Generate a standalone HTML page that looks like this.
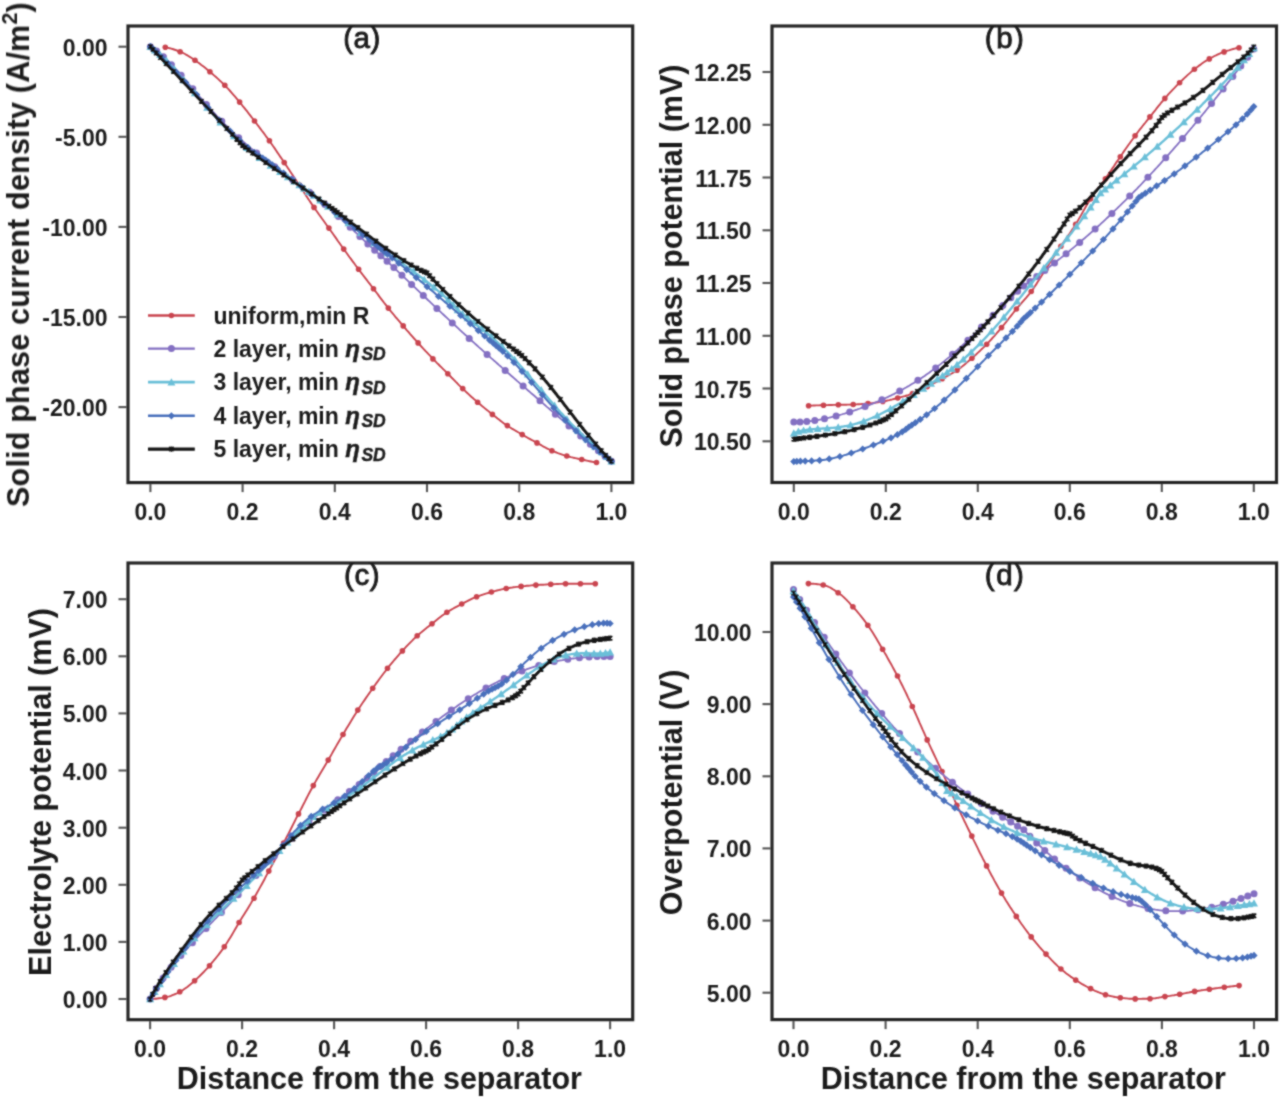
<!DOCTYPE html>
<html><head><meta charset="utf-8"><style>
html,body{margin:0;padding:0;background:#fff;width:1280px;height:1097px;overflow:hidden}
svg{display:block;font-family:"Liberation Sans",sans-serif}
.tk{font-size:23px;font-weight:bold;fill:#1c1c1c}
.ax{font-size:30.5px;font-weight:bold;fill:#1c1c1c}
.pl{font-size:29.5px;font-weight:normal;fill:#1c1c1c;stroke:#1c1c1c;stroke-width:0.9px}
.lg{font-size:23px;font-weight:bold;fill:#1c1c1c}
.eta{font-style:italic;font-size:24px;stroke:#1c1c1c;stroke-width:0.5px}
.sd{font-style:italic;font-size:17.5px;stroke:#1c1c1c;stroke-width:0.4px}
.sup{font-size:21.5px}
</style></head><body>
<svg width="1280" height="1097" viewBox="0 0 1280 1097">
<defs><filter id="bl" x="0" y="0" width="1280" height="1097" filterUnits="userSpaceOnUse"><feConvolveMatrix order="3" kernelMatrix="1 2 1 2 8 2 1 2 1" divisor="20" edgeMode="none"/></filter></defs>
<rect width="1280" height="1097" fill="#fff"/>
<g filter="url(#bl)">
<line x1="150.4" y1="484.1" x2="150.4" y2="492.1" stroke="#555" stroke-width="2.1"/>
<text x="150.4" y="519.6" text-anchor="middle" class="tk">0.0</text>
<line x1="242.6" y1="484.1" x2="242.6" y2="492.1" stroke="#555" stroke-width="2.1"/>
<text x="242.6" y="519.6" text-anchor="middle" class="tk">0.2</text>
<line x1="334.8" y1="484.1" x2="334.8" y2="492.1" stroke="#555" stroke-width="2.1"/>
<text x="334.8" y="519.6" text-anchor="middle" class="tk">0.4</text>
<line x1="427.0" y1="484.1" x2="427.0" y2="492.1" stroke="#555" stroke-width="2.1"/>
<text x="427.0" y="519.6" text-anchor="middle" class="tk">0.6</text>
<line x1="519.2" y1="484.1" x2="519.2" y2="492.1" stroke="#555" stroke-width="2.1"/>
<text x="519.2" y="519.6" text-anchor="middle" class="tk">0.8</text>
<line x1="611.4" y1="484.1" x2="611.4" y2="492.1" stroke="#555" stroke-width="2.1"/>
<text x="611.4" y="519.6" text-anchor="middle" class="tk">1.0</text>
<line x1="126.5" y1="46.7" x2="118.5" y2="46.7" stroke="#555" stroke-width="2.1"/>
<text x="107.5" y="55.7" text-anchor="end" class="tk">0.00</text>
<line x1="126.5" y1="136.8" x2="118.5" y2="136.8" stroke="#555" stroke-width="2.1"/>
<text x="107.5" y="145.8" text-anchor="end" class="tk">-5.00</text>
<line x1="126.5" y1="226.9" x2="118.5" y2="226.9" stroke="#555" stroke-width="2.1"/>
<text x="107.5" y="235.9" text-anchor="end" class="tk">-10.00</text>
<line x1="126.5" y1="317.0" x2="118.5" y2="317.0" stroke="#555" stroke-width="2.1"/>
<text x="107.5" y="326.0" text-anchor="end" class="tk">-15.00</text>
<line x1="126.5" y1="407.1" x2="118.5" y2="407.1" stroke="#555" stroke-width="2.1"/>
<text x="107.5" y="416.1" text-anchor="end" class="tk">-20.00</text>
<path d="M165.4 47.3 L166.8 47.6 L168.3 47.9 L169.7 48.2 L171.2 48.6 L172.6 49.0 L174.0 49.5 L175.5 50.0 L176.9 50.5 L178.3 51.0 L179.8 51.6 L181.2 52.2 L182.7 52.8 L184.1 53.5 L185.5 54.3 L187.0 55.1 L188.4 56.0 L189.8 56.9 L191.3 57.8 L192.7 58.8 L194.2 59.7 L195.6 60.7 L197.0 61.7 L198.5 62.7 L199.9 63.8 L201.3 64.9 L202.8 66.0 L204.2 67.1 L205.7 68.3 L207.1 69.5 L208.5 70.7 L210.0 71.9 L211.4 73.1 L212.8 74.3 L214.3 75.6 L215.7 76.8 L217.2 78.1 L218.6 79.4 L220.0 80.8 L221.5 82.1 L222.9 83.5 L224.3 84.9 L225.8 86.4 L227.2 87.9 L228.7 89.4 L230.1 91.0 L231.5 92.6 L233.0 94.3 L234.4 95.9 L235.9 97.6 L237.3 99.3 L238.7 101.1 L240.2 102.8 L241.6 104.5 L243.0 106.3 L244.5 108.1 L245.9 109.9 L247.4 111.7 L248.8 113.6 L250.2 115.4 L251.7 117.3 L253.1 119.2 L254.5 121.1 L256.0 122.9 L257.4 124.8 L258.9 126.7 L260.3 128.6 L261.7 130.5 L263.2 132.4 L264.6 134.3 L266.0 136.3 L267.5 138.2 L268.9 140.2 L270.4 142.2 L271.8 144.2 L273.2 146.3 L274.7 148.4 L276.1 150.5 L277.5 152.6 L279.0 154.7 L280.4 156.9 L281.9 159.0 L283.3 161.2 L284.7 163.3 L286.2 165.4 L287.6 167.6 L289.1 169.7 L290.5 171.9 L291.9 174.0 L293.4 176.2 L294.8 178.4 L296.2 180.5 L297.7 182.7 L299.1 184.9 L300.6 187.0 L302.0 189.2 L303.4 191.5 L304.9 193.7 L306.3 195.9 L307.7 198.1 L309.2 200.3 L310.6 202.4 L312.1 204.6 L313.5 206.7 L314.9 208.8 L316.4 210.8 L317.8 212.8 L319.2 214.8 L320.7 216.8 L322.1 218.8 L323.6 220.8 L325.0 222.7 L326.4 224.7 L327.9 226.7 L329.3 228.7 L330.7 230.7 L332.2 232.8 L333.6 234.8 L335.1 236.9 L336.5 238.9 L337.9 241.0 L339.4 243.0 L340.8 245.0 L342.2 247.0 L343.7 249.0 L345.1 251.0 L346.6 253.0 L348.0 255.0 L349.4 257.0 L350.9 258.9 L352.3 260.9 L353.8 262.8 L355.2 264.8 L356.6 266.7 L358.1 268.6 L359.5 270.5 L360.9 272.4 L362.4 274.3 L363.8 276.2 L365.3 278.1 L366.7 279.9 L368.1 281.8 L369.6 283.6 L371.0 285.5 L372.4 287.4 L373.9 289.3 L375.3 291.1 L376.8 293.0 L378.2 294.9 L379.6 296.9 L381.1 298.8 L382.5 300.6 L383.9 302.5 L385.4 304.4 L386.8 306.2 L388.3 308.0 L389.7 309.8 L391.1 311.6 L392.6 313.3 L394.0 315.0 L395.4 316.8 L396.9 318.5 L398.3 320.2 L399.8 321.9 L401.2 323.6 L402.6 325.2 L404.1 326.9 L405.5 328.6 L406.9 330.3 L408.4 331.9 L409.8 333.6 L411.3 335.3 L412.7 336.9 L414.1 338.5 L415.6 340.1 L417.0 341.7 L418.5 343.3 L419.9 344.9 L421.3 346.5 L422.8 348.1 L424.2 349.6 L425.6 351.2 L427.1 352.7 L428.5 354.2 L430.0 355.7 L431.4 357.2 L432.8 358.7 L434.3 360.2 L435.7 361.7 L437.1 363.1 L438.6 364.5 L440.0 366.0 L441.5 367.4 L442.9 368.8 L444.3 370.2 L445.8 371.7 L447.2 373.1 L448.6 374.6 L450.1 376.0 L451.5 377.5 L453.0 379.0 L454.4 380.4 L455.8 381.9 L457.3 383.3 L458.7 384.8 L460.1 386.2 L461.6 387.6 L463.0 389.0 L464.5 390.3 L465.9 391.7 L467.3 393.0 L468.8 394.4 L470.2 395.7 L471.6 397.0 L473.1 398.3 L474.5 399.6 L476.0 400.8 L477.4 402.1 L478.8 403.3 L480.3 404.5 L481.7 405.7 L483.2 406.9 L484.6 408.1 L486.0 409.3 L487.5 410.4 L488.9 411.6 L490.3 412.7 L491.8 413.9 L493.2 415.0 L494.7 416.2 L496.1 417.3 L497.5 418.5 L499.0 419.6 L500.4 420.7 L501.8 421.8 L503.3 422.9 L504.7 423.9 L506.2 424.9 L507.6 425.8 L509.0 426.8 L510.5 427.7 L511.9 428.6 L513.3 429.4 L514.8 430.3 L516.2 431.1 L517.7 432.0 L519.1 432.8 L520.5 433.6 L522.0 434.5 L523.4 435.3 L524.8 436.1 L526.3 437.0 L527.7 437.8 L529.2 438.6 L530.6 439.4 L532.0 440.2 L533.5 440.9 L534.9 441.7 L536.4 442.5 L537.8 443.3 L539.2 444.1 L540.7 444.9 L542.1 445.8 L543.5 446.6 L545.0 447.3 L546.4 448.1 L547.9 448.8 L549.3 449.5 L550.7 450.2 L552.2 450.8 L553.6 451.4 L555.0 452.0 L556.5 452.5 L557.9 453.1 L559.4 453.6 L560.8 454.1 L562.2 454.6 L563.7 455.1 L565.1 455.5 L566.5 456.0 L568.0 456.4 L569.4 456.7 L570.9 457.1 L572.3 457.4 L573.7 457.8 L575.2 458.1 L576.6 458.4 L578.0 458.7 L579.5 459.1 L580.9 459.4 L582.4 459.7 L583.8 460.0 L585.2 460.3 L586.7 460.6 L588.1 460.9 L589.5 461.2 L591.0 461.5 L592.4 461.8 L593.9 462.0 L595.3 462.3" fill="none" stroke="#c9444f" stroke-width="1.9" stroke-linejoin="round"/>
<g fill="#c9444f"><circle cx="165.3" cy="47.3" r="2.8"/><circle cx="180.1" cy="51.7" r="2.8"/><circle cx="195.0" cy="60.3" r="2.8"/><circle cx="209.9" cy="71.8" r="2.8"/><circle cx="224.8" cy="85.3" r="2.8"/><circle cx="239.6" cy="102.1" r="2.8"/><circle cx="254.5" cy="121.0" r="2.8"/><circle cx="269.4" cy="140.8" r="2.8"/><circle cx="284.2" cy="162.6" r="2.8"/><circle cx="299.1" cy="184.9" r="2.8"/><circle cx="314.0" cy="207.4" r="2.8"/><circle cx="328.9" cy="228.1" r="2.8"/><circle cx="343.7" cy="249.1" r="2.8"/><circle cx="358.6" cy="269.3" r="2.8"/><circle cx="373.5" cy="288.7" r="2.8"/><circle cx="388.3" cy="308.1" r="2.8"/><circle cx="403.2" cy="325.9" r="2.8"/><circle cx="418.1" cy="342.9" r="2.8"/><circle cx="432.9" cy="358.9" r="2.8"/><circle cx="447.8" cy="373.7" r="2.8"/><circle cx="462.7" cy="388.6" r="2.8"/><circle cx="477.6" cy="402.2" r="2.8"/><circle cx="492.4" cy="414.4" r="2.8"/><circle cx="507.3" cy="425.6" r="2.8"/><circle cx="522.2" cy="434.6" r="2.8"/><circle cx="537.0" cy="442.9" r="2.8"/><circle cx="551.9" cy="450.7" r="2.8"/><circle cx="566.8" cy="456.0" r="2.8"/><circle cx="581.7" cy="459.5" r="2.8"/><circle cx="596.5" cy="462.5" r="2.8"/></g>
<path d="M150.4 46.7 L151.9 47.6 L153.5 48.7 L155.0 49.8 L156.6 50.9 L158.1 52.1 L159.7 53.4 L161.2 54.7 L162.7 56.1 L164.3 57.5 L165.8 59.0 L167.4 60.5 L168.9 62.0 L170.4 63.6 L172.0 65.2 L173.5 66.9 L175.1 68.5 L176.6 70.2 L178.2 71.9 L179.7 73.7 L181.2 75.4 L182.8 77.2 L184.3 78.9 L185.9 80.7 L187.4 82.5 L188.9 84.3 L190.5 86.1 L192.0 87.9 L193.6 89.7 L195.1 91.5 L196.7 93.3 L198.2 95.0 L199.7 96.8 L201.3 98.6 L202.8 100.4 L204.4 102.1 L205.9 103.9 L207.4 105.6 L209.0 107.4 L210.5 109.1 L212.1 110.8 L213.6 112.5 L215.2 114.1 L216.7 115.8 L218.2 117.4 L219.8 119.1 L221.3 120.7 L222.9 122.3 L224.4 123.9 L225.9 125.4 L227.5 127.0 L229.0 128.5 L230.6 130.0 L232.1 131.5 L233.7 133.0 L235.2 134.4 L236.7 135.9 L238.3 137.3 L239.8 138.7 L241.4 140.1 L242.9 141.4 L244.5 142.8 L246.0 144.1 L247.5 145.5 L249.1 146.8 L250.6 148.1 L252.2 149.3 L253.7 150.6 L255.2 151.9 L256.8 153.1 L258.3 154.3 L259.9 155.5 L261.4 156.7 L263.0 157.9 L264.5 159.1 L266.0 160.3 L267.6 161.4 L269.1 162.6 L270.7 163.7 L272.2 164.9 L273.7 166.0 L275.3 167.2 L276.8 168.3 L278.4 169.4 L279.9 170.5 L281.5 171.6 L283.0 172.7 L284.5 173.9 L286.1 175.0 L287.6 176.1 L289.2 177.2 L290.7 178.3 L292.2 179.4 L293.8 180.6 L295.3 181.7 L296.9 182.8 L298.4 183.9 L300.0 185.1 L301.5 186.2 L303.0 187.4 L304.6 188.5 L306.1 189.7 L307.7 190.9 L309.2 192.0 L310.7 193.2 L312.3 194.4 L313.8 195.6 L315.4 196.9 L316.9 198.1 L318.5 199.3 L320.0 200.6 L321.5 201.8 L323.1 203.1 L324.6 204.4 L326.2 205.7 L327.7 207.0 L329.2 208.3 L330.8 209.7 L332.3 211.0 L333.9 212.4 L335.4 213.7 L337.0 215.1 L338.5 216.5 L340.0 217.9 L341.6 219.3 L343.1 220.7 L344.7 222.1 L346.2 223.5 L347.8 225.0 L349.3 226.4 L350.8 227.9 L352.4 229.3 L353.9 230.8 L355.5 232.3 L357.0 233.7 L358.5 235.2 L360.1 236.7 L361.6 238.1 L363.2 239.6 L364.7 241.0 L366.3 242.5 L367.8 243.9 L369.3 245.4 L370.9 246.8 L372.4 248.2 L374.0 249.6 L375.5 251.0 L377.0 252.4 L378.6 253.7 L380.1 255.0 L381.7 256.4 L383.2 257.8 L384.8 259.2 L386.3 260.6 L387.8 262.0 L389.4 263.4 L390.9 264.9 L392.5 266.3 L394.0 267.7 L395.5 269.2 L397.1 270.6 L398.6 272.1 L400.2 273.5 L401.7 275.0 L403.3 276.5 L404.8 277.9 L406.3 279.4 L407.9 280.9 L409.4 282.3 L411.0 283.8 L412.5 285.3 L414.0 286.7 L415.6 288.2 L417.1 289.7 L418.7 291.2 L420.2 292.6 L421.8 294.1 L423.3 295.6 L424.8 297.0 L426.4 298.5 L427.9 300.0 L429.5 301.4 L431.0 302.9 L432.6 304.4 L434.1 305.8 L435.6 307.3 L437.2 308.7 L438.7 310.2 L440.3 311.6 L441.8 313.1 L443.3 314.5 L444.9 316.0 L446.4 317.4 L448.0 318.9 L449.5 320.3 L451.1 321.7 L452.6 323.2 L454.1 324.6 L455.7 326.0 L457.2 327.4 L458.8 328.9 L460.3 330.3 L461.8 331.7 L463.4 333.1 L464.9 334.5 L466.5 335.9 L468.0 337.3 L469.6 338.7 L471.1 340.1 L472.6 341.5 L474.2 342.9 L475.7 344.3 L477.3 345.7 L478.8 347.1 L480.3 348.4 L481.9 349.8 L483.4 351.2 L485.0 352.6 L486.5 353.9 L488.1 355.3 L489.6 356.7 L491.1 358.1 L492.7 359.4 L494.2 360.8 L495.8 362.1 L497.3 363.5 L498.8 364.9 L500.4 366.2 L501.9 367.6 L503.5 368.9 L505.0 370.3 L506.6 371.6 L508.1 373.0 L509.6 374.3 L511.2 375.7 L512.7 377.0 L514.3 378.4 L515.8 379.7 L517.3 381.1 L518.9 382.4 L520.4 383.8 L522.0 385.1 L523.5 386.4 L525.1 387.8 L526.6 389.1 L528.1 390.5 L529.7 391.8 L531.2 393.2 L532.8 394.5 L534.3 395.8 L535.9 397.2 L537.4 398.5 L538.9 399.9 L540.5 401.2 L542.0 402.5 L543.6 403.9 L545.1 405.2 L546.6 406.6 L548.2 407.9 L549.7 409.2 L551.3 410.6 L552.8 411.9 L554.4 413.2 L555.9 414.6 L557.4 415.9 L559.0 417.3 L560.5 418.6 L562.1 419.9 L563.6 421.3 L565.1 422.6 L566.7 423.9 L568.2 425.3 L569.8 426.6 L571.3 427.9 L572.9 429.2 L574.4 430.6 L575.9 431.9 L577.5 433.2 L579.0 434.5 L580.6 435.9 L582.1 437.2 L583.6 438.5 L585.2 439.8 L586.7 441.1 L588.3 442.4 L589.8 443.7 L591.4 445.0 L592.9 446.3 L594.4 447.6 L596.0 448.8 L597.5 450.1 L599.1 451.4 L600.6 452.7 L602.1 453.9 L603.7 455.2 L605.2 456.4 L606.8 457.6 L608.3 458.9 L609.9 460.1 L611.4 461.3" fill="none" stroke="#8470c2" stroke-width="1.8" stroke-linejoin="round"/>
<g fill="#8470c2"><circle cx="150.4" cy="46.7" r="3.5"/><circle cx="156.6" cy="50.9" r="3.5"/><circle cx="163.4" cy="56.7" r="3.5"/><circle cx="171.4" cy="64.7" r="3.5"/><circle cx="181.1" cy="75.3" r="3.5"/><circle cx="192.8" cy="88.7" r="3.5"/><circle cx="206.4" cy="104.4" r="3.5"/><circle cx="221.8" cy="121.2" r="3.5"/><circle cx="238.7" cy="137.7" r="3.5"/><circle cx="256.6" cy="152.9" r="3.5"/><circle cx="274.7" cy="166.8" r="3.5"/><circle cx="292.6" cy="179.7" r="3.5"/><circle cx="309.5" cy="192.3" r="3.5"/><circle cx="324.9" cy="204.6" r="3.5"/><circle cx="338.5" cy="216.5" r="3.5"/><circle cx="350.2" cy="227.2" r="3.5"/><circle cx="359.9" cy="236.4" r="3.5"/><circle cx="367.9" cy="244.0" r="3.5"/><circle cx="374.7" cy="250.3" r="3.5"/><circle cx="380.9" cy="255.7" r="3.5"/><circle cx="387.1" cy="261.3" r="3.5"/><circle cx="393.9" cy="267.6" r="3.5"/><circle cx="401.9" cy="275.2" r="3.5"/><circle cx="411.6" cy="284.4" r="3.5"/><circle cx="423.3" cy="295.5" r="3.5"/><circle cx="436.9" cy="308.5" r="3.5"/><circle cx="452.3" cy="322.9" r="3.5"/><circle cx="469.2" cy="338.4" r="3.5"/><circle cx="487.1" cy="354.4" r="3.5"/><circle cx="505.2" cy="370.5" r="3.5"/><circle cx="523.1" cy="386.1" r="3.5"/><circle cx="540.0" cy="400.8" r="3.5"/><circle cx="555.4" cy="414.2" r="3.5"/><circle cx="569.0" cy="425.9" r="3.5"/><circle cx="580.7" cy="435.9" r="3.5"/><circle cx="590.4" cy="444.2" r="3.5"/><circle cx="598.4" cy="450.8" r="3.5"/><circle cx="605.2" cy="456.4" r="3.5"/><circle cx="611.4" cy="461.3" r="3.5"/></g>
<path d="M150.4 46.7 L151.9 47.8 L153.5 49.0 L155.0 50.2 L156.6 51.5 L158.1 52.8 L159.7 54.2 L161.2 55.6 L162.7 57.0 L164.3 58.5 L165.8 60.1 L167.4 61.7 L168.9 63.3 L170.4 64.9 L172.0 66.5 L173.5 68.2 L175.1 69.9 L176.6 71.7 L178.2 73.4 L179.7 75.2 L181.2 77.0 L182.8 78.8 L184.3 80.6 L185.9 82.4 L187.4 84.2 L188.9 86.0 L190.5 87.8 L192.0 89.7 L193.6 91.5 L195.1 93.4 L196.7 95.2 L198.2 97.0 L199.7 98.8 L201.3 100.7 L202.8 102.5 L204.4 104.3 L205.9 106.1 L207.4 107.8 L209.0 109.6 L210.5 111.4 L212.1 113.1 L213.6 114.8 L215.2 116.6 L216.7 118.3 L218.2 119.9 L219.8 121.6 L221.3 123.3 L222.9 124.9 L224.4 126.5 L225.9 128.1 L227.5 129.7 L229.0 131.2 L230.6 132.7 L232.1 134.2 L233.7 135.7 L235.2 137.2 L236.7 138.6 L238.3 140.1 L239.8 141.5 L241.4 142.9 L242.9 144.2 L244.5 145.5 L246.0 146.9 L247.5 148.2 L249.1 149.4 L250.6 150.7 L252.2 151.9 L253.7 153.2 L255.2 154.4 L256.8 155.5 L258.3 156.7 L259.9 157.9 L261.4 159.0 L263.0 160.1 L264.5 161.2 L266.0 162.3 L267.6 163.4 L269.1 164.5 L270.7 165.5 L272.2 166.6 L273.7 167.6 L275.3 168.6 L276.8 169.7 L278.4 170.7 L279.9 171.7 L281.5 172.7 L283.0 173.8 L284.5 174.8 L286.1 175.8 L287.6 176.8 L289.2 177.9 L290.7 178.9 L292.2 180.0 L293.8 181.1 L295.3 182.1 L296.9 183.2 L298.4 184.3 L300.0 185.5 L301.5 186.6 L303.0 187.8 L304.6 189.0 L306.1 190.0 L307.7 191.1 L309.2 192.2 L310.7 193.3 L312.3 194.4 L313.8 195.6 L315.4 196.7 L316.9 197.9 L318.5 199.1 L320.0 200.2 L321.5 201.4 L323.1 202.6 L324.6 203.9 L326.2 205.1 L327.7 206.3 L329.2 207.5 L330.8 208.8 L332.3 210.0 L333.9 211.3 L335.4 212.5 L337.0 213.7 L338.5 215.0 L340.0 216.2 L341.6 217.5 L343.1 218.7 L344.7 220.0 L346.2 221.2 L347.8 222.5 L349.3 223.7 L350.8 225.0 L352.4 226.2 L353.9 227.4 L355.5 228.6 L357.0 229.9 L358.5 231.1 L360.1 232.3 L361.6 233.5 L363.2 234.7 L364.7 235.9 L366.3 237.1 L367.8 238.3 L369.3 239.5 L370.9 240.7 L372.4 241.8 L374.0 243.0 L375.5 244.1 L377.0 245.3 L378.6 246.5 L380.1 247.6 L381.7 248.7 L383.2 249.9 L384.8 251.0 L386.3 252.1 L387.8 253.2 L389.4 254.4 L390.9 255.5 L392.5 256.6 L394.0 257.7 L395.5 258.8 L397.1 259.9 L398.6 261.0 L400.2 262.1 L401.7 263.2 L403.3 264.3 L404.8 265.4 L406.3 266.5 L407.9 267.6 L409.4 268.7 L411.0 269.8 L412.5 271.0 L414.0 272.1 L415.6 273.2 L417.1 274.3 L418.7 275.5 L420.2 276.6 L421.8 277.8 L423.3 279.0 L424.8 280.1 L426.4 281.3 L427.9 282.5 L429.5 283.8 L431.0 285.0 L432.6 286.2 L434.1 287.5 L435.6 288.8 L437.2 290.1 L438.7 291.4 L440.3 292.8 L441.8 294.1 L443.3 295.5 L444.9 296.9 L446.4 298.4 L448.0 299.9 L449.5 301.4 L451.1 302.9 L452.6 304.5 L454.1 306.1 L455.7 307.7 L457.2 309.4 L458.8 310.9 L460.3 312.2 L461.8 313.4 L463.4 314.7 L464.9 315.9 L466.5 317.2 L468.0 318.4 L469.6 319.5 L471.1 320.7 L472.6 321.9 L474.2 323.1 L475.7 324.3 L477.3 325.5 L478.8 326.7 L480.3 327.9 L481.9 329.1 L483.4 330.3 L485.0 331.6 L486.5 332.8 L488.1 334.1 L489.6 335.4 L491.1 336.7 L492.7 338.0 L494.2 339.4 L495.8 340.8 L497.3 342.2 L498.8 343.6 L500.4 345.1 L501.9 346.5 L503.5 348.0 L505.0 349.5 L506.6 351.1 L508.1 352.6 L509.6 354.2 L511.2 355.8 L512.7 357.5 L514.3 359.1 L515.8 360.8 L517.3 362.4 L518.9 364.1 L520.4 365.9 L522.0 367.6 L523.5 369.3 L525.1 371.1 L526.6 372.9 L528.1 374.6 L529.7 376.4 L531.2 378.2 L532.8 380.0 L534.3 381.8 L535.9 383.7 L537.4 385.5 L538.9 387.3 L540.5 389.1 L542.0 390.9 L543.6 392.7 L545.1 394.6 L546.6 396.4 L548.2 398.2 L549.7 400.0 L551.3 401.8 L552.8 403.5 L554.4 405.3 L555.9 407.0 L557.4 408.8 L559.0 410.5 L560.5 412.2 L562.1 413.9 L563.6 415.6 L565.1 417.3 L566.7 418.9 L568.2 420.6 L569.8 422.2 L571.3 423.8 L572.9 425.4 L574.4 426.9 L575.9 428.5 L577.5 430.0 L579.0 431.5 L580.6 433.0 L582.1 434.5 L583.6 435.9 L585.2 437.4 L586.7 438.8 L588.3 440.2 L589.8 441.6 L591.4 443.0 L592.9 444.4 L594.4 445.8 L596.0 447.2 L597.5 448.5 L599.1 449.9 L600.6 451.3 L602.1 452.7 L603.7 454.1 L605.2 455.5 L606.8 456.9 L608.3 458.3 L609.9 459.8 L611.4 461.3" fill="none" stroke="#6bbfd8" stroke-width="2.4" stroke-linejoin="round"/>
<g fill="#6bbfd8"><path d="M150.4 42.7L154.4 49.9L146.4 49.9Z"/><path d="M155.0 46.2L159.0 53.4L151.0 53.4Z"/><path d="M160.2 50.7L164.2 57.9L156.2 57.9Z"/><path d="M166.6 56.8L170.6 64.0L162.6 64.0Z"/><path d="M174.4 65.2L178.4 72.4L170.4 72.4Z"/><path d="M183.8 76.0L187.8 83.2L179.8 83.2Z"/><path d="M194.9 89.1L198.9 96.3L190.9 96.3Z"/><path d="M207.2 103.6L211.2 110.8L203.2 110.8Z"/><path d="M220.5 118.3L224.5 125.5L216.5 125.5Z"/><path d="M234.0 132.1L238.0 139.3L230.0 139.3Z"/><path d="M247.2 143.9L251.2 151.1L243.2 151.1Z"/><path d="M259.6 153.7L263.6 160.9L255.6 160.9Z"/><path d="M270.6 161.5L274.6 168.7L266.6 168.7Z"/><path d="M280.1 167.8L284.1 175.0L276.1 175.0Z"/><path d="M287.9 173.0L291.9 180.2L283.9 180.2Z"/><path d="M294.2 177.4L298.2 184.6L290.2 184.6Z"/><path d="M299.4 181.1L303.4 188.3L295.4 188.3Z"/><path d="M304.1 184.6L308.1 191.8L300.1 191.8Z"/><path d="M308.7 187.8L312.7 195.0L304.7 195.0Z"/><path d="M313.9 191.6L317.9 198.8L309.9 198.8Z"/><path d="M320.2 196.4L324.2 203.6L316.2 203.6Z"/><path d="M328.0 202.6L332.0 209.8L324.0 209.8Z"/><path d="M337.5 210.2L341.5 217.4L333.5 217.4Z"/><path d="M348.5 219.1L352.5 226.3L344.5 226.3Z"/><path d="M360.9 228.9L364.9 236.1L356.9 236.1Z"/><path d="M374.1 239.1L378.1 246.3L370.1 246.3Z"/><path d="M387.7 249.1L391.7 256.3L383.7 256.3Z"/><path d="M400.9 258.6L404.9 265.8L396.9 265.8Z"/><path d="M413.3 267.5L417.3 274.7L409.3 274.7Z"/><path d="M424.3 275.7L428.3 282.9L420.3 282.9Z"/><path d="M433.8 283.2L437.8 290.4L429.8 290.4Z"/><path d="M441.6 289.9L445.6 297.1L437.6 297.1Z"/><path d="M447.9 295.8L451.9 303.0L443.9 303.0Z"/><path d="M453.1 301.0L457.1 308.2L449.1 308.2Z"/><path d="M457.7 306.0L461.7 313.2L453.7 313.2Z"/><path d="M462.4 309.9L466.4 317.1L458.4 317.1Z"/><path d="M467.6 314.0L471.6 321.2L463.6 321.2Z"/><path d="M473.9 318.9L477.9 326.1L469.9 326.1Z"/><path d="M481.7 324.9L485.7 332.1L477.7 332.1Z"/><path d="M491.2 332.7L495.2 339.9L487.2 339.9Z"/><path d="M502.2 342.8L506.2 350.0L498.2 350.0Z"/><path d="M514.6 355.4L518.6 362.6L510.6 362.6Z"/><path d="M527.8 370.2L531.8 377.4L523.8 377.4Z"/><path d="M541.3 386.1L545.3 393.3L537.3 393.3Z"/><path d="M554.6 401.5L558.6 408.7L550.6 408.7Z"/><path d="M566.9 415.2L570.9 422.4L562.9 422.4Z"/><path d="M578.0 426.5L582.0 433.7L574.0 433.7Z"/><path d="M587.4 435.4L591.4 442.6L583.4 442.6Z"/><path d="M595.2 442.5L599.2 449.7L591.2 449.7Z"/><path d="M601.6 448.1L605.6 455.3L597.6 455.3Z"/><path d="M606.8 452.9L610.8 460.1L602.8 460.1Z"/><path d="M611.4 457.3L615.4 464.5L607.4 464.5Z"/></g>
<path d="M150.4 46.7 L151.9 48.0 L153.5 49.4 L155.0 50.8 L156.6 52.2 L158.1 53.6 L159.7 55.1 L161.2 56.6 L162.7 58.1 L164.3 59.6 L165.8 61.1 L167.4 62.7 L168.9 64.3 L170.4 65.9 L172.0 67.5 L173.5 69.1 L175.1 70.8 L176.6 72.4 L178.2 74.1 L179.7 75.8 L181.2 77.4 L182.8 79.1 L184.3 80.8 L185.9 82.5 L187.4 84.3 L188.9 86.0 L190.5 87.7 L192.0 89.5 L193.6 91.2 L195.1 92.9 L196.7 94.7 L198.2 96.4 L199.7 98.2 L201.3 99.9 L202.8 101.6 L204.4 103.4 L205.9 105.1 L207.4 106.8 L209.0 108.6 L210.5 110.3 L212.1 112.0 L213.6 113.7 L215.2 115.4 L216.7 117.0 L218.2 118.7 L219.8 120.4 L221.3 122.0 L222.9 123.6 L224.4 125.3 L225.9 126.9 L227.5 128.5 L229.0 130.0 L230.6 131.6 L232.1 133.1 L233.7 134.6 L235.2 136.1 L236.7 137.6 L238.3 139.0 L239.8 140.4 L241.4 141.8 L242.9 143.2 L244.5 144.6 L246.0 145.9 L247.5 147.2 L249.1 148.4 L250.6 149.7 L252.2 150.9 L253.7 152.1 L255.2 153.2 L256.8 154.3 L258.3 155.4 L259.9 156.4 L261.4 157.4 L263.0 158.4 L264.5 159.3 L266.0 160.3 L267.6 161.4 L269.1 162.5 L270.7 163.6 L272.2 164.8 L273.7 165.9 L275.3 167.0 L276.8 168.2 L278.4 169.3 L279.9 170.4 L281.5 171.6 L283.0 172.7 L284.5 173.9 L286.1 175.0 L287.6 176.2 L289.2 177.3 L290.7 178.5 L292.2 179.7 L293.8 180.8 L295.3 182.0 L296.9 183.2 L298.4 184.3 L300.0 185.5 L301.5 186.7 L303.0 187.9 L304.6 189.0 L306.1 190.2 L307.7 191.4 L309.2 192.6 L310.7 193.8 L312.3 195.0 L313.8 196.1 L315.4 197.3 L316.9 198.5 L318.5 199.7 L320.0 200.9 L321.5 202.1 L323.1 203.3 L324.6 204.5 L326.2 205.7 L327.7 206.9 L329.2 208.1 L330.8 209.4 L332.3 210.6 L333.9 211.8 L335.4 213.0 L337.0 214.2 L338.5 215.4 L340.0 216.6 L341.6 217.8 L343.1 219.1 L344.7 220.3 L346.2 221.5 L347.8 222.7 L349.3 223.9 L350.8 225.1 L352.4 226.4 L353.9 227.6 L355.5 228.8 L357.0 230.0 L358.5 231.3 L360.1 232.5 L361.6 233.7 L363.2 234.9 L364.7 236.1 L366.3 237.4 L367.8 238.6 L369.3 239.8 L370.9 241.0 L372.4 242.3 L374.0 243.5 L375.5 244.7 L377.0 245.9 L378.6 247.2 L380.1 248.4 L381.7 249.6 L383.2 250.8 L384.8 252.0 L386.3 253.2 L387.8 254.4 L389.4 255.6 L390.9 256.8 L392.5 258.1 L394.0 259.3 L395.5 260.5 L397.1 261.8 L398.6 263.0 L400.2 264.3 L401.7 265.5 L403.3 266.8 L404.8 268.0 L406.3 269.3 L407.9 270.6 L409.4 271.8 L411.0 273.1 L412.5 274.4 L414.0 275.7 L415.6 277.0 L417.1 278.3 L418.7 279.6 L420.2 280.9 L421.8 282.2 L423.3 283.5 L424.8 284.8 L426.4 286.1 L427.9 287.4 L429.5 288.7 L431.0 290.0 L432.6 291.3 L434.1 292.6 L435.6 293.9 L437.2 295.3 L438.7 296.6 L440.3 297.9 L441.8 299.2 L443.3 300.5 L444.9 301.9 L446.4 303.2 L448.0 304.5 L449.5 305.9 L451.1 307.2 L452.6 308.5 L454.1 309.8 L455.7 311.2 L457.2 312.5 L458.8 313.8 L460.3 315.1 L461.8 316.5 L463.4 317.8 L464.9 319.1 L466.5 320.4 L468.0 321.8 L469.6 323.1 L471.1 324.4 L472.6 325.7 L474.2 327.1 L475.7 328.4 L477.3 329.7 L478.8 331.0 L480.3 332.3 L481.9 333.6 L483.4 334.9 L485.0 336.2 L486.5 337.5 L488.1 338.8 L489.6 340.1 L491.1 341.4 L492.7 342.7 L494.2 344.0 L495.8 345.3 L497.3 346.5 L498.8 347.8 L500.4 349.2 L501.9 350.5 L503.5 351.9 L505.0 353.4 L506.6 354.9 L508.1 356.4 L509.6 358.0 L511.2 359.5 L512.7 361.2 L514.3 362.8 L515.8 364.5 L517.3 366.1 L518.9 367.8 L520.4 369.6 L522.0 371.3 L523.5 373.0 L525.1 374.8 L526.6 376.6 L528.1 378.3 L529.7 380.1 L531.2 381.9 L532.8 383.7 L534.3 385.5 L535.9 387.3 L537.4 389.1 L538.9 390.9 L540.5 392.7 L542.0 394.4 L543.6 396.2 L545.1 398.0 L546.6 399.8 L548.2 401.5 L549.7 403.3 L551.3 405.0 L552.8 406.7 L554.4 408.4 L555.9 410.1 L557.4 411.8 L559.0 413.5 L560.5 415.2 L562.1 416.8 L563.6 418.4 L565.1 420.0 L566.7 421.6 L568.2 423.2 L569.8 424.8 L571.3 426.3 L572.9 427.9 L574.4 429.4 L575.9 430.9 L577.5 432.3 L579.0 433.8 L580.6 435.2 L582.1 436.7 L583.6 438.1 L585.2 439.5 L586.7 440.9 L588.3 442.2 L589.8 443.6 L591.4 444.9 L592.9 446.2 L594.4 447.5 L596.0 448.8 L597.5 450.1 L599.1 451.4 L600.6 452.7 L602.1 453.9 L603.7 455.2 L605.2 456.4 L606.8 457.6 L608.3 458.9 L609.9 460.1 L611.4 461.3" fill="none" stroke="#486fbc" stroke-width="2.0" stroke-linejoin="round"/>
<g fill="#486fbc"><path d="M150.4 43.1L154.0 46.7L150.4 50.3L146.8 46.7Z"/><path d="M153.4 45.7L157.0 49.3L153.4 52.9L149.8 49.3Z"/><path d="M157.0 49.0L160.6 52.6L157.0 56.2L153.4 52.6Z"/><path d="M161.8 53.6L165.4 57.2L161.8 60.8L158.2 57.2Z"/><path d="M168.2 60.0L171.8 63.6L168.2 67.2L164.6 63.6Z"/><path d="M176.2 68.4L179.8 72.0L176.2 75.6L172.6 72.0Z"/><path d="M185.8 78.9L189.4 82.5L185.8 86.1L182.2 82.5Z"/><path d="M196.6 91.0L200.2 94.6L196.6 98.2L193.0 94.6Z"/><path d="M208.0 103.9L211.6 107.5L208.0 111.1L204.4 107.5Z"/><path d="M219.4 116.4L223.0 120.0L219.4 123.6L215.8 120.0Z"/><path d="M230.2 127.6L233.8 131.2L230.2 134.8L226.6 131.2Z"/><path d="M239.8 136.8L243.4 140.4L239.8 144.0L236.2 140.4Z"/><path d="M247.8 143.8L251.4 147.4L247.8 151.0L244.2 147.4Z"/><path d="M254.2 148.8L257.8 152.4L254.2 156.0L250.6 152.4Z"/><path d="M259.0 152.3L262.6 155.9L259.0 159.5L255.4 155.9Z"/><path d="M262.7 154.6L266.3 158.2L262.7 161.8L259.1 158.2Z"/><path d="M265.6 156.4L269.2 160.0L265.6 163.6L262.0 160.0Z"/><path d="M268.6 158.6L272.2 162.2L268.6 165.8L265.0 162.2Z"/><path d="M272.3 161.2L275.9 164.8L272.3 168.4L268.7 164.8Z"/><path d="M277.1 164.8L280.7 168.4L277.1 172.0L273.5 168.4Z"/><path d="M283.5 169.5L287.1 173.1L283.5 176.7L279.9 173.1Z"/><path d="M291.5 175.5L295.1 179.1L291.5 182.7L287.9 179.1Z"/><path d="M301.1 182.8L304.7 186.4L301.1 190.0L297.5 186.4Z"/><path d="M311.9 191.0L315.5 194.6L311.9 198.2L308.3 194.6Z"/><path d="M323.3 199.9L326.9 203.5L323.3 207.1L319.7 203.5Z"/><path d="M334.7 208.8L338.3 212.4L334.7 216.0L331.1 212.4Z"/><path d="M345.5 217.3L349.1 220.9L345.5 224.5L341.9 220.9Z"/><path d="M355.1 224.9L358.7 228.5L355.1 232.1L351.5 228.5Z"/><path d="M363.1 231.3L366.7 234.9L363.1 238.5L359.5 234.9Z"/><path d="M369.5 236.3L373.1 239.9L369.5 243.5L365.9 239.9Z"/><path d="M374.3 240.1L377.9 243.7L374.3 247.3L370.7 243.7Z"/><path d="M377.9 243.0L381.5 246.6L377.9 250.2L374.3 246.6Z"/><path d="M380.9 245.4L384.5 249.0L380.9 252.6L377.3 249.0Z"/><path d="M383.9 247.7L387.5 251.3L383.9 254.9L380.3 251.3Z"/><path d="M387.5 250.6L391.1 254.2L387.5 257.8L383.9 254.2Z"/><path d="M392.3 254.4L395.9 258.0L392.3 261.6L388.7 258.0Z"/><path d="M398.7 259.5L402.3 263.1L398.7 266.7L395.1 263.1Z"/><path d="M406.7 266.0L410.3 269.6L406.7 273.2L403.1 269.6Z"/><path d="M416.3 274.0L419.9 277.6L416.3 281.2L412.7 277.6Z"/><path d="M427.1 283.1L430.7 286.7L427.1 290.3L423.5 286.7Z"/><path d="M438.5 292.8L442.1 296.4L438.5 300.0L434.9 296.4Z"/><path d="M449.9 302.6L453.5 306.2L449.9 309.8L446.3 306.2Z"/><path d="M460.7 311.9L464.3 315.5L460.7 319.1L457.1 315.5Z"/><path d="M470.3 320.1L473.9 323.7L470.3 327.3L466.7 323.7Z"/><path d="M478.3 327.0L481.9 330.6L478.3 334.2L474.7 330.6Z"/><path d="M484.7 332.4L488.3 336.0L484.7 339.6L481.1 336.0Z"/><path d="M489.5 336.5L493.1 340.1L489.5 343.7L485.9 340.1Z"/><path d="M493.2 339.5L496.8 343.1L493.2 346.7L489.6 343.1Z"/><path d="M496.1 342.0L499.8 345.6L496.1 349.2L492.5 345.6Z"/><path d="M499.1 344.5L502.7 348.1L499.1 351.7L495.5 348.1Z"/><path d="M502.8 347.7L506.4 351.3L502.8 354.9L499.2 351.3Z"/><path d="M507.6 352.3L511.2 355.9L507.6 359.5L504.0 355.9Z"/><path d="M514.0 358.9L517.6 362.5L514.0 366.1L510.4 362.5Z"/><path d="M522.0 367.7L525.6 371.3L522.0 374.9L518.4 371.3Z"/><path d="M531.6 378.7L535.2 382.3L531.6 385.9L528.0 382.3Z"/><path d="M542.4 391.2L546.0 394.8L542.4 398.4L538.8 394.8Z"/><path d="M553.8 404.2L557.4 407.8L553.8 411.4L550.2 407.8Z"/><path d="M565.2 416.5L568.8 420.1L565.2 423.7L561.6 420.1Z"/><path d="M576.0 427.3L579.6 430.9L576.0 434.5L572.4 430.9Z"/><path d="M585.6 436.2L589.2 439.8L585.6 443.4L582.0 439.8Z"/><path d="M593.6 443.2L597.2 446.8L593.6 450.4L590.0 446.8Z"/><path d="M600.0 448.5L603.6 452.1L600.0 455.7L596.4 452.1Z"/><path d="M604.8 452.4L608.4 456.0L604.8 459.6L601.2 456.0Z"/><path d="M608.4 455.3L612.0 458.9L608.4 462.5L604.8 458.9Z"/><path d="M611.4 457.7L615.0 461.3L611.4 464.9L607.8 461.3Z"/></g>
<path d="M150.4 46.7 L151.9 48.4 L153.5 50.0 L155.0 51.7 L156.6 53.3 L158.1 55.0 L159.7 56.6 L161.2 58.3 L162.7 59.9 L164.3 61.6 L165.8 63.2 L167.4 64.9 L168.9 66.5 L170.4 68.2 L172.0 69.8 L173.5 71.5 L175.1 73.1 L176.6 74.8 L178.2 76.4 L179.7 78.1 L181.2 79.7 L182.8 81.4 L184.3 83.0 L185.9 84.7 L187.4 86.3 L188.9 88.0 L190.5 89.6 L192.0 91.3 L193.6 92.9 L195.1 94.6 L196.7 96.2 L198.2 97.9 L199.7 99.5 L201.3 101.2 L202.8 102.8 L204.4 104.5 L205.9 106.1 L207.4 107.8 L209.0 109.4 L210.5 111.1 L212.1 112.7 L213.6 114.4 L215.2 116.0 L216.7 117.7 L218.2 119.3 L219.8 121.0 L221.3 122.6 L222.9 124.3 L224.4 125.9 L225.9 127.6 L227.5 129.2 L229.0 130.9 L230.6 132.5 L232.1 134.2 L233.7 135.8 L235.2 137.5 L236.7 139.1 L238.3 140.8 L239.8 142.4 L241.4 144.1 L242.9 145.6 L244.5 146.9 L246.0 148.0 L247.5 149.2 L249.1 150.4 L250.6 151.6 L252.2 152.7 L253.7 153.9 L255.2 155.0 L256.8 156.1 L258.3 157.2 L259.9 158.4 L261.4 159.5 L263.0 160.6 L264.5 161.6 L266.0 162.7 L267.6 163.8 L269.1 164.9 L270.7 166.0 L272.2 167.0 L273.7 168.1 L275.3 169.1 L276.8 170.2 L278.4 171.3 L279.9 172.3 L281.5 173.4 L283.0 174.4 L284.5 175.5 L286.1 176.5 L287.6 177.6 L289.2 178.6 L290.7 179.6 L292.2 180.7 L293.8 181.7 L295.3 182.8 L296.9 183.8 L298.4 184.9 L300.0 185.9 L301.5 187.0 L303.0 188.1 L304.6 189.1 L306.1 190.2 L307.7 191.2 L309.2 192.3 L310.7 193.4 L312.3 194.5 L313.8 195.5 L315.4 196.6 L316.9 197.7 L318.5 198.8 L320.0 199.9 L321.5 201.0 L323.1 202.1 L324.6 203.2 L326.2 204.3 L327.7 205.4 L329.2 206.5 L330.8 207.6 L332.3 208.7 L333.9 209.8 L335.4 211.0 L337.0 212.1 L338.5 213.2 L340.0 214.4 L341.6 215.5 L343.1 216.6 L344.7 217.8 L346.2 218.9 L347.8 220.1 L349.3 221.2 L350.8 222.4 L352.4 223.6 L353.9 224.7 L355.5 225.9 L357.0 227.0 L358.5 228.2 L360.1 229.3 L361.6 230.5 L363.2 231.7 L364.7 232.8 L366.3 234.0 L367.8 235.2 L369.3 236.3 L370.9 237.5 L372.4 238.6 L374.0 239.8 L375.5 240.9 L377.0 242.0 L378.6 243.2 L380.1 244.3 L381.7 245.4 L383.2 246.6 L384.8 247.7 L386.3 248.8 L387.8 249.9 L389.4 251.0 L390.9 252.1 L392.5 253.1 L394.0 254.2 L395.5 255.2 L397.1 256.3 L398.6 257.3 L400.2 258.3 L401.7 259.3 L403.3 260.3 L404.8 261.3 L406.3 262.2 L407.9 263.1 L409.4 264.1 L411.0 265.0 L412.5 265.8 L414.0 266.7 L415.6 267.5 L417.1 268.3 L418.7 269.1 L420.2 269.9 L421.8 270.6 L423.3 271.3 L424.8 272.0 L426.4 272.6 L427.9 273.9 L429.5 275.6 L431.0 277.3 L432.6 278.9 L434.1 280.5 L435.6 282.2 L437.2 283.8 L438.7 285.4 L440.3 286.9 L441.8 288.5 L443.3 290.0 L444.9 291.6 L446.4 293.1 L448.0 294.6 L449.5 296.1 L451.1 297.6 L452.6 299.0 L454.1 300.5 L455.7 301.9 L457.2 303.3 L458.8 304.7 L460.3 306.2 L461.8 307.5 L463.4 308.9 L464.9 310.3 L466.5 311.7 L468.0 313.0 L469.6 314.3 L471.1 315.7 L472.6 317.0 L474.2 318.3 L475.7 319.6 L477.3 320.9 L478.8 322.2 L480.3 323.4 L481.9 324.7 L483.4 326.0 L485.0 327.2 L486.5 328.4 L488.1 329.7 L489.6 330.9 L491.1 332.1 L492.7 333.3 L494.2 334.5 L495.8 335.7 L497.3 336.9 L498.8 338.1 L500.4 339.3 L501.9 340.5 L503.5 341.6 L505.0 342.8 L506.6 344.0 L508.1 345.1 L509.6 346.3 L511.2 347.4 L512.7 348.5 L514.3 349.7 L515.8 350.8 L517.3 351.9 L518.9 353.1 L520.4 354.4 L522.0 355.7 L523.5 357.1 L525.1 358.6 L526.6 360.1 L528.1 361.6 L529.7 363.2 L531.2 364.8 L532.8 366.4 L534.3 368.0 L535.9 369.7 L537.4 371.4 L538.9 373.2 L540.5 374.9 L542.0 376.7 L543.6 378.5 L545.1 380.4 L546.6 382.2 L548.2 384.1 L549.7 386.0 L551.3 387.9 L552.8 389.8 L554.4 391.8 L555.9 393.7 L557.4 395.7 L559.0 397.6 L560.5 399.6 L562.1 401.6 L563.6 403.6 L565.1 405.6 L566.7 407.6 L568.2 409.6 L569.8 411.6 L571.3 413.6 L572.9 415.6 L574.4 417.6 L575.9 419.6 L577.5 421.6 L579.0 423.6 L580.6 425.6 L582.1 427.5 L583.6 429.5 L585.2 431.4 L586.7 433.4 L588.3 435.3 L589.8 437.2 L591.4 439.1 L592.9 440.9 L594.4 442.8 L596.0 444.6 L597.5 446.4 L599.1 448.1 L600.6 449.9 L602.1 451.6 L603.7 453.3 L605.2 455.0 L606.8 456.6 L608.3 458.2 L609.9 459.8 L611.4 461.3" fill="none" stroke="#141414" stroke-width="3.0" stroke-linejoin="round"/>
<g stroke="#141414" stroke-width="1.6" fill="none"><path d="M148.2 44.5L152.6 48.9M152.6 44.5L148.2 48.9M150.4 44.1V49.3"/><path d="M150.8 47.2L155.2 51.6M155.2 47.2L150.8 51.6M153.0 46.8V52.1"/><path d="M154.0 50.7L158.4 55.1M158.4 50.7L154.0 55.1M156.2 50.2V55.5"/><path d="M158.3 55.3L162.7 59.7M162.7 55.3L158.3 59.7M160.5 54.8V60.1"/><path d="M164.0 61.4L168.4 65.8M168.4 61.4L164.0 65.8M166.2 61.0V66.3"/><path d="M171.3 69.2L175.7 73.6M175.7 69.2L171.3 73.6M173.5 68.8V74.1"/><path d="M179.9 78.4L184.3 82.8M184.3 78.4L179.9 82.8M182.1 78.0V83.3"/><path d="M189.4 88.6L193.8 93.0M193.8 88.6L189.4 93.0M191.6 88.2V93.4"/><path d="M199.2 99.1L203.6 103.5M203.6 99.1L199.2 103.5M201.4 98.7V103.9"/><path d="M208.7 109.3L213.1 113.7M213.1 109.3L208.7 113.7M210.9 108.8V114.1"/><path d="M217.3 118.5L221.7 122.9M221.7 118.5L217.3 122.9M219.5 118.0V123.3"/><path d="M224.6 126.3L229.0 130.7M229.0 126.3L224.6 130.7M226.8 125.8V131.1"/><path d="M230.3 132.4L234.7 136.8M234.7 132.4L230.3 136.8M232.5 132.0V137.3"/><path d="M234.6 137.0L239.0 141.4M239.0 137.0L234.6 141.4M236.8 136.6V141.9"/><path d="M237.8 140.5L242.2 144.9M242.2 140.5L237.8 144.9M240.0 140.0V145.3"/><path d="M240.4 143.2L244.8 147.6M244.8 143.2L240.4 147.6M242.6 142.8V148.0"/><path d="M243.0 145.2L247.4 149.6M247.4 145.2L243.0 149.6M245.2 144.8V150.0"/><path d="M246.2 147.7L250.6 152.1M250.6 147.7L246.2 152.1M248.4 147.2V152.5"/><path d="M250.5 150.9L254.9 155.3M254.9 150.9L250.5 155.3M252.7 150.5V155.7"/><path d="M256.2 155.1L260.6 159.5M260.6 155.1L256.2 159.5M258.4 154.7V160.0"/><path d="M263.5 160.3L267.9 164.7M267.9 160.3L263.5 164.7M265.7 159.9V165.1"/><path d="M272.1 166.3L276.5 170.7M276.5 166.3L272.1 170.7M274.3 165.8V171.1"/><path d="M281.6 172.8L286.0 177.2M286.0 172.8L281.6 177.2M283.8 172.3V177.6"/><path d="M291.4 179.4L295.8 183.8M295.8 179.4L291.4 183.8M293.6 179.0V184.3"/><path d="M300.9 185.9L305.3 190.3M305.3 185.9L300.9 190.3M303.1 185.5V190.7"/><path d="M309.5 191.8L313.9 196.2M313.9 191.8L309.5 196.2M311.7 191.4V196.7"/><path d="M316.8 196.9L321.2 201.3M321.2 196.9L316.8 201.3M319.0 196.5V201.8"/><path d="M322.5 201.0L326.9 205.4M326.9 201.0L322.5 205.4M324.7 200.6V205.9"/><path d="M326.8 204.1L331.2 208.5M331.2 204.1L326.8 208.5M329.0 203.7V209.0"/><path d="M330.0 206.4L334.4 210.8M334.4 206.4L330.0 210.8M332.2 206.0V211.3"/><path d="M332.6 208.3L337.0 212.7M337.0 208.3L332.6 212.7M334.8 207.9V213.2"/><path d="M335.2 210.2L339.6 214.6M339.6 210.2L335.2 214.6M337.4 209.8V215.0"/><path d="M338.4 212.5L342.8 216.9M342.8 212.5L338.4 216.9M340.6 212.1V217.4"/><path d="M342.7 215.7L347.1 220.1M347.1 215.7L342.7 220.1M344.9 215.3V220.6"/><path d="M348.4 220.0L352.8 224.4M352.8 220.0L348.4 224.4M350.6 219.6V224.9"/><path d="M355.7 225.5L360.1 229.9M360.1 225.5L355.7 229.9M357.9 225.1V230.3"/><path d="M364.3 232.0L368.7 236.4M368.7 232.0L364.3 236.4M366.5 231.5V236.8"/><path d="M373.8 239.1L378.2 243.5M378.2 239.1L373.8 243.5M376.0 238.6V243.9"/><path d="M383.6 246.2L388.0 250.6M388.0 246.2L383.6 250.6M385.8 245.8V251.1"/><path d="M393.1 252.9L397.5 257.3M397.5 252.9L393.1 257.3M395.3 252.4V257.7"/><path d="M401.7 258.5L406.1 262.9M406.1 258.5L401.7 262.9M403.9 258.1V263.3"/><path d="M409.0 262.9L413.4 267.3M413.4 262.9L409.0 267.3M411.2 262.4V267.7"/><path d="M414.7 266.0L419.1 270.4M419.1 266.0L414.7 270.4M416.9 265.6V270.9"/><path d="M419.0 268.2L423.4 272.6M423.4 268.2L419.0 272.6M421.2 267.7V273.0"/><path d="M422.2 269.6L426.6 274.0M426.6 269.6L422.2 274.0M424.4 269.2V274.5"/><path d="M424.8 270.7L429.2 275.1M429.2 270.7L424.8 275.1M427.0 270.3V275.5"/><path d="M427.4 273.5L431.8 277.9M431.8 273.5L427.4 277.9M429.6 273.1V278.3"/><path d="M430.6 276.9L435.0 281.3M435.0 276.9L430.6 281.3M432.8 276.5V281.8"/><path d="M434.9 281.5L439.3 285.9M439.3 281.5L434.9 285.9M437.1 281.0V286.3"/><path d="M440.6 287.3L445.0 291.7M445.0 287.3L440.6 291.7M442.8 286.9V292.2"/><path d="M447.9 294.4L452.3 298.8M452.3 294.4L447.9 298.8M450.1 294.0V299.3"/><path d="M456.5 302.5L460.9 306.9M460.9 302.5L456.5 306.9M458.7 302.1V307.3"/><path d="M466.0 311.0L470.4 315.4M470.4 311.0L466.0 315.4M468.2 310.5V315.8"/><path d="M475.8 319.3L480.2 323.7M480.2 319.3L475.8 323.7M478.0 318.9V324.1"/><path d="M485.3 327.0L489.7 331.4M489.7 327.0L485.3 331.4M487.5 326.6V331.9"/><path d="M493.9 333.8L498.3 338.2M498.3 333.8L493.9 338.2M496.1 333.3V338.6"/><path d="M501.2 339.3L505.6 343.7M505.6 339.3L501.2 343.7M503.4 338.9V344.2"/><path d="M506.9 343.7L511.3 348.1M511.3 343.7L506.9 348.1M509.1 343.2V348.5"/><path d="M511.2 346.9L515.6 351.3M515.6 346.9L511.2 351.3M513.4 346.4V351.7"/><path d="M514.4 349.2L518.8 353.6M518.8 349.2L514.4 353.6M516.6 348.8V354.1"/><path d="M517.0 351.1L521.4 355.5M521.4 351.1L517.0 355.5M519.2 350.7V355.9"/><path d="M519.6 353.3L524.0 357.7M524.0 353.3L519.6 357.7M521.8 352.9V358.2"/><path d="M522.8 356.3L527.2 360.7M527.2 356.3L522.8 360.7M525.0 355.9V361.1"/><path d="M527.1 360.5L531.5 364.9M531.5 360.5L527.1 364.9M529.3 360.1V365.4"/><path d="M532.8 366.6L537.2 371.0M537.2 366.6L532.8 371.0M535.0 366.2V371.5"/><path d="M540.1 374.9L544.5 379.3M544.5 374.9L540.1 379.3M542.3 374.4V379.7"/><path d="M548.7 385.2L553.1 389.6M553.1 385.2L548.7 389.6M550.9 384.8V390.1"/><path d="M558.2 397.3L562.6 401.7M562.6 397.3L558.2 401.7M560.4 396.8V402.1"/><path d="M568.0 410.0L572.4 414.4M572.4 410.0L568.0 414.4M570.2 409.5V414.8"/><path d="M577.5 422.3L581.9 426.7M581.9 422.3L577.5 426.7M579.7 421.8V427.1"/><path d="M586.1 433.1L590.5 437.5M590.5 433.1L586.1 437.5M588.3 432.7V437.9"/><path d="M593.4 441.9L597.8 446.3M597.8 441.9L593.4 446.3M595.6 441.4V446.7"/><path d="M599.1 448.5L603.5 452.9M603.5 448.5L599.1 452.9M601.3 448.1V453.3"/><path d="M603.4 453.2L607.8 457.6M607.8 453.2L603.4 457.6M605.6 452.8V458.1"/><path d="M606.6 456.5L611.0 460.9M611.0 456.5L606.6 460.9M608.8 456.1V461.4"/><path d="M609.2 459.1L613.6 463.5M613.6 459.1L609.2 463.5M611.4 458.7V463.9"/></g>
<rect x="128.0" y="26.0" width="504.7" height="456.6" fill="none" stroke="#282828" stroke-width="3.2"/>
<text x="362.1" y="48.3" text-anchor="middle" class="pl" letter-spacing="0.6">(a)</text>
<text transform="translate(29,254.5) rotate(-90)" text-anchor="middle" class="ax" letter-spacing="0.19">Solid phase current density (A/m<tspan class="sup" dy="-12">2</tspan><tspan dy="12">)</tspan></text>
<line x1="793.8" y1="484.0" x2="793.8" y2="492.0" stroke="#555" stroke-width="2.1"/>
<text x="793.8" y="519.5" text-anchor="middle" class="tk">0.0</text>
<line x1="885.8" y1="484.0" x2="885.8" y2="492.0" stroke="#555" stroke-width="2.1"/>
<text x="885.8" y="519.5" text-anchor="middle" class="tk">0.2</text>
<line x1="977.8" y1="484.0" x2="977.8" y2="492.0" stroke="#555" stroke-width="2.1"/>
<text x="977.8" y="519.5" text-anchor="middle" class="tk">0.4</text>
<line x1="1069.8" y1="484.0" x2="1069.8" y2="492.0" stroke="#555" stroke-width="2.1"/>
<text x="1069.8" y="519.5" text-anchor="middle" class="tk">0.6</text>
<line x1="1161.8" y1="484.0" x2="1161.8" y2="492.0" stroke="#555" stroke-width="2.1"/>
<text x="1161.8" y="519.5" text-anchor="middle" class="tk">0.8</text>
<line x1="1253.8" y1="484.0" x2="1253.8" y2="492.0" stroke="#555" stroke-width="2.1"/>
<text x="1253.8" y="519.5" text-anchor="middle" class="tk">1.0</text>
<line x1="770.5" y1="72.0" x2="762.5" y2="72.0" stroke="#555" stroke-width="2.1"/>
<text x="751.5" y="81.0" text-anchor="end" class="tk">12.25</text>
<line x1="770.5" y1="124.8" x2="762.5" y2="124.8" stroke="#555" stroke-width="2.1"/>
<text x="751.5" y="133.8" text-anchor="end" class="tk">12.00</text>
<line x1="770.5" y1="177.5" x2="762.5" y2="177.5" stroke="#555" stroke-width="2.1"/>
<text x="751.5" y="186.5" text-anchor="end" class="tk">11.75</text>
<line x1="770.5" y1="230.3" x2="762.5" y2="230.3" stroke="#555" stroke-width="2.1"/>
<text x="751.5" y="239.3" text-anchor="end" class="tk">11.50</text>
<line x1="770.5" y1="283.0" x2="762.5" y2="283.0" stroke="#555" stroke-width="2.1"/>
<text x="751.5" y="292.0" text-anchor="end" class="tk">11.25</text>
<line x1="770.5" y1="335.8" x2="762.5" y2="335.8" stroke="#555" stroke-width="2.1"/>
<text x="751.5" y="344.8" text-anchor="end" class="tk">11.00</text>
<line x1="770.5" y1="388.5" x2="762.5" y2="388.5" stroke="#555" stroke-width="2.1"/>
<text x="751.5" y="397.5" text-anchor="end" class="tk">10.75</text>
<line x1="770.5" y1="441.3" x2="762.5" y2="441.3" stroke="#555" stroke-width="2.1"/>
<text x="751.5" y="450.3" text-anchor="end" class="tk">10.50</text>
<path d="M808.9 405.7 L810.3 405.6 L811.8 405.6 L813.2 405.5 L814.7 405.5 L816.1 405.4 L817.5 405.4 L819.0 405.4 L820.4 405.3 L821.8 405.3 L823.3 405.2 L824.7 405.2 L826.2 405.1 L827.6 405.1 L829.0 405.0 L830.5 405.0 L831.9 405.0 L833.4 404.9 L834.8 404.9 L836.2 404.9 L837.7 404.8 L839.1 404.8 L840.5 404.8 L842.0 404.7 L843.4 404.7 L844.9 404.7 L846.3 404.7 L847.7 404.6 L849.2 404.6 L850.6 404.6 L852.1 404.5 L853.5 404.5 L854.9 404.5 L856.4 404.4 L857.8 404.3 L859.2 404.2 L860.7 404.1 L862.1 404.0 L863.6 403.9 L865.0 403.8 L866.4 403.7 L867.9 403.6 L869.3 403.4 L870.8 403.3 L872.2 403.1 L873.6 402.9 L875.1 402.7 L876.5 402.5 L877.9 402.3 L879.4 402.0 L880.8 401.8 L882.3 401.5 L883.7 401.3 L885.1 401.0 L886.6 400.7 L888.0 400.4 L889.5 400.1 L890.9 399.7 L892.3 399.4 L893.8 399.0 L895.2 398.6 L896.6 398.3 L898.1 397.9 L899.5 397.5 L901.0 397.1 L902.4 396.8 L903.8 396.4 L905.3 396.0 L906.7 395.5 L908.2 395.1 L909.6 394.6 L911.0 394.1 L912.5 393.6 L913.9 393.1 L915.3 392.5 L916.8 391.9 L918.2 391.2 L919.7 390.5 L921.1 389.8 L922.5 389.1 L924.0 388.3 L925.4 387.6 L926.9 386.9 L928.3 386.2 L929.7 385.4 L931.2 384.7 L932.6 383.9 L934.0 383.2 L935.5 382.4 L936.9 381.7 L938.4 380.9 L939.8 380.1 L941.2 379.3 L942.7 378.5 L944.1 377.7 L945.6 376.9 L947.0 376.1 L948.4 375.4 L949.9 374.5 L951.3 373.7 L952.7 372.9 L954.2 372.0 L955.6 371.1 L957.1 370.2 L958.5 369.2 L959.9 368.1 L961.4 367.1 L962.8 365.9 L964.3 364.7 L965.7 363.5 L967.1 362.3 L968.6 361.1 L970.0 359.8 L971.4 358.5 L972.9 357.3 L974.3 356.0 L975.8 354.7 L977.2 353.4 L978.6 352.1 L980.1 350.7 L981.5 349.3 L983.0 347.9 L984.4 346.5 L985.8 345.1 L987.3 343.6 L988.7 342.1 L990.1 340.6 L991.6 339.0 L993.0 337.4 L994.5 335.8 L995.9 334.2 L997.3 332.5 L998.8 330.8 L1000.2 329.2 L1001.7 327.5 L1003.1 325.7 L1004.5 324.0 L1006.0 322.2 L1007.4 320.4 L1008.8 318.5 L1010.3 316.7 L1011.7 314.9 L1013.2 313.0 L1014.6 311.2 L1016.0 309.5 L1017.5 307.7 L1018.9 306.0 L1020.4 304.4 L1021.8 302.7 L1023.2 301.1 L1024.7 299.4 L1026.1 297.8 L1027.5 296.1 L1029.0 294.3 L1030.4 292.5 L1031.9 290.6 L1033.3 288.6 L1034.7 286.5 L1036.2 284.4 L1037.6 282.1 L1039.1 279.8 L1040.5 277.5 L1041.9 275.2 L1043.4 272.9 L1044.8 270.6 L1046.2 268.4 L1047.7 266.2 L1049.1 264.0 L1050.6 261.8 L1052.0 259.6 L1053.4 257.4 L1054.9 255.2 L1056.3 253.0 L1057.8 250.9 L1059.2 248.7 L1060.6 246.6 L1062.1 244.4 L1063.5 242.3 L1064.9 240.2 L1066.4 238.2 L1067.8 236.1 L1069.3 234.1 L1070.7 232.0 L1072.1 229.9 L1073.6 227.7 L1075.0 225.5 L1076.5 223.2 L1077.9 220.8 L1079.3 218.3 L1080.8 215.8 L1082.2 213.2 L1083.6 210.6 L1085.1 208.0 L1086.5 205.5 L1088.0 203.1 L1089.4 200.8 L1090.8 198.6 L1092.3 196.5 L1093.7 194.5 L1095.2 192.5 L1096.6 190.6 L1098.0 188.7 L1099.5 186.8 L1100.9 184.9 L1102.3 182.9 L1103.8 181.0 L1105.2 178.9 L1106.7 176.9 L1108.1 174.8 L1109.5 172.6 L1111.0 170.5 L1112.4 168.3 L1113.9 166.2 L1115.3 164.0 L1116.7 161.9 L1118.2 159.8 L1119.6 157.7 L1121.0 155.6 L1122.5 153.5 L1123.9 151.4 L1125.4 149.3 L1126.8 147.3 L1128.2 145.2 L1129.7 143.2 L1131.1 141.2 L1132.6 139.2 L1134.0 137.2 L1135.4 135.3 L1136.9 133.4 L1138.3 131.5 L1139.7 129.7 L1141.2 127.8 L1142.6 126.0 L1144.1 124.2 L1145.5 122.5 L1146.9 120.7 L1148.4 118.9 L1149.8 117.1 L1151.3 115.3 L1152.7 113.4 L1154.1 111.6 L1155.6 109.8 L1157.0 107.9 L1158.4 106.1 L1159.9 104.3 L1161.3 102.5 L1162.8 100.8 L1164.2 99.1 L1165.6 97.4 L1167.1 95.8 L1168.5 94.2 L1170.0 92.6 L1171.4 91.1 L1172.8 89.6 L1174.3 88.1 L1175.7 86.6 L1177.1 85.1 L1178.6 83.7 L1180.0 82.3 L1181.5 80.9 L1182.9 79.5 L1184.3 78.1 L1185.8 76.8 L1187.2 75.4 L1188.7 74.1 L1190.1 72.9 L1191.5 71.6 L1193.0 70.4 L1194.4 69.3 L1195.8 68.1 L1197.3 67.0 L1198.7 65.9 L1200.2 64.9 L1201.6 63.8 L1203.0 62.8 L1204.5 61.8 L1205.9 60.9 L1207.4 60.0 L1208.8 59.1 L1210.2 58.3 L1211.7 57.5 L1213.1 56.8 L1214.5 56.0 L1216.0 55.3 L1217.4 54.6 L1218.9 54.0 L1220.3 53.3 L1221.7 52.7 L1223.2 52.2 L1224.6 51.7 L1226.1 51.2 L1227.5 50.7 L1228.9 50.3 L1230.4 49.8 L1231.8 49.4 L1233.2 49.0 L1234.7 48.6 L1236.1 48.3 L1237.6 48.0 L1239.0 47.7" fill="none" stroke="#c9444f" stroke-width="1.9" stroke-linejoin="round"/>
<g fill="#c9444f"><circle cx="808.6" cy="405.7" r="2.8"/><circle cx="823.5" cy="405.2" r="2.8"/><circle cx="838.3" cy="404.8" r="2.8"/><circle cx="853.2" cy="404.5" r="2.8"/><circle cx="868.0" cy="403.5" r="2.8"/><circle cx="882.8" cy="401.4" r="2.8"/><circle cx="897.7" cy="398.0" r="2.8"/><circle cx="912.5" cy="393.6" r="2.8"/><circle cx="927.3" cy="386.6" r="2.8"/><circle cx="942.2" cy="378.8" r="2.8"/><circle cx="957.0" cy="370.2" r="2.8"/><circle cx="971.9" cy="358.2" r="2.8"/><circle cx="986.7" cy="344.2" r="2.8"/><circle cx="1001.5" cy="327.6" r="2.8"/><circle cx="1016.4" cy="309.0" r="2.8"/><circle cx="1031.2" cy="291.5" r="2.8"/><circle cx="1046.1" cy="268.7" r="2.8"/><circle cx="1060.9" cy="246.2" r="2.8"/><circle cx="1075.7" cy="224.3" r="2.8"/><circle cx="1090.6" cy="199.0" r="2.8"/><circle cx="1105.4" cy="178.7" r="2.8"/><circle cx="1120.3" cy="156.7" r="2.8"/><circle cx="1135.1" cy="135.7" r="2.8"/><circle cx="1149.9" cy="116.9" r="2.8"/><circle cx="1164.8" cy="98.4" r="2.8"/><circle cx="1179.6" cy="82.7" r="2.8"/><circle cx="1194.4" cy="69.2" r="2.8"/><circle cx="1209.3" cy="58.9" r="2.8"/><circle cx="1224.1" cy="51.9" r="2.8"/><circle cx="1239.0" cy="47.7" r="2.8"/></g>
<path d="M793.8 422.0 L795.3 422.0 L796.9 422.0 L798.4 422.0 L800.0 422.0 L801.5 421.9 L803.0 421.8 L804.6 421.7 L806.1 421.6 L807.6 421.4 L809.2 421.2 L810.7 421.1 L812.3 420.9 L813.8 420.6 L815.3 420.4 L816.9 420.2 L818.4 419.9 L820.0 419.6 L821.5 419.3 L823.0 419.0 L824.6 418.7 L826.1 418.4 L827.6 418.0 L829.2 417.7 L830.7 417.3 L832.3 416.9 L833.8 416.5 L835.3 416.1 L836.9 415.7 L838.4 415.3 L840.0 414.9 L841.5 414.5 L843.0 414.0 L844.6 413.6 L846.1 413.1 L847.6 412.6 L849.2 412.1 L850.7 411.6 L852.3 411.1 L853.8 410.6 L855.3 410.1 L856.9 409.6 L858.4 409.0 L860.0 408.5 L861.5 407.9 L863.0 407.4 L864.6 406.8 L866.1 406.2 L867.6 405.6 L869.2 405.0 L870.7 404.4 L872.3 403.8 L873.8 403.2 L875.3 402.5 L876.9 401.9 L878.4 401.2 L880.0 400.6 L881.5 399.9 L883.0 399.2 L884.6 398.5 L886.1 397.8 L887.6 397.1 L889.2 396.3 L890.7 395.6 L892.3 394.8 L893.8 394.1 L895.3 393.3 L896.9 392.5 L898.4 391.7 L900.0 390.9 L901.5 390.0 L903.0 389.2 L904.6 388.3 L906.1 387.5 L907.6 386.6 L909.2 385.7 L910.7 384.8 L912.3 383.8 L913.8 382.9 L915.3 381.9 L916.9 381.0 L918.4 380.0 L920.0 379.0 L921.5 378.0 L923.0 376.9 L924.6 375.9 L926.1 374.8 L927.6 373.8 L929.2 372.7 L930.7 371.6 L932.3 370.4 L933.8 369.3 L935.3 368.1 L936.9 367.0 L938.4 365.8 L940.0 364.6 L941.5 363.4 L943.0 362.1 L944.6 360.9 L946.1 359.6 L947.6 358.4 L949.2 357.1 L950.7 355.8 L952.3 354.5 L953.8 353.1 L955.3 351.8 L956.9 350.4 L958.4 349.0 L960.0 347.6 L961.5 346.2 L963.0 344.8 L964.6 343.4 L966.1 342.0 L967.6 340.5 L969.2 339.0 L970.7 337.6 L972.3 336.1 L973.8 334.6 L975.3 333.1 L976.9 331.6 L978.4 330.1 L980.0 328.5 L981.5 327.0 L983.0 325.5 L984.6 323.9 L986.1 322.4 L987.6 320.8 L989.2 319.3 L990.7 317.7 L992.3 316.1 L993.8 314.6 L995.3 313.0 L996.9 311.5 L998.4 309.9 L1000.0 308.4 L1001.5 306.8 L1003.0 305.3 L1004.6 303.8 L1006.1 302.3 L1007.6 300.7 L1009.2 299.2 L1010.7 297.8 L1012.3 296.3 L1013.8 294.8 L1015.3 293.4 L1016.9 292.0 L1018.4 290.6 L1020.0 289.2 L1021.5 287.8 L1023.0 286.5 L1024.6 285.3 L1026.1 284.2 L1027.6 283.1 L1029.2 282.0 L1030.7 280.8 L1032.3 279.7 L1033.8 278.6 L1035.3 277.4 L1036.9 276.3 L1038.4 275.2 L1040.0 274.0 L1041.5 272.9 L1043.0 271.7 L1044.6 270.5 L1046.1 269.4 L1047.6 268.2 L1049.2 267.0 L1050.7 265.8 L1052.3 264.6 L1053.8 263.4 L1055.3 262.2 L1056.9 261.0 L1058.4 259.8 L1060.0 258.6 L1061.5 257.4 L1063.0 256.2 L1064.6 254.9 L1066.1 253.7 L1067.6 252.4 L1069.2 251.2 L1070.7 249.9 L1072.3 248.6 L1073.8 247.4 L1075.3 246.1 L1076.9 244.8 L1078.4 243.5 L1080.0 242.2 L1081.5 240.9 L1083.0 239.5 L1084.6 238.2 L1086.1 236.9 L1087.6 235.6 L1089.2 234.2 L1090.7 232.9 L1092.3 231.5 L1093.8 230.1 L1095.3 228.7 L1096.9 227.4 L1098.4 226.0 L1100.0 224.6 L1101.5 223.2 L1103.0 221.8 L1104.6 220.3 L1106.1 218.9 L1107.6 217.5 L1109.2 216.0 L1110.7 214.6 L1112.3 213.1 L1113.8 211.7 L1115.3 210.2 L1116.9 208.7 L1118.4 207.2 L1120.0 205.7 L1121.5 204.2 L1123.0 202.7 L1124.6 201.2 L1126.1 199.7 L1127.6 198.1 L1129.2 196.6 L1130.7 195.0 L1132.3 193.5 L1133.8 191.9 L1135.3 190.3 L1136.9 188.8 L1138.4 187.2 L1140.0 185.6 L1141.5 184.0 L1143.0 182.4 L1144.6 180.7 L1146.1 179.1 L1147.6 177.5 L1149.2 175.8 L1150.7 174.2 L1152.3 172.5 L1153.8 170.9 L1155.3 169.2 L1156.9 167.5 L1158.4 165.8 L1160.0 164.1 L1161.5 162.4 L1163.0 160.7 L1164.6 159.0 L1166.1 157.3 L1167.6 155.6 L1169.2 153.8 L1170.7 152.1 L1172.3 150.4 L1173.8 148.6 L1175.3 146.8 L1176.9 145.1 L1178.4 143.3 L1180.0 141.5 L1181.5 139.7 L1183.0 137.9 L1184.6 136.1 L1186.1 134.3 L1187.6 132.5 L1189.2 130.7 L1190.7 128.8 L1192.3 127.0 L1193.8 125.2 L1195.3 123.3 L1196.9 121.4 L1198.4 119.6 L1200.0 117.7 L1201.5 115.8 L1203.0 114.0 L1204.6 112.1 L1206.1 110.2 L1207.6 108.3 L1209.2 106.4 L1210.7 104.5 L1212.3 102.6 L1213.8 100.7 L1215.3 98.7 L1216.9 96.8 L1218.4 94.9 L1220.0 92.9 L1221.5 91.0 L1223.0 89.0 L1224.6 87.1 L1226.1 85.1 L1227.6 83.1 L1229.2 81.2 L1230.7 79.2 L1232.3 77.2 L1233.8 75.2 L1235.3 73.2 L1236.9 71.2 L1238.4 69.2 L1240.0 67.2 L1241.5 65.2 L1243.0 63.2 L1244.6 61.2 L1246.1 59.2 L1247.6 57.1 L1249.2 55.1 L1250.7 53.1 L1252.3 51.0 L1253.8 49.0" fill="none" stroke="#8470c2" stroke-width="1.8" stroke-linejoin="round"/>
<g fill="#8470c2"><circle cx="793.8" cy="422.0" r="3.5"/><circle cx="800.0" cy="422.0" r="3.5"/><circle cx="806.8" cy="421.5" r="3.5"/><circle cx="814.8" cy="420.5" r="3.5"/><circle cx="824.5" cy="418.7" r="3.5"/><circle cx="836.1" cy="415.9" r="3.5"/><circle cx="849.7" cy="412.0" r="3.5"/><circle cx="865.1" cy="406.6" r="3.5"/><circle cx="881.9" cy="399.7" r="3.5"/><circle cx="899.7" cy="391.0" r="3.5"/><circle cx="917.9" cy="380.3" r="3.5"/><circle cx="935.7" cy="367.9" r="3.5"/><circle cx="952.5" cy="354.2" r="3.5"/><circle cx="967.9" cy="340.2" r="3.5"/><circle cx="981.5" cy="327.0" r="3.5"/><circle cx="993.1" cy="315.3" r="3.5"/><circle cx="1002.8" cy="305.5" r="3.5"/><circle cx="1010.8" cy="297.7" r="3.5"/><circle cx="1017.6" cy="291.3" r="3.5"/><circle cx="1023.8" cy="285.9" r="3.5"/><circle cx="1030.0" cy="281.4" r="3.5"/><circle cx="1036.8" cy="276.4" r="3.5"/><circle cx="1044.8" cy="270.4" r="3.5"/><circle cx="1054.5" cy="262.9" r="3.5"/><circle cx="1066.1" cy="253.7" r="3.5"/><circle cx="1079.7" cy="242.4" r="3.5"/><circle cx="1095.1" cy="229.0" r="3.5"/><circle cx="1111.9" cy="213.4" r="3.5"/><circle cx="1129.7" cy="196.0" r="3.5"/><circle cx="1147.9" cy="177.2" r="3.5"/><circle cx="1165.7" cy="157.8" r="3.5"/><circle cx="1182.5" cy="138.5" r="3.5"/><circle cx="1197.9" cy="120.2" r="3.5"/><circle cx="1211.5" cy="103.5" r="3.5"/><circle cx="1223.1" cy="88.9" r="3.5"/><circle cx="1232.8" cy="76.5" r="3.5"/><circle cx="1240.8" cy="66.1" r="3.5"/><circle cx="1247.6" cy="57.2" r="3.5"/><circle cx="1253.8" cy="49.0" r="3.5"/></g>
<path d="M793.8 433.2 L795.3 432.6 L796.9 432.1 L798.4 431.6 L800.0 431.2 L801.5 430.8 L803.0 430.5 L804.6 430.2 L806.1 430.0 L807.6 429.7 L809.2 429.5 L810.7 429.4 L812.3 429.2 L813.8 429.1 L815.3 429.0 L816.9 428.9 L818.4 428.8 L820.0 428.7 L821.5 428.6 L823.0 428.5 L824.6 428.4 L826.1 428.4 L827.6 428.3 L829.2 428.1 L830.7 428.0 L832.3 427.9 L833.8 427.8 L835.3 427.6 L836.9 427.4 L838.4 427.3 L840.0 427.1 L841.5 426.8 L843.0 426.6 L844.6 426.3 L846.1 426.1 L847.6 425.8 L849.2 425.4 L850.7 425.1 L852.3 424.7 L853.8 424.3 L855.3 423.9 L856.9 423.5 L858.4 423.0 L860.0 422.5 L861.5 422.0 L863.0 421.5 L864.6 420.9 L866.1 420.4 L867.6 419.8 L869.2 419.2 L870.7 418.5 L872.3 417.9 L873.8 417.2 L875.3 416.5 L876.9 415.8 L878.4 415.0 L880.0 414.3 L881.5 413.5 L883.0 412.7 L884.6 411.9 L886.1 411.1 L887.6 410.3 L889.2 409.4 L890.7 408.6 L892.3 407.7 L893.8 406.8 L895.3 405.9 L896.9 405.0 L898.4 404.1 L900.0 403.2 L901.5 402.3 L903.0 401.3 L904.6 400.4 L906.1 399.5 L907.6 398.5 L909.2 397.5 L910.7 396.6 L912.3 395.6 L913.8 394.6 L915.3 393.7 L916.9 392.7 L918.4 391.7 L920.0 390.7 L921.5 389.7 L923.0 388.7 L924.6 387.7 L926.1 386.7 L927.6 385.7 L929.2 384.7 L930.7 383.7 L932.3 382.7 L933.8 381.6 L935.3 380.6 L936.9 379.6 L938.4 378.5 L940.0 377.5 L941.5 376.4 L943.0 375.3 L944.6 374.2 L946.1 373.1 L947.6 372.0 L949.2 370.9 L950.7 369.7 L952.3 368.5 L953.8 367.3 L955.3 366.1 L956.9 364.9 L958.4 363.6 L960.0 362.3 L961.5 361.0 L963.0 359.6 L964.6 358.3 L966.1 356.9 L967.6 355.5 L969.2 354.1 L970.7 352.6 L972.3 351.2 L973.8 349.7 L975.3 348.2 L976.9 346.7 L978.4 345.1 L980.0 343.5 L981.5 342.0 L983.0 340.4 L984.6 338.7 L986.1 337.1 L987.6 335.5 L989.2 333.8 L990.7 332.1 L992.3 330.4 L993.8 328.7 L995.3 327.0 L996.9 325.2 L998.4 323.5 L1000.0 321.7 L1001.5 319.9 L1003.0 318.1 L1004.6 316.3 L1006.1 314.5 L1007.6 312.7 L1009.2 310.8 L1010.7 309.0 L1012.3 307.1 L1013.8 305.3 L1015.3 303.4 L1016.9 301.5 L1018.4 299.7 L1020.0 297.8 L1021.5 295.9 L1023.0 294.0 L1024.6 292.1 L1026.1 290.2 L1027.6 288.3 L1029.2 286.3 L1030.7 284.4 L1032.3 282.5 L1033.8 280.6 L1035.3 278.7 L1036.9 276.7 L1038.4 274.8 L1040.0 272.9 L1041.5 270.9 L1043.0 269.0 L1044.6 267.1 L1046.1 265.1 L1047.6 263.2 L1049.2 261.3 L1050.7 259.3 L1052.3 257.4 L1053.8 255.5 L1055.3 253.5 L1056.9 251.6 L1058.4 249.6 L1060.0 247.7 L1061.5 245.7 L1063.0 243.8 L1064.6 241.8 L1066.1 239.8 L1067.6 237.9 L1069.2 235.9 L1070.7 233.9 L1072.3 231.9 L1073.8 229.9 L1075.3 227.9 L1076.9 225.9 L1078.4 223.9 L1080.0 221.9 L1081.5 219.8 L1083.0 217.8 L1084.6 215.7 L1086.1 213.6 L1087.6 211.5 L1089.2 209.3 L1090.7 207.2 L1092.3 205.0 L1093.8 202.8 L1095.3 200.6 L1096.9 198.3 L1098.4 196.1 L1100.0 193.7 L1101.5 192.2 L1103.0 190.9 L1104.6 189.7 L1106.1 188.5 L1107.6 187.3 L1109.2 186.1 L1110.7 184.9 L1112.3 183.7 L1113.8 182.5 L1115.3 181.3 L1116.9 180.1 L1118.4 178.8 L1120.0 177.6 L1121.5 176.4 L1123.0 175.1 L1124.6 173.9 L1126.1 172.7 L1127.6 171.4 L1129.2 170.2 L1130.7 168.9 L1132.3 167.7 L1133.8 166.4 L1135.3 165.1 L1136.9 163.8 L1138.4 162.6 L1140.0 161.3 L1141.5 160.0 L1143.0 158.7 L1144.6 157.4 L1146.1 156.1 L1147.6 154.8 L1149.2 153.4 L1150.7 152.1 L1152.3 150.8 L1153.8 149.4 L1155.3 148.1 L1156.9 146.7 L1158.4 145.4 L1160.0 144.0 L1161.5 142.6 L1163.0 141.3 L1164.6 139.9 L1166.1 138.5 L1167.6 137.1 L1169.2 135.7 L1170.7 134.3 L1172.3 132.9 L1173.8 131.5 L1175.3 130.1 L1176.9 128.7 L1178.4 127.3 L1180.0 125.8 L1181.5 124.4 L1183.0 123.0 L1184.6 121.5 L1186.1 120.1 L1187.6 118.6 L1189.2 117.1 L1190.7 115.7 L1192.3 114.2 L1193.8 112.7 L1195.3 111.2 L1196.9 109.8 L1198.4 108.3 L1200.0 106.8 L1201.5 105.3 L1203.0 103.7 L1204.6 102.2 L1206.1 100.7 L1207.6 99.2 L1209.2 97.6 L1210.7 96.1 L1212.3 94.5 L1213.8 93.0 L1215.3 91.4 L1216.9 89.8 L1218.4 88.3 L1220.0 86.7 L1221.5 85.1 L1223.0 83.4 L1224.6 81.8 L1226.1 80.2 L1227.6 78.5 L1229.2 76.9 L1230.7 75.2 L1232.3 73.5 L1233.8 71.8 L1235.3 70.1 L1236.9 68.4 L1238.4 66.6 L1240.0 64.8 L1241.5 63.1 L1243.0 61.3 L1244.6 59.4 L1246.1 57.6 L1247.6 55.7 L1249.2 53.8 L1250.7 51.9 L1252.3 50.0 L1253.8 48.0" fill="none" stroke="#6bbfd8" stroke-width="2.4" stroke-linejoin="round"/>
<g fill="#6bbfd8"><path d="M793.8 429.2L797.8 436.4L789.8 436.4Z"/><path d="M798.4 427.6L802.4 434.8L794.4 434.8Z"/><path d="M803.6 426.4L807.6 433.6L799.6 433.6Z"/><path d="M809.9 425.5L813.9 432.7L805.9 432.7Z"/><path d="M817.7 424.8L821.7 432.0L813.7 432.0Z"/><path d="M827.2 424.3L831.2 431.5L823.2 431.5Z"/><path d="M838.2 423.3L842.2 430.5L834.2 430.5Z"/><path d="M850.5 421.1L854.5 428.3L846.5 428.3Z"/><path d="M863.7 417.3L867.7 424.5L859.7 424.5Z"/><path d="M877.2 411.6L881.2 418.8L873.2 418.8Z"/><path d="M890.4 404.7L894.4 411.9L886.4 411.9Z"/><path d="M902.8 397.5L906.8 404.7L898.8 404.7Z"/><path d="M913.8 390.7L917.8 397.9L909.8 397.9Z"/><path d="M923.2 384.6L927.2 391.8L919.2 391.8Z"/><path d="M931.0 379.5L935.0 386.7L927.0 386.7Z"/><path d="M937.3 375.3L941.3 382.5L933.3 382.5Z"/><path d="M942.5 371.7L946.5 378.9L938.5 378.9Z"/><path d="M947.1 368.4L951.1 375.6L943.1 375.6Z"/><path d="M951.7 364.9L955.7 372.1L947.7 372.1Z"/><path d="M957.0 360.8L961.0 368.0L953.0 368.0Z"/><path d="M963.3 355.4L967.3 362.6L959.3 362.6Z"/><path d="M971.1 348.3L975.1 355.5L967.1 355.5Z"/><path d="M980.5 339.0L984.5 346.2L976.5 346.2Z"/><path d="M991.5 327.2L995.5 334.4L987.5 334.4Z"/><path d="M1003.8 313.2L1007.8 320.4L999.8 320.4Z"/><path d="M1017.0 297.3L1021.0 304.5L1013.0 304.5Z"/><path d="M1030.6 280.6L1034.6 287.8L1026.6 287.8Z"/><path d="M1043.8 264.1L1047.8 271.3L1039.8 271.3Z"/><path d="M1056.1 248.6L1060.1 255.8L1052.1 255.8Z"/><path d="M1067.1 234.6L1071.1 241.8L1063.1 241.8Z"/><path d="M1076.5 222.4L1080.5 229.6L1072.5 229.6Z"/><path d="M1084.3 212.0L1088.3 219.2L1080.3 219.2Z"/><path d="M1090.6 203.3L1094.6 210.5L1086.6 210.5Z"/><path d="M1095.9 195.8L1099.9 203.0L1091.9 203.0Z"/><path d="M1100.5 189.0L1104.5 196.2L1096.5 196.2Z"/><path d="M1105.1 185.3L1109.1 192.5L1101.1 192.5Z"/><path d="M1110.3 181.3L1114.3 188.5L1106.3 188.5Z"/><path d="M1116.6 176.3L1120.6 183.5L1112.6 183.5Z"/><path d="M1124.4 170.0L1128.4 177.2L1120.4 177.2Z"/><path d="M1133.8 162.4L1137.8 169.6L1129.8 169.6Z"/><path d="M1144.8 153.1L1148.8 160.3L1140.8 160.3Z"/><path d="M1157.2 142.5L1161.2 149.7L1153.2 149.7Z"/><path d="M1170.4 130.6L1174.4 137.8L1166.4 137.8Z"/><path d="M1183.9 118.1L1187.9 125.3L1179.9 125.3Z"/><path d="M1197.1 105.6L1201.1 112.8L1193.1 112.8Z"/><path d="M1209.4 93.4L1213.4 100.6L1205.4 100.6Z"/><path d="M1220.4 82.2L1224.4 89.4L1216.4 89.4Z"/><path d="M1229.9 72.1L1233.9 79.3L1225.9 79.3Z"/><path d="M1237.7 63.5L1241.7 70.7L1233.7 70.7Z"/><path d="M1244.0 56.1L1248.0 63.3L1240.0 63.3Z"/><path d="M1249.2 49.8L1253.2 57.0L1245.2 57.0Z"/><path d="M1253.8 44.0L1257.8 51.2L1249.8 51.2Z"/></g>
<path d="M793.8 461.6 L795.3 461.5 L796.9 461.4 L798.4 461.3 L800.0 461.2 L801.5 461.2 L803.0 461.1 L804.6 461.1 L806.1 461.0 L807.6 461.0 L809.2 460.9 L810.7 460.9 L812.3 460.8 L813.8 460.7 L815.3 460.6 L816.9 460.5 L818.4 460.4 L820.0 460.2 L821.5 460.1 L823.0 459.9 L824.6 459.7 L826.1 459.5 L827.6 459.2 L829.2 458.9 L830.7 458.6 L832.3 458.3 L833.8 458.0 L835.3 457.6 L836.9 457.3 L838.4 456.9 L840.0 456.5 L841.5 456.0 L843.0 455.6 L844.6 455.1 L846.1 454.7 L847.6 454.2 L849.2 453.7 L850.7 453.2 L852.3 452.7 L853.8 452.2 L855.3 451.6 L856.9 451.1 L858.4 450.5 L860.0 450.0 L861.5 449.4 L863.0 448.9 L864.6 448.3 L866.1 447.7 L867.6 447.2 L869.2 446.6 L870.7 446.0 L872.3 445.4 L873.8 444.8 L875.3 444.2 L876.9 443.7 L878.4 443.1 L880.0 442.5 L881.5 441.9 L883.0 441.2 L884.6 440.6 L886.1 440.0 L887.6 439.3 L889.2 438.6 L890.7 438.0 L892.3 437.2 L893.8 436.5 L895.3 435.7 L896.9 434.9 L898.4 434.1 L900.0 433.2 L901.5 432.3 L903.0 431.3 L904.6 430.3 L906.1 429.1 L907.6 428.0 L909.2 426.8 L910.7 425.8 L912.3 424.8 L913.8 423.8 L915.3 422.8 L916.9 421.7 L918.4 420.7 L920.0 419.6 L921.5 418.5 L923.0 417.4 L924.6 416.3 L926.1 415.2 L927.6 414.0 L929.2 412.8 L930.7 411.6 L932.3 410.4 L933.8 409.1 L935.3 407.9 L936.9 406.6 L938.4 405.3 L940.0 403.9 L941.5 402.6 L943.0 401.2 L944.6 399.8 L946.1 398.3 L947.6 396.9 L949.2 395.4 L950.7 394.0 L952.3 392.5 L953.8 391.0 L955.3 389.5 L956.9 387.9 L958.4 386.4 L960.0 384.8 L961.5 383.3 L963.0 381.7 L964.6 380.2 L966.1 378.6 L967.6 377.0 L969.2 375.4 L970.7 373.8 L972.3 372.2 L973.8 370.6 L975.3 369.1 L976.9 367.5 L978.4 365.9 L980.0 364.3 L981.5 362.7 L983.0 361.2 L984.6 359.6 L986.1 358.0 L987.6 356.5 L989.2 354.9 L990.7 353.3 L992.3 351.8 L993.8 350.2 L995.3 348.7 L996.9 347.2 L998.4 345.6 L1000.0 344.1 L1001.5 342.5 L1003.0 341.0 L1004.6 339.4 L1006.1 337.9 L1007.6 336.3 L1009.2 334.7 L1010.7 333.1 L1012.3 331.5 L1013.8 329.9 L1015.3 328.2 L1016.9 326.5 L1018.4 324.8 L1020.0 323.1 L1021.5 321.3 L1023.0 319.4 L1024.6 317.8 L1026.1 316.5 L1027.6 315.1 L1029.2 313.7 L1030.7 312.3 L1032.3 310.9 L1033.8 309.5 L1035.3 308.0 L1036.9 306.6 L1038.4 305.1 L1040.0 303.7 L1041.5 302.2 L1043.0 300.7 L1044.6 299.2 L1046.1 297.7 L1047.6 296.3 L1049.2 294.8 L1050.7 293.3 L1052.3 291.7 L1053.8 290.2 L1055.3 288.7 L1056.9 287.2 L1058.4 285.7 L1060.0 284.2 L1061.5 282.7 L1063.0 281.1 L1064.6 279.6 L1066.1 278.1 L1067.6 276.5 L1069.2 275.0 L1070.7 273.5 L1072.3 271.9 L1073.8 270.4 L1075.3 268.8 L1076.9 267.3 L1078.4 265.7 L1080.0 264.2 L1081.5 262.6 L1083.0 261.0 L1084.6 259.4 L1086.1 257.9 L1087.6 256.3 L1089.2 254.7 L1090.7 253.1 L1092.3 251.5 L1093.8 249.8 L1095.3 248.2 L1096.9 246.6 L1098.4 244.9 L1100.0 243.3 L1101.5 241.6 L1103.0 240.0 L1104.6 238.3 L1106.1 236.6 L1107.6 234.9 L1109.2 233.2 L1110.7 231.4 L1112.3 229.7 L1113.8 228.0 L1115.3 226.2 L1116.9 224.4 L1118.4 222.6 L1120.0 220.8 L1121.5 219.0 L1123.0 217.2 L1124.6 215.3 L1126.1 213.5 L1127.6 211.6 L1129.2 209.7 L1130.7 207.8 L1132.3 205.9 L1133.8 204.0 L1135.3 202.1 L1136.9 200.1 L1138.4 198.2 L1140.0 196.9 L1141.5 195.8 L1143.0 194.8 L1144.6 193.8 L1146.1 192.8 L1147.6 191.7 L1149.2 190.7 L1150.7 189.7 L1152.3 188.7 L1153.8 187.7 L1155.3 186.7 L1156.9 185.7 L1158.4 184.7 L1160.0 183.7 L1161.5 182.7 L1163.0 181.6 L1164.6 180.6 L1166.1 179.5 L1167.6 178.5 L1169.2 177.4 L1170.7 176.3 L1172.3 175.2 L1173.8 174.1 L1175.3 173.0 L1176.9 171.9 L1178.4 170.8 L1180.0 169.7 L1181.5 168.5 L1183.0 167.4 L1184.6 166.2 L1186.1 165.0 L1187.6 163.9 L1189.2 162.7 L1190.7 161.5 L1192.3 160.3 L1193.8 159.1 L1195.3 157.9 L1196.9 156.7 L1198.4 155.5 L1200.0 154.3 L1201.5 153.1 L1203.0 151.8 L1204.6 150.6 L1206.1 149.4 L1207.6 148.2 L1209.2 146.9 L1210.7 145.7 L1212.3 144.5 L1213.8 143.3 L1215.3 142.0 L1216.9 140.8 L1218.4 139.5 L1220.0 138.3 L1221.5 137.1 L1223.0 135.8 L1224.6 134.5 L1226.1 133.3 L1227.6 132.0 L1229.2 130.7 L1230.7 129.4 L1232.3 128.1 L1233.8 126.8 L1235.3 125.4 L1236.9 124.0 L1238.4 122.6 L1240.0 121.2 L1241.5 119.8 L1243.0 118.3 L1244.6 116.7 L1246.1 115.2 L1247.6 113.6 L1249.2 111.9 L1250.7 110.2 L1252.3 108.4 L1253.8 106.6" fill="none" stroke="#486fbc" stroke-width="2.0" stroke-linejoin="round"/>
<g fill="#486fbc"><path d="M793.8 458.0L797.4 461.6L793.8 465.2L790.2 461.6Z"/><path d="M796.8 457.8L800.4 461.4L796.8 465.0L793.2 461.4Z"/><path d="M800.4 457.6L804.0 461.2L800.4 464.8L796.8 461.2Z"/><path d="M805.2 457.5L808.8 461.1L805.2 464.7L801.6 461.1Z"/><path d="M811.6 457.3L815.2 460.9L811.6 464.5L808.0 460.9Z"/><path d="M819.6 456.7L823.2 460.3L819.6 463.9L816.0 460.3Z"/><path d="M829.2 455.3L832.8 458.9L829.2 462.5L825.6 458.9Z"/><path d="M839.9 452.9L843.5 456.5L839.9 460.1L836.3 456.5Z"/><path d="M851.3 449.4L854.9 453.0L851.3 456.6L847.7 453.0Z"/><path d="M862.7 445.4L866.3 449.0L862.7 452.6L859.1 449.0Z"/><path d="M873.4 441.4L877.0 445.0L873.4 448.6L869.8 445.0Z"/><path d="M883.0 437.6L886.6 441.2L883.0 444.8L879.4 441.2Z"/><path d="M891.0 434.2L894.6 437.8L891.0 441.4L887.4 437.8Z"/><path d="M897.4 431.1L901.0 434.7L897.4 438.3L893.8 434.7Z"/><path d="M902.2 428.2L905.8 431.8L902.2 435.4L898.6 431.8Z"/><path d="M905.8 425.8L909.4 429.4L905.8 433.0L902.2 429.4Z"/><path d="M908.8 423.4L912.4 427.0L908.8 430.6L905.2 427.0Z"/><path d="M911.8 421.5L915.4 425.1L911.8 428.7L908.2 425.1Z"/><path d="M915.4 419.1L919.0 422.7L915.4 426.3L911.8 422.7Z"/><path d="M920.2 415.8L923.8 419.4L920.2 423.0L916.6 419.4Z"/><path d="M926.6 411.2L930.2 414.8L926.6 418.4L923.0 414.8Z"/><path d="M934.6 404.9L938.2 408.5L934.6 412.1L931.0 408.5Z"/><path d="M944.2 396.5L947.8 400.1L944.2 403.7L940.6 400.1Z"/><path d="M954.9 386.3L958.5 389.9L954.9 393.5L951.3 389.9Z"/><path d="M966.3 374.8L969.9 378.4L966.3 382.0L962.7 378.4Z"/><path d="M977.7 363.0L981.3 366.6L977.7 370.2L974.1 366.6Z"/><path d="M988.4 352.0L992.0 355.6L988.4 359.2L984.8 355.6Z"/><path d="M998.0 342.4L1001.6 346.0L998.0 349.6L994.4 346.0Z"/><path d="M1006.0 334.3L1009.6 337.9L1006.0 341.5L1002.4 337.9Z"/><path d="M1012.4 327.8L1016.0 331.4L1012.4 335.0L1008.8 331.4Z"/><path d="M1017.2 322.6L1020.8 326.2L1017.2 329.8L1013.6 326.2Z"/><path d="M1020.8 318.5L1024.4 322.1L1020.8 325.7L1017.2 322.1Z"/><path d="M1023.8 314.9L1027.4 318.5L1023.8 322.1L1020.2 318.5Z"/><path d="M1026.8 312.3L1030.4 315.9L1026.8 319.5L1023.2 315.9Z"/><path d="M1030.4 309.0L1034.0 312.6L1030.4 316.2L1026.8 312.6Z"/><path d="M1035.2 304.5L1038.8 308.1L1035.2 311.7L1031.6 308.1Z"/><path d="M1041.6 298.5L1045.2 302.1L1041.6 305.7L1038.0 302.1Z"/><path d="M1049.6 290.8L1053.2 294.4L1049.6 298.0L1046.0 294.4Z"/><path d="M1059.2 281.4L1062.8 285.0L1059.2 288.6L1055.6 285.0Z"/><path d="M1069.9 270.7L1073.5 274.3L1069.9 277.9L1066.3 274.3Z"/><path d="M1081.3 259.2L1084.9 262.8L1081.3 266.4L1077.7 262.8Z"/><path d="M1092.7 247.4L1096.3 251.0L1092.7 254.6L1089.1 251.0Z"/><path d="M1103.4 235.9L1107.0 239.5L1103.4 243.1L1099.8 239.5Z"/><path d="M1113.0 225.3L1116.6 228.9L1113.0 232.5L1109.4 228.9Z"/><path d="M1121.0 216.0L1124.6 219.6L1121.0 223.2L1117.4 219.6Z"/><path d="M1127.4 208.3L1131.0 211.9L1127.4 215.5L1123.8 211.9Z"/><path d="M1132.2 202.4L1135.8 206.0L1132.2 209.6L1128.6 206.0Z"/><path d="M1135.8 197.9L1139.4 201.5L1135.8 205.1L1132.2 201.5Z"/><path d="M1138.8 194.1L1142.4 197.7L1138.8 201.3L1135.2 197.7Z"/><path d="M1141.8 192.0L1145.4 195.6L1141.8 199.2L1138.2 195.6Z"/><path d="M1145.4 189.6L1149.0 193.2L1145.4 196.8L1141.8 193.2Z"/><path d="M1150.2 186.5L1153.8 190.1L1150.2 193.7L1146.6 190.1Z"/><path d="M1156.6 182.3L1160.2 185.9L1156.6 189.5L1153.0 185.9Z"/><path d="M1164.6 177.0L1168.2 180.6L1164.6 184.2L1161.0 180.6Z"/><path d="M1174.2 170.3L1177.8 173.9L1174.2 177.5L1170.6 173.9Z"/><path d="M1184.9 162.3L1188.5 165.9L1184.9 169.5L1181.3 165.9Z"/><path d="M1196.3 153.5L1199.9 157.1L1196.3 160.7L1192.7 157.1Z"/><path d="M1207.7 144.5L1211.3 148.1L1207.7 151.7L1204.1 148.1Z"/><path d="M1218.4 135.9L1222.0 139.5L1218.4 143.1L1214.8 139.5Z"/><path d="M1228.0 128.1L1231.6 131.7L1228.0 135.3L1224.4 131.7Z"/><path d="M1236.0 121.2L1239.6 124.8L1236.0 128.4L1232.4 124.8Z"/><path d="M1242.4 115.3L1246.0 118.9L1242.4 122.5L1238.8 118.9Z"/><path d="M1247.2 110.5L1250.8 114.1L1247.2 117.7L1243.6 114.1Z"/><path d="M1250.8 106.5L1254.4 110.1L1250.8 113.7L1247.2 110.1Z"/><path d="M1253.8 103.0L1257.4 106.6L1253.8 110.2L1250.2 106.6Z"/></g>
<path d="M793.8 439.2 L795.3 439.0 L796.9 438.8 L798.4 438.6 L800.0 438.4 L801.5 438.3 L803.0 438.1 L804.6 437.9 L806.1 437.7 L807.6 437.5 L809.2 437.3 L810.7 437.1 L812.3 436.9 L813.8 436.7 L815.3 436.5 L816.9 436.3 L818.4 436.1 L820.0 435.9 L821.5 435.6 L823.0 435.4 L824.6 435.2 L826.1 435.0 L827.6 434.7 L829.2 434.5 L830.7 434.2 L832.3 434.0 L833.8 433.7 L835.3 433.5 L836.9 433.2 L838.4 432.9 L840.0 432.6 L841.5 432.3 L843.0 432.0 L844.6 431.7 L846.1 431.4 L847.6 431.0 L849.2 430.7 L850.7 430.4 L852.3 430.0 L853.8 429.6 L855.3 429.2 L856.9 428.8 L858.4 428.4 L860.0 428.0 L861.5 427.6 L863.0 427.2 L864.6 426.7 L866.1 426.2 L867.6 425.8 L869.2 425.3 L870.7 424.8 L872.3 424.2 L873.8 423.7 L875.3 423.2 L876.9 422.6 L878.4 422.0 L880.0 421.4 L881.5 420.8 L883.0 420.2 L884.6 419.5 L886.1 418.8 L887.6 417.5 L889.2 416.3 L890.7 415.0 L892.3 413.8 L893.8 412.5 L895.3 411.2 L896.9 409.9 L898.4 408.6 L900.0 407.2 L901.5 405.9 L903.0 404.5 L904.6 403.2 L906.1 401.8 L907.6 400.4 L909.2 399.1 L910.7 397.7 L912.3 396.3 L913.8 394.9 L915.3 393.4 L916.9 392.0 L918.4 390.6 L920.0 389.2 L921.5 387.7 L923.0 386.3 L924.6 384.9 L926.1 383.4 L927.6 382.0 L929.2 380.5 L930.7 379.1 L932.3 377.6 L933.8 376.1 L935.3 374.7 L936.9 373.2 L938.4 371.7 L940.0 370.2 L941.5 368.7 L943.0 367.3 L944.6 365.8 L946.1 364.3 L947.6 362.8 L949.2 361.3 L950.7 359.8 L952.3 358.3 L953.8 356.7 L955.3 355.2 L956.9 353.7 L958.4 352.2 L960.0 350.6 L961.5 349.1 L963.0 347.6 L964.6 346.0 L966.1 344.5 L967.6 342.9 L969.2 341.3 L970.7 339.8 L972.3 338.2 L973.8 336.6 L975.3 335.0 L976.9 333.4 L978.4 331.8 L980.0 330.2 L981.5 328.6 L983.0 327.0 L984.6 325.4 L986.1 323.7 L987.6 322.1 L989.2 320.4 L990.7 318.7 L992.3 317.1 L993.8 315.4 L995.3 313.7 L996.9 312.0 L998.4 310.2 L1000.0 308.5 L1001.5 306.8 L1003.0 305.0 L1004.6 303.3 L1006.1 301.5 L1007.6 299.7 L1009.2 297.9 L1010.7 296.1 L1012.3 294.3 L1013.8 292.4 L1015.3 290.6 L1016.9 288.7 L1018.4 286.8 L1020.0 284.9 L1021.5 283.0 L1023.0 281.1 L1024.6 279.2 L1026.1 277.2 L1027.6 275.2 L1029.2 273.2 L1030.7 271.2 L1032.3 269.2 L1033.8 267.2 L1035.3 265.1 L1036.9 263.1 L1038.4 261.0 L1040.0 258.9 L1041.5 256.8 L1043.0 254.7 L1044.6 252.5 L1046.1 250.4 L1047.6 248.2 L1049.2 246.0 L1050.7 243.8 L1052.3 241.5 L1053.8 239.3 L1055.3 237.0 L1056.9 234.8 L1058.4 232.5 L1060.0 230.2 L1061.5 227.8 L1063.0 225.5 L1064.6 223.1 L1066.1 220.8 L1067.6 218.4 L1069.2 216.0 L1070.7 214.5 L1072.3 213.5 L1073.8 212.4 L1075.3 211.3 L1076.9 210.1 L1078.4 208.8 L1080.0 207.5 L1081.5 206.1 L1083.0 204.7 L1084.6 203.2 L1086.1 201.7 L1087.6 200.1 L1089.2 198.5 L1090.7 196.9 L1092.3 195.2 L1093.8 193.5 L1095.3 191.8 L1096.9 190.1 L1098.4 188.4 L1100.0 186.7 L1101.5 184.9 L1103.0 183.2 L1104.6 181.4 L1106.1 179.7 L1107.6 178.0 L1109.2 176.2 L1110.7 174.5 L1112.3 172.8 L1113.8 171.1 L1115.3 169.4 L1116.9 167.7 L1118.4 166.0 L1120.0 164.4 L1121.5 162.7 L1123.0 161.1 L1124.6 159.5 L1126.1 157.9 L1127.6 156.2 L1129.2 154.7 L1130.7 153.1 L1132.3 151.5 L1133.8 149.9 L1135.3 148.3 L1136.9 146.8 L1138.4 145.2 L1140.0 143.6 L1141.5 142.0 L1143.0 140.4 L1144.6 138.7 L1146.1 137.1 L1147.6 135.4 L1149.2 133.6 L1150.7 131.9 L1152.3 130.1 L1153.8 128.2 L1155.3 126.3 L1156.9 124.3 L1158.4 122.3 L1160.0 120.2 L1161.5 118.0 L1163.0 116.4 L1164.6 115.1 L1166.1 114.0 L1167.6 112.9 L1169.2 111.9 L1170.7 110.9 L1172.3 110.0 L1173.8 109.2 L1175.3 108.3 L1176.9 107.4 L1178.4 106.6 L1180.0 105.7 L1181.5 104.9 L1183.0 104.0 L1184.6 103.1 L1186.1 102.2 L1187.6 101.3 L1189.2 100.3 L1190.7 99.3 L1192.3 98.3 L1193.8 97.2 L1195.3 96.1 L1196.9 95.0 L1198.4 93.9 L1200.0 92.7 L1201.5 91.5 L1203.0 90.3 L1204.6 89.1 L1206.1 87.8 L1207.6 86.6 L1209.2 85.3 L1210.7 84.0 L1212.3 82.7 L1213.8 81.4 L1215.3 80.1 L1216.9 78.8 L1218.4 77.6 L1220.0 76.3 L1221.5 75.0 L1223.0 73.7 L1224.6 72.5 L1226.1 71.2 L1227.6 70.0 L1229.2 68.8 L1230.7 67.6 L1232.3 66.4 L1233.8 65.2 L1235.3 63.9 L1236.9 62.7 L1238.4 61.5 L1240.0 60.3 L1241.5 59.0 L1243.0 57.7 L1244.6 56.4 L1246.1 55.0 L1247.6 53.6 L1249.2 52.1 L1250.7 50.5 L1252.3 48.8 L1253.8 47.0" fill="none" stroke="#141414" stroke-width="3.0" stroke-linejoin="round"/>
<g stroke="#141414" stroke-width="1.6" fill="none"><path d="M791.6 437.0L796.0 441.4M796.0 437.0L791.6 441.4M793.8 436.6V441.8"/><path d="M794.2 436.7L798.6 441.1M798.6 436.7L794.2 441.1M796.4 436.2V441.5"/><path d="M797.3 436.3L801.7 440.7M801.7 436.3L797.3 440.7M799.5 435.9V441.1"/><path d="M801.6 435.8L806.0 440.2M806.0 435.8L801.6 440.2M803.8 435.3V440.6"/><path d="M807.4 435.0L811.8 439.4M811.8 435.0L807.4 439.4M809.6 434.6V439.9"/><path d="M814.7 434.1L819.1 438.5M819.1 434.1L814.7 438.5M816.9 433.7V438.9"/><path d="M823.2 432.9L827.6 437.3M827.6 432.9L823.2 437.3M825.4 432.4V437.7"/><path d="M832.7 431.3L837.1 435.7M837.1 431.3L832.7 435.7M834.9 430.9V436.2"/><path d="M842.5 429.5L846.9 433.9M846.9 429.5L842.5 433.9M844.7 429.0V434.3"/><path d="M852.0 427.3L856.4 431.7M856.4 427.3L852.0 431.7M854.2 426.9V432.2"/><path d="M860.5 425.0L864.9 429.4M864.9 425.0L860.5 429.4M862.7 424.6V429.9"/><path d="M867.8 422.8L872.2 427.2M872.2 422.8L867.8 427.2M870.0 422.4V427.6"/><path d="M873.6 420.8L878.0 425.2M878.0 420.8L873.6 425.2M875.8 420.4V425.6"/><path d="M877.9 419.2L882.3 423.6M882.3 419.2L877.9 423.6M880.1 418.7V424.0"/><path d="M881.0 417.9L885.4 422.3M885.4 417.9L881.0 422.3M883.2 417.4V422.7"/><path d="M883.6 416.8L888.0 421.2M888.0 416.8L883.6 421.2M885.8 416.4V421.6"/><path d="M886.2 414.8L890.6 419.2M890.6 414.8L886.2 419.2M888.4 414.3V419.6"/><path d="M889.3 412.2L893.7 416.6M893.7 412.2L889.3 416.6M891.5 411.7V417.0"/><path d="M893.6 408.6L898.0 413.0M898.0 408.6L893.6 413.0M895.8 408.1V413.4"/><path d="M899.4 403.6L903.8 408.0M903.8 403.6L899.4 408.0M901.6 403.2V408.4"/><path d="M906.7 397.1L911.1 401.5M911.1 397.1L906.7 401.5M908.9 396.7V402.0"/><path d="M915.2 389.3L919.6 393.7M919.6 389.3L915.2 393.7M917.4 388.9V394.2"/><path d="M924.7 380.5L929.1 384.9M929.1 380.5L924.7 384.9M926.9 380.0V385.3"/><path d="M934.5 371.2L938.9 375.6M938.9 371.2L934.5 375.6M936.7 370.7V376.0"/><path d="M944.0 362.0L948.4 366.4M948.4 362.0L944.0 366.4M946.2 361.6V366.9"/><path d="M952.5 353.6L956.9 358.0M956.9 353.6L952.5 358.0M954.7 353.2V358.4"/><path d="M959.8 346.4L964.2 350.8M964.2 346.4L959.8 350.8M962.0 346.0V351.2"/><path d="M965.6 340.6L970.0 345.0M970.0 340.6L965.6 345.0M967.8 340.2V345.4"/><path d="M969.9 336.2L974.3 340.6M974.3 336.2L969.9 340.6M972.1 335.8V341.0"/><path d="M973.0 332.9L977.4 337.3M977.4 332.9L973.0 337.3M975.2 332.5V337.8"/><path d="M975.6 330.3L980.0 334.7M980.0 330.3L975.6 334.7M977.8 329.8V335.1"/><path d="M978.2 327.6L982.6 332.0M982.6 327.6L978.2 332.0M980.4 327.2V332.4"/><path d="M981.3 324.2L985.7 328.6M985.7 324.2L981.3 328.6M983.5 323.8V329.1"/><path d="M985.6 319.6L990.0 324.0M990.0 319.6L985.6 324.0M987.8 319.2V324.5"/><path d="M991.4 313.4L995.8 317.8M995.8 313.4L991.4 317.8M993.6 313.0V318.2"/><path d="M998.7 305.3L1003.1 309.7M1003.1 305.3L998.7 309.7M1000.9 304.9V310.1"/><path d="M1007.2 295.4L1011.6 299.8M1011.6 295.4L1007.2 299.8M1009.4 295.0V300.2"/><path d="M1016.7 284.0L1021.1 288.4M1021.1 284.0L1016.7 288.4M1018.9 283.6V288.9"/><path d="M1026.5 271.7L1030.9 276.1M1030.9 271.7L1026.5 276.1M1028.7 271.2V276.5"/><path d="M1036.0 259.1L1040.4 263.5M1040.4 259.1L1036.0 263.5M1038.2 258.7V264.0"/><path d="M1044.5 247.3L1048.9 251.7M1048.9 247.3L1044.5 251.7M1046.7 246.8V252.1"/><path d="M1051.8 236.8L1056.2 241.2M1056.2 236.8L1051.8 241.2M1054.0 236.4V241.6"/><path d="M1057.6 228.3L1062.0 232.7M1062.0 228.3L1057.6 232.7M1059.8 227.8V233.1"/><path d="M1061.9 221.7L1066.3 226.1M1066.3 221.7L1061.9 226.1M1064.1 221.3V226.5"/><path d="M1065.0 216.8L1069.4 221.2M1069.4 216.8L1065.0 221.2M1067.2 216.4V221.6"/><path d="M1067.6 212.8L1072.0 217.2M1072.0 212.8L1067.6 217.2M1069.8 212.4V217.6"/><path d="M1070.2 211.2L1074.6 215.6M1074.6 211.2L1070.2 215.6M1072.4 210.8V216.1"/><path d="M1073.3 209.0L1077.7 213.4M1077.7 209.0L1073.3 213.4M1075.5 208.5V213.8"/><path d="M1077.6 205.4L1082.0 209.8M1082.0 205.4L1077.6 209.8M1079.8 205.0V210.3"/><path d="M1083.4 200.0L1087.8 204.4M1087.8 200.0L1083.4 204.4M1085.6 199.5V204.8"/><path d="M1090.7 192.4L1095.1 196.8M1095.1 192.4L1090.7 196.8M1092.9 191.9V197.2"/><path d="M1099.2 182.8L1103.6 187.2M1103.6 182.8L1099.2 187.2M1101.4 182.4V187.6"/><path d="M1108.7 172.1L1113.1 176.5M1113.1 172.1L1108.7 176.5M1110.9 171.7V176.9"/><path d="M1118.5 161.4L1122.9 165.8M1122.9 161.4L1118.5 165.8M1120.7 160.9V166.2"/><path d="M1128.0 151.4L1132.4 155.8M1132.4 151.4L1128.0 155.8M1130.2 151.0V156.3"/><path d="M1136.5 142.6L1140.9 147.0M1140.9 142.6L1136.5 147.0M1138.7 142.2V147.5"/><path d="M1143.8 135.0L1148.2 139.4M1148.2 135.0L1143.8 139.4M1146.0 134.5V139.8"/><path d="M1149.6 128.5L1154.0 132.9M1154.0 128.5L1149.6 132.9M1151.8 128.0V133.3"/><path d="M1153.9 123.2L1158.3 127.6M1158.3 123.2L1153.9 127.6M1156.1 122.7V128.0"/><path d="M1157.0 119.0L1161.4 123.4M1161.4 119.0L1157.0 123.4M1159.2 118.5V123.8"/><path d="M1159.6 115.3L1164.0 119.7M1164.0 115.3L1159.6 119.7M1161.8 114.9V120.1"/><path d="M1162.2 113.1L1166.6 117.5M1166.6 113.1L1162.2 117.5M1164.4 112.7V118.0"/><path d="M1165.3 110.8L1169.7 115.2M1169.7 110.8L1165.3 115.2M1167.5 110.3V115.6"/><path d="M1169.6 108.1L1174.0 112.5M1174.0 108.1L1169.6 112.5M1171.8 107.6V112.9"/><path d="M1175.4 104.8L1179.8 109.2M1179.8 104.8L1175.4 109.2M1177.6 104.4V109.7"/><path d="M1182.7 100.7L1187.1 105.1M1187.1 100.7L1182.7 105.1M1184.9 100.3V105.6"/><path d="M1191.2 95.3L1195.6 99.7M1195.6 95.3L1191.2 99.7M1193.4 94.8V100.1"/><path d="M1200.7 88.2L1205.1 92.6M1205.1 88.2L1200.7 92.6M1202.9 87.8V93.0"/><path d="M1210.5 80.1L1214.9 84.5M1214.9 80.1L1210.5 84.5M1212.7 79.7V85.0"/><path d="M1220.0 72.3L1224.4 76.7M1224.4 72.3L1220.0 76.7M1222.2 71.8V77.1"/><path d="M1228.5 65.4L1232.9 69.8M1232.9 65.4L1228.5 69.8M1230.7 64.9V70.2"/><path d="M1235.8 59.6L1240.2 64.0M1240.2 59.6L1235.8 64.0M1238.0 59.2V64.5"/><path d="M1241.6 54.9L1246.0 59.3M1246.0 54.9L1241.6 59.3M1243.8 54.5V59.8"/><path d="M1245.9 51.0L1250.3 55.4M1250.3 51.0L1245.9 55.4M1248.1 50.6V55.8"/><path d="M1249.0 47.7L1253.4 52.1M1253.4 47.7L1249.0 52.1M1251.2 47.3V52.6"/><path d="M1251.6 44.8L1256.0 49.2M1256.0 44.8L1251.6 49.2M1253.8 44.4V49.6"/></g>
<rect x="772.0" y="26.0" width="504.5" height="456.5" fill="none" stroke="#282828" stroke-width="3.2"/>
<text x="1005.1" y="48.3" text-anchor="middle" class="pl" letter-spacing="1.5">(b)</text>
<text transform="translate(682,256) rotate(-90)" text-anchor="middle" class="ax" letter-spacing="0">Solid phase potential (mV)</text>
<line x1="150.1" y1="1021.2" x2="150.1" y2="1029.2" stroke="#555" stroke-width="2.1"/>
<text x="150.1" y="1056.7" text-anchor="middle" class="tk">0.0</text>
<line x1="242.1" y1="1021.2" x2="242.1" y2="1029.2" stroke="#555" stroke-width="2.1"/>
<text x="242.1" y="1056.7" text-anchor="middle" class="tk">0.2</text>
<line x1="334.1" y1="1021.2" x2="334.1" y2="1029.2" stroke="#555" stroke-width="2.1"/>
<text x="334.1" y="1056.7" text-anchor="middle" class="tk">0.4</text>
<line x1="426.1" y1="1021.2" x2="426.1" y2="1029.2" stroke="#555" stroke-width="2.1"/>
<text x="426.1" y="1056.7" text-anchor="middle" class="tk">0.6</text>
<line x1="518.1" y1="1021.2" x2="518.1" y2="1029.2" stroke="#555" stroke-width="2.1"/>
<text x="518.1" y="1056.7" text-anchor="middle" class="tk">0.8</text>
<line x1="610.1" y1="1021.2" x2="610.1" y2="1029.2" stroke="#555" stroke-width="2.1"/>
<text x="610.1" y="1056.7" text-anchor="middle" class="tk">1.0</text>
<line x1="126.5" y1="599.2" x2="118.5" y2="599.2" stroke="#555" stroke-width="2.1"/>
<text x="107.5" y="608.2" text-anchor="end" class="tk">7.00</text>
<line x1="126.5" y1="656.3" x2="118.5" y2="656.3" stroke="#555" stroke-width="2.1"/>
<text x="107.5" y="665.3" text-anchor="end" class="tk">6.00</text>
<line x1="126.5" y1="713.4" x2="118.5" y2="713.4" stroke="#555" stroke-width="2.1"/>
<text x="107.5" y="722.4" text-anchor="end" class="tk">5.00</text>
<line x1="126.5" y1="770.5" x2="118.5" y2="770.5" stroke="#555" stroke-width="2.1"/>
<text x="107.5" y="779.5" text-anchor="end" class="tk">4.00</text>
<line x1="126.5" y1="827.7" x2="118.5" y2="827.7" stroke="#555" stroke-width="2.1"/>
<text x="107.5" y="836.7" text-anchor="end" class="tk">3.00</text>
<line x1="126.5" y1="884.8" x2="118.5" y2="884.8" stroke="#555" stroke-width="2.1"/>
<text x="107.5" y="893.8" text-anchor="end" class="tk">2.00</text>
<line x1="126.5" y1="941.9" x2="118.5" y2="941.9" stroke="#555" stroke-width="2.1"/>
<text x="107.5" y="950.9" text-anchor="end" class="tk">1.00</text>
<line x1="126.5" y1="999.0" x2="118.5" y2="999.0" stroke="#555" stroke-width="2.1"/>
<text x="107.5" y="1008.0" text-anchor="end" class="tk">0.00</text>
<path d="M150.1 999.0 L151.6 999.0 L153.1 998.9 L154.6 998.8 L156.1 998.7 L157.5 998.5 L159.0 998.3 L160.5 998.1 L162.0 997.9 L163.5 997.6 L165.0 997.3 L166.5 997.1 L168.0 996.7 L169.5 996.3 L170.9 995.8 L172.4 995.2 L173.9 994.6 L175.4 994.0 L176.9 993.3 L178.4 992.5 L179.9 991.8 L181.4 991.0 L182.9 990.1 L184.3 989.1 L185.8 988.0 L187.3 986.9 L188.8 985.7 L190.3 984.5 L191.8 983.2 L193.3 981.9 L194.8 980.5 L196.3 979.2 L197.7 977.9 L199.2 976.5 L200.7 975.0 L202.2 973.5 L203.7 972.0 L205.2 970.4 L206.7 968.8 L208.2 967.1 L209.7 965.4 L211.1 963.7 L212.6 962.0 L214.1 960.2 L215.6 958.4 L217.1 956.5 L218.6 954.6 L220.1 952.6 L221.6 950.6 L223.1 948.6 L224.5 946.4 L226.0 944.3 L227.5 942.0 L229.0 939.6 L230.5 937.2 L232.0 934.7 L233.5 932.1 L235.0 929.6 L236.5 927.0 L237.9 924.5 L239.4 922.0 L240.9 919.6 L242.4 917.1 L243.9 914.7 L245.4 912.3 L246.9 909.9 L248.4 907.5 L249.9 905.1 L251.3 902.6 L252.8 900.1 L254.3 897.6 L255.8 895.0 L257.3 892.3 L258.8 889.6 L260.3 886.9 L261.8 884.2 L263.3 881.5 L264.8 878.7 L266.2 875.9 L267.7 873.1 L269.2 870.4 L270.7 867.6 L272.2 864.8 L273.7 862.0 L275.2 859.2 L276.7 856.4 L278.2 853.5 L279.6 850.7 L281.1 847.9 L282.6 845.0 L284.1 842.1 L285.6 839.2 L287.1 836.3 L288.6 833.4 L290.1 830.5 L291.6 827.5 L293.0 824.6 L294.5 821.7 L296.0 818.7 L297.5 815.8 L299.0 813.0 L300.5 810.1 L302.0 807.2 L303.5 804.2 L305.0 801.4 L306.4 798.5 L307.9 795.6 L309.4 792.8 L310.9 790.0 L312.4 787.2 L313.9 784.5 L315.4 781.9 L316.9 779.3 L318.4 776.7 L319.8 774.2 L321.3 771.7 L322.8 769.2 L324.3 766.7 L325.8 764.2 L327.3 761.6 L328.8 759.1 L330.3 756.5 L331.8 753.9 L333.2 751.3 L334.7 748.7 L336.2 746.1 L337.7 743.6 L339.2 741.0 L340.7 738.4 L342.2 735.9 L343.7 733.4 L345.2 730.8 L346.6 728.3 L348.1 725.9 L349.6 723.4 L351.1 720.9 L352.6 718.5 L354.1 716.0 L355.6 713.7 L357.1 711.3 L358.6 709.0 L360.0 706.7 L361.5 704.5 L363.0 702.3 L364.5 700.1 L366.0 697.9 L367.5 695.7 L369.0 693.6 L370.5 691.5 L372.0 689.4 L373.4 687.3 L374.9 685.2 L376.4 683.1 L377.9 681.1 L379.4 679.0 L380.9 677.0 L382.4 675.0 L383.9 673.0 L385.4 671.1 L386.8 669.2 L388.3 667.3 L389.8 665.4 L391.3 663.6 L392.8 661.8 L394.3 660.0 L395.8 658.3 L397.3 656.6 L398.8 654.9 L400.2 653.2 L401.7 651.5 L403.2 649.9 L404.7 648.3 L406.2 646.7 L407.7 645.1 L409.2 643.6 L410.7 642.1 L412.2 640.6 L413.6 639.1 L415.1 637.7 L416.6 636.3 L418.1 635.0 L419.6 633.7 L421.1 632.4 L422.6 631.2 L424.1 630.0 L425.6 628.8 L427.0 627.6 L428.5 626.4 L430.0 625.2 L431.5 624.1 L433.0 622.9 L434.5 621.7 L436.0 620.5 L437.5 619.3 L439.0 618.1 L440.4 617.0 L441.9 615.8 L443.4 614.7 L444.9 613.7 L446.4 612.7 L447.9 611.7 L449.4 610.8 L450.9 609.9 L452.4 609.0 L453.8 608.2 L455.3 607.4 L456.8 606.6 L458.3 605.8 L459.8 605.0 L461.3 604.3 L462.8 603.5 L464.3 602.7 L465.8 601.9 L467.2 601.2 L468.7 600.4 L470.2 599.6 L471.7 598.9 L473.2 598.2 L474.7 597.6 L476.2 596.9 L477.7 596.4 L479.2 595.8 L480.6 595.3 L482.1 594.8 L483.6 594.3 L485.1 593.8 L486.6 593.4 L488.1 593.0 L489.6 592.5 L491.1 592.1 L492.6 591.7 L494.1 591.3 L495.5 590.9 L497.0 590.5 L498.5 590.1 L500.0 589.8 L501.5 589.4 L503.0 589.1 L504.5 588.8 L506.0 588.5 L507.5 588.2 L508.9 588.0 L510.4 587.8 L511.9 587.6 L513.4 587.3 L514.9 587.1 L516.4 586.9 L517.9 586.8 L519.4 586.6 L520.9 586.4 L522.3 586.3 L523.8 586.1 L525.3 586.0 L526.8 585.8 L528.3 585.7 L529.8 585.6 L531.3 585.4 L532.8 585.3 L534.3 585.2 L535.7 585.1 L537.2 585.0 L538.7 584.9 L540.2 584.8 L541.7 584.7 L543.2 584.7 L544.7 584.6 L546.2 584.5 L547.7 584.4 L549.1 584.4 L550.6 584.3 L552.1 584.2 L553.6 584.2 L555.1 584.1 L556.6 584.0 L558.1 584.0 L559.6 583.9 L561.1 583.9 L562.5 583.8 L564.0 583.8 L565.5 583.8 L567.0 583.8 L568.5 583.8 L570.0 583.8 L571.5 583.8 L573.0 583.8 L574.5 583.8 L575.9 583.8 L577.4 583.8 L578.9 583.8 L580.4 583.8 L581.9 583.8 L583.4 583.8 L584.9 583.8 L586.4 583.8 L587.9 583.8 L589.3 583.8 L590.8 583.8 L592.3 583.8 L593.8 583.8 L595.3 583.8" fill="none" stroke="#c9444f" stroke-width="1.9" stroke-linejoin="round"/>
<g fill="#c9444f"><circle cx="164.9" cy="997.4" r="2.8"/><circle cx="179.8" cy="991.8" r="2.8"/><circle cx="194.6" cy="980.7" r="2.8"/><circle cx="209.5" cy="965.7" r="2.8"/><circle cx="224.3" cy="946.8" r="2.8"/><circle cx="239.1" cy="922.5" r="2.8"/><circle cx="254.0" cy="898.2" r="2.8"/><circle cx="268.8" cy="871.1" r="2.8"/><circle cx="283.6" cy="843.0" r="2.8"/><circle cx="298.5" cy="813.9" r="2.8"/><circle cx="313.3" cy="785.6" r="2.8"/><circle cx="328.2" cy="760.1" r="2.8"/><circle cx="343.0" cy="734.5" r="2.8"/><circle cx="357.8" cy="710.1" r="2.8"/><circle cx="372.7" cy="688.3" r="2.8"/><circle cx="387.5" cy="668.3" r="2.8"/><circle cx="402.4" cy="650.9" r="2.8"/><circle cx="417.2" cy="635.8" r="2.8"/><circle cx="432.0" cy="623.7" r="2.8"/><circle cx="446.9" cy="612.3" r="2.8"/><circle cx="461.7" cy="604.0" r="2.8"/><circle cx="476.6" cy="596.8" r="2.8"/><circle cx="491.4" cy="592.0" r="2.8"/><circle cx="506.2" cy="588.5" r="2.8"/><circle cx="521.1" cy="586.4" r="2.8"/><circle cx="535.9" cy="585.1" r="2.8"/><circle cx="550.7" cy="584.3" r="2.8"/><circle cx="565.6" cy="583.8" r="2.8"/><circle cx="580.4" cy="583.8" r="2.8"/><circle cx="595.3" cy="583.8" r="2.8"/></g>
<path d="M150.1 999.0 L151.6 996.2 L153.2 993.6 L154.7 991.0 L156.3 988.5 L157.8 986.0 L159.3 983.6 L160.9 981.3 L162.4 979.0 L163.9 976.8 L165.5 974.7 L167.0 972.6 L168.6 970.5 L170.1 968.5 L171.6 966.5 L173.2 964.6 L174.7 962.7 L176.3 960.8 L177.8 959.0 L179.3 957.2 L180.9 955.4 L182.4 953.6 L183.9 951.9 L185.5 950.2 L187.0 948.5 L188.6 946.8 L190.1 945.1 L191.6 943.5 L193.2 941.8 L194.7 940.2 L196.3 938.6 L197.8 936.9 L199.3 935.3 L200.9 933.7 L202.4 932.1 L203.9 930.5 L205.5 928.9 L207.0 927.4 L208.6 925.8 L210.1 924.2 L211.6 922.6 L213.2 921.0 L214.7 919.4 L216.3 917.8 L217.8 916.2 L219.3 914.6 L220.9 913.0 L222.4 911.4 L223.9 909.8 L225.5 908.2 L227.0 906.6 L228.6 905.0 L230.1 903.4 L231.6 901.7 L233.2 900.1 L234.7 898.5 L236.3 896.8 L237.8 895.2 L239.3 893.5 L240.9 891.9 L242.4 890.2 L243.9 888.6 L245.5 886.9 L247.0 885.3 L248.6 883.6 L250.1 882.0 L251.6 880.3 L253.2 878.6 L254.7 877.0 L256.3 875.3 L257.8 873.7 L259.3 872.0 L260.9 870.4 L262.4 868.7 L263.9 867.1 L265.5 865.4 L267.0 863.8 L268.6 862.1 L270.1 860.5 L271.6 858.9 L273.2 857.3 L274.7 855.6 L276.3 854.0 L277.8 852.4 L279.3 850.8 L280.9 849.3 L282.4 847.7 L283.9 846.1 L285.5 844.6 L287.0 843.0 L288.6 841.5 L290.1 840.0 L291.6 838.5 L293.2 837.0 L294.7 835.5 L296.3 834.1 L297.8 832.6 L299.3 831.2 L300.9 829.7 L302.4 828.3 L303.9 826.9 L305.5 825.5 L307.0 824.2 L308.6 822.8 L310.1 821.5 L311.6 820.2 L313.2 818.9 L314.7 817.6 L316.3 816.3 L317.8 815.0 L319.3 813.8 L320.9 812.5 L322.4 811.3 L323.9 810.1 L325.5 808.9 L327.0 807.7 L328.6 806.5 L330.1 805.4 L331.6 804.2 L333.2 803.1 L334.7 802.0 L336.3 800.9 L337.8 799.7 L339.3 798.6 L340.9 797.5 L342.4 796.4 L343.9 795.3 L345.5 794.3 L347.0 793.2 L348.6 792.1 L350.1 791.0 L351.6 789.9 L353.2 788.8 L354.7 787.7 L356.3 786.6 L357.8 785.4 L359.3 784.3 L360.9 783.1 L362.4 782.0 L363.9 780.8 L365.5 779.6 L367.0 778.3 L368.6 777.1 L370.1 775.8 L371.6 774.4 L373.2 773.1 L374.7 771.7 L376.3 770.3 L377.8 768.8 L379.3 767.2 L380.9 765.8 L382.4 764.6 L383.9 763.3 L385.5 762.1 L387.0 760.8 L388.6 759.5 L390.1 758.3 L391.6 757.0 L393.2 755.7 L394.7 754.5 L396.3 753.2 L397.8 751.9 L399.3 750.7 L400.9 749.4 L402.4 748.2 L403.9 746.9 L405.5 745.6 L407.0 744.4 L408.6 743.1 L410.1 741.9 L411.6 740.6 L413.2 739.4 L414.7 738.1 L416.3 736.9 L417.8 735.7 L419.3 734.4 L420.9 733.2 L422.4 732.0 L423.9 730.8 L425.5 729.6 L427.0 728.3 L428.6 727.1 L430.1 725.9 L431.6 724.8 L433.2 723.6 L434.7 722.4 L436.3 721.2 L437.8 720.1 L439.3 718.9 L440.9 717.7 L442.4 716.6 L443.9 715.5 L445.5 714.3 L447.0 713.2 L448.6 712.1 L450.1 711.0 L451.6 709.9 L453.2 708.8 L454.7 707.7 L456.3 706.7 L457.8 705.6 L459.3 704.6 L460.9 703.5 L462.4 702.5 L463.9 701.5 L465.5 700.5 L467.0 699.5 L468.6 698.5 L470.1 697.5 L471.6 696.5 L473.2 695.5 L474.7 694.6 L476.3 693.7 L477.8 692.7 L479.3 691.8 L480.9 690.9 L482.4 690.0 L483.9 689.1 L485.5 688.3 L487.0 687.4 L488.6 686.5 L490.1 685.7 L491.6 684.9 L493.2 684.1 L494.7 683.3 L496.3 682.5 L497.8 681.7 L499.3 680.9 L500.9 680.2 L502.4 679.4 L503.9 678.7 L505.5 678.0 L507.0 677.3 L508.6 676.6 L510.1 675.9 L511.6 675.2 L513.2 674.6 L514.7 673.9 L516.3 673.3 L517.8 672.7 L519.3 672.1 L520.9 671.5 L522.4 670.9 L523.9 670.3 L525.5 669.8 L527.0 669.2 L528.6 668.7 L530.1 668.2 L531.6 667.7 L533.2 667.2 L534.7 666.7 L536.3 666.2 L537.8 665.8 L539.3 665.3 L540.9 664.9 L542.4 664.5 L543.9 664.1 L545.5 663.7 L547.0 663.3 L548.6 662.9 L550.1 662.5 L551.6 662.2 L553.2 661.9 L554.7 661.5 L556.3 661.2 L557.8 660.9 L559.3 660.6 L560.9 660.3 L562.4 660.1 L563.9 659.8 L565.5 659.6 L567.0 659.3 L568.6 659.1 L570.1 658.9 L571.6 658.7 L573.2 658.5 L574.7 658.3 L576.3 658.1 L577.8 658.0 L579.3 657.8 L580.9 657.7 L582.4 657.5 L583.9 657.4 L585.5 657.3 L587.0 657.2 L588.6 657.1 L590.1 657.0 L591.6 656.9 L593.2 656.8 L594.7 656.7 L596.3 656.7 L597.8 656.6 L599.3 656.6 L600.9 656.5 L602.4 656.5 L603.9 656.5 L605.5 656.4 L607.0 656.4 L608.6 656.4 L610.1 656.4" fill="none" stroke="#8470c2" stroke-width="1.8" stroke-linejoin="round"/>
<g fill="#8470c2"><circle cx="150.1" cy="999.0" r="3.5"/><circle cx="156.3" cy="988.5" r="3.5"/><circle cx="163.1" cy="978.1" r="3.5"/><circle cx="171.1" cy="967.2" r="3.5"/><circle cx="180.8" cy="955.5" r="3.5"/><circle cx="192.4" cy="942.7" r="3.5"/><circle cx="206.0" cy="928.4" r="3.5"/><circle cx="221.4" cy="912.5" r="3.5"/><circle cx="238.2" cy="894.7" r="3.5"/><circle cx="256.0" cy="875.6" r="3.5"/><circle cx="274.2" cy="856.2" r="3.5"/><circle cx="292.0" cy="838.2" r="3.5"/><circle cx="308.8" cy="822.6" r="3.5"/><circle cx="324.2" cy="809.9" r="3.5"/><circle cx="337.8" cy="799.7" r="3.5"/><circle cx="349.4" cy="791.5" r="3.5"/><circle cx="359.1" cy="784.5" r="3.5"/><circle cx="367.1" cy="778.2" r="3.5"/><circle cx="373.9" cy="772.4" r="3.5"/><circle cx="380.1" cy="766.5" r="3.5"/><circle cx="386.3" cy="761.4" r="3.5"/><circle cx="393.1" cy="755.8" r="3.5"/><circle cx="401.1" cy="749.2" r="3.5"/><circle cx="410.8" cy="741.3" r="3.5"/><circle cx="422.4" cy="732.0" r="3.5"/><circle cx="436.0" cy="721.4" r="3.5"/><circle cx="451.4" cy="710.1" r="3.5"/><circle cx="468.2" cy="698.7" r="3.5"/><circle cx="486.0" cy="687.9" r="3.5"/><circle cx="504.2" cy="678.6" r="3.5"/><circle cx="522.0" cy="671.1" r="3.5"/><circle cx="538.8" cy="665.5" r="3.5"/><circle cx="554.2" cy="661.6" r="3.5"/><circle cx="567.8" cy="659.2" r="3.5"/><circle cx="579.4" cy="657.8" r="3.5"/><circle cx="589.1" cy="657.0" r="3.5"/><circle cx="597.1" cy="656.6" r="3.5"/><circle cx="603.9" cy="656.5" r="3.5"/><circle cx="610.1" cy="656.4" r="3.5"/></g>
<path d="M150.1 999.0 L151.6 996.6 L153.2 994.3 L154.7 991.9 L156.3 989.6 L157.8 987.3 L159.3 985.0 L160.9 982.7 L162.4 980.4 L163.9 978.1 L165.5 975.9 L167.0 973.6 L168.6 971.4 L170.1 969.3 L171.6 967.1 L173.2 965.0 L174.7 962.9 L176.3 960.8 L177.8 958.7 L179.3 956.7 L180.9 954.7 L182.4 952.7 L183.9 950.8 L185.5 948.8 L187.0 946.9 L188.6 945.1 L190.1 943.2 L191.6 941.4 L193.2 939.6 L194.7 937.8 L196.3 936.1 L197.8 934.4 L199.3 932.7 L200.9 931.0 L202.4 929.3 L203.9 927.7 L205.5 926.1 L207.0 924.5 L208.6 922.9 L210.1 921.3 L211.6 919.7 L213.2 918.2 L214.7 916.7 L216.3 915.1 L217.8 913.6 L219.3 912.1 L220.9 910.6 L222.4 909.1 L223.9 907.7 L225.5 906.2 L227.0 904.7 L228.6 903.2 L230.1 901.8 L231.6 900.3 L233.2 898.8 L234.7 897.4 L236.3 895.9 L237.8 894.4 L239.3 892.9 L240.9 891.4 L242.4 889.9 L243.9 888.4 L245.5 886.9 L247.0 885.4 L248.6 883.8 L250.1 882.3 L251.6 880.7 L253.2 879.2 L254.7 877.6 L256.3 876.0 L257.8 874.4 L259.3 872.8 L260.9 871.2 L262.4 869.6 L263.9 867.9 L265.5 866.3 L267.0 864.6 L268.6 862.9 L270.1 861.3 L271.6 859.6 L273.2 857.9 L274.7 856.2 L276.3 854.5 L277.8 852.8 L279.3 851.1 L280.9 849.4 L282.4 847.7 L283.9 845.9 L285.5 844.3 L287.0 842.6 L288.6 840.9 L290.1 839.2 L291.6 837.6 L293.2 835.9 L294.7 834.3 L296.3 832.7 L297.8 831.2 L299.3 829.7 L300.9 828.2 L302.4 826.7 L303.9 825.2 L305.5 823.6 L307.0 822.1 L308.6 820.7 L310.1 819.4 L311.6 818.2 L313.2 817.0 L314.7 815.9 L316.3 814.8 L317.8 813.8 L319.3 812.8 L320.9 811.8 L322.4 810.9 L323.9 810.0 L325.5 809.1 L327.0 808.2 L328.6 807.4 L330.1 806.5 L331.6 805.7 L333.2 804.8 L334.7 804.0 L336.3 803.1 L337.8 802.2 L339.3 801.4 L340.9 800.5 L342.4 799.6 L343.9 798.6 L345.5 797.7 L347.0 796.7 L348.6 795.8 L350.1 794.8 L351.6 793.8 L353.2 792.8 L354.7 791.7 L356.3 790.7 L357.8 789.6 L359.3 788.5 L360.9 787.4 L362.4 786.3 L363.9 785.1 L365.5 784.0 L367.0 782.8 L368.6 781.7 L370.1 780.5 L371.6 779.3 L373.2 778.1 L374.7 776.9 L376.3 775.7 L377.8 774.5 L379.3 773.3 L380.9 772.1 L382.4 770.9 L383.9 769.7 L385.5 768.5 L387.0 767.4 L388.6 766.2 L390.1 765.0 L391.6 763.9 L393.2 762.8 L394.7 761.6 L396.3 760.5 L397.8 759.5 L399.3 758.4 L400.9 757.4 L402.4 756.3 L403.9 755.3 L405.5 754.4 L407.0 753.4 L408.6 752.5 L410.1 751.6 L411.6 750.7 L413.2 749.8 L414.7 748.9 L416.3 748.1 L417.8 747.3 L419.3 746.5 L420.9 745.8 L422.4 745.0 L423.9 744.3 L425.5 743.5 L427.0 742.8 L428.6 742.1 L430.1 741.4 L431.6 740.7 L433.2 740.0 L434.7 739.3 L436.3 738.6 L437.8 737.8 L439.3 737.1 L440.9 736.3 L442.4 735.5 L443.9 734.6 L445.5 733.7 L447.0 732.8 L448.6 731.8 L450.1 730.7 L451.6 729.6 L453.2 728.4 L454.7 727.1 L456.3 725.7 L457.8 724.3 L459.3 722.9 L460.9 721.6 L462.4 720.4 L463.9 719.2 L465.5 718.0 L467.0 716.9 L468.6 715.8 L470.1 714.7 L471.6 713.7 L473.2 712.7 L474.7 711.6 L476.3 710.6 L477.8 709.6 L479.3 708.6 L480.9 707.7 L482.4 706.7 L483.9 705.7 L485.5 704.7 L487.0 703.7 L488.6 702.7 L490.1 701.6 L491.6 700.6 L493.2 699.6 L494.7 698.5 L496.3 697.5 L497.8 696.4 L499.3 695.3 L500.9 694.3 L502.4 693.2 L503.9 692.1 L505.5 690.9 L507.0 689.8 L508.6 688.7 L510.1 687.6 L511.6 686.4 L513.2 685.3 L514.7 684.2 L516.3 683.0 L517.8 681.9 L519.3 680.7 L520.9 679.6 L522.4 678.5 L523.9 677.4 L525.5 676.2 L527.0 675.1 L528.6 674.0 L530.1 673.0 L531.6 671.9 L533.2 670.9 L534.7 669.8 L536.3 668.8 L537.8 667.8 L539.3 666.9 L540.9 665.9 L542.4 665.0 L543.9 664.1 L545.5 663.3 L547.0 662.4 L548.6 661.7 L550.1 660.9 L551.6 660.2 L553.2 659.5 L554.7 658.8 L556.3 658.2 L557.8 657.6 L559.3 657.1 L560.9 656.6 L562.4 656.1 L563.9 655.7 L565.5 655.3 L567.0 654.9 L568.6 654.6 L570.1 654.4 L571.6 654.1 L573.2 653.9 L574.7 653.7 L576.3 653.6 L577.8 653.5 L579.3 653.4 L580.9 653.3 L582.4 653.3 L583.9 653.3 L585.5 653.3 L587.0 653.3 L588.6 653.3 L590.1 653.4 L591.6 653.4 L593.2 653.4 L594.7 653.5 L596.3 653.5 L597.8 653.5 L599.3 653.5 L600.9 653.4 L602.4 653.4 L603.9 653.2 L605.5 653.1 L607.0 652.8 L608.6 652.6 L610.1 652.2" fill="none" stroke="#6bbfd8" stroke-width="2.4" stroke-linejoin="round"/>
<g fill="#6bbfd8"><path d="M150.1 995.0L154.1 1002.2L146.1 1002.2Z"/><path d="M154.7 987.9L158.7 995.1L150.7 995.1Z"/><path d="M159.9 980.1L163.9 987.3L155.9 987.3Z"/><path d="M166.2 970.8L170.2 978.0L162.2 978.0Z"/><path d="M174.0 959.8L178.0 967.0L170.0 967.0Z"/><path d="M183.5 947.4L187.5 954.6L179.5 954.6Z"/><path d="M194.5 934.1L198.5 941.3L190.5 941.3Z"/><path d="M206.8 920.7L210.8 927.9L202.8 927.9Z"/><path d="M220.0 907.5L224.0 914.7L216.0 914.7Z"/><path d="M233.5 894.5L237.5 901.7L229.5 901.7Z"/><path d="M246.7 881.7L250.7 888.9L242.7 888.9Z"/><path d="M259.1 869.1L263.1 876.3L255.1 876.3Z"/><path d="M270.1 857.3L274.1 864.5L266.1 864.5Z"/><path d="M279.5 846.9L283.5 854.1L275.5 854.1Z"/><path d="M287.3 838.3L291.3 845.5L283.3 845.5Z"/><path d="M293.6 831.5L297.6 838.7L289.6 838.7Z"/><path d="M298.8 826.2L302.8 833.4L294.8 833.4Z"/><path d="M303.4 821.8L307.4 829.0L299.4 829.0Z"/><path d="M308.0 817.2L312.0 824.4L304.0 824.4Z"/><path d="M313.3 812.9L317.3 820.1L309.3 820.1Z"/><path d="M319.6 808.6L323.6 815.8L315.6 815.8Z"/><path d="M327.4 804.0L331.4 811.2L323.4 811.2Z"/><path d="M336.8 798.8L340.8 806.0L332.8 806.0Z"/><path d="M347.8 792.3L351.8 799.5L343.8 799.5Z"/><path d="M360.1 783.9L364.1 791.1L356.1 791.1Z"/><path d="M373.3 774.0L377.3 781.2L369.3 781.2Z"/><path d="M386.9 763.5L390.9 770.7L382.9 770.7Z"/><path d="M400.1 753.9L404.1 761.1L396.1 761.1Z"/><path d="M412.4 746.2L416.4 753.4L408.4 753.4Z"/><path d="M423.4 740.5L427.4 747.7L419.4 747.7Z"/><path d="M432.8 736.1L436.8 743.3L428.8 743.3Z"/><path d="M440.6 732.4L444.6 739.6L436.6 739.6Z"/><path d="M446.9 728.8L450.9 736.0L442.9 736.0Z"/><path d="M452.2 725.2L456.2 732.4L448.2 732.4Z"/><path d="M456.8 721.2L460.8 728.4L452.8 728.4Z"/><path d="M461.4 717.2L465.4 724.4L457.4 724.4Z"/><path d="M466.6 713.2L470.6 720.4L462.6 720.4Z"/><path d="M472.9 708.9L476.9 716.1L468.9 716.1Z"/><path d="M480.7 703.8L484.7 711.0L476.7 711.0Z"/><path d="M490.1 697.6L494.1 704.8L486.1 704.8Z"/><path d="M501.1 690.1L505.1 697.3L497.1 697.3Z"/><path d="M513.5 681.1L517.5 688.3L509.5 688.3Z"/><path d="M526.7 671.4L530.7 678.6L522.7 678.6Z"/><path d="M540.2 662.3L544.2 669.5L536.2 669.5Z"/><path d="M553.4 655.4L557.4 662.6L549.4 662.6Z"/><path d="M565.7 651.2L569.7 658.4L561.7 658.4Z"/><path d="M576.7 649.5L580.7 656.7L572.7 656.7Z"/><path d="M586.2 649.3L590.2 656.5L582.2 656.5Z"/><path d="M594.0 649.5L598.0 656.7L590.0 656.7Z"/><path d="M600.3 649.5L604.3 656.7L596.3 656.7Z"/><path d="M605.5 649.1L609.5 656.3L601.5 656.3Z"/><path d="M610.1 648.2L614.1 655.4L606.1 655.4Z"/></g>
<path d="M150.1 999.0 L151.6 996.5 L153.2 994.1 L154.7 991.6 L156.3 989.2 L157.8 986.8 L159.3 984.5 L160.9 982.1 L162.4 979.8 L163.9 977.5 L165.5 975.3 L167.0 973.0 L168.6 970.8 L170.1 968.6 L171.6 966.4 L173.2 964.3 L174.7 962.2 L176.3 960.0 L177.8 957.9 L179.3 955.9 L180.9 953.8 L182.4 951.8 L183.9 949.8 L185.5 947.8 L187.0 945.8 L188.6 943.9 L190.1 941.9 L191.6 940.0 L193.2 938.1 L194.7 936.2 L196.3 934.4 L197.8 932.5 L199.3 930.7 L200.9 928.9 L202.4 927.1 L203.9 925.4 L205.5 923.6 L207.0 921.9 L208.6 920.2 L210.1 918.5 L211.6 916.8 L213.2 915.1 L214.7 913.5 L216.3 911.8 L217.8 910.2 L219.3 908.6 L220.9 907.0 L222.4 905.4 L223.9 903.8 L225.5 902.3 L227.0 900.7 L228.6 899.2 L230.1 897.7 L231.6 896.2 L233.2 894.7 L234.7 893.2 L236.3 891.7 L237.8 890.2 L239.3 888.8 L240.9 887.3 L242.4 885.8 L243.9 884.4 L245.5 883.0 L247.0 881.5 L248.6 880.1 L250.1 878.6 L251.6 877.2 L253.2 875.7 L254.7 874.3 L256.3 872.8 L257.8 871.4 L259.3 869.9 L260.9 868.5 L262.4 867.0 L263.9 865.5 L265.5 864.1 L267.0 862.9 L268.6 861.6 L270.1 860.2 L271.6 858.6 L273.2 856.9 L274.7 855.2 L276.3 853.4 L277.8 851.5 L279.3 849.6 L280.9 847.7 L282.4 845.8 L283.9 843.9 L285.5 842.0 L287.0 840.1 L288.6 838.3 L290.1 836.5 L291.6 834.7 L293.2 832.9 L294.7 831.2 L296.3 829.6 L297.8 828.0 L299.3 826.5 L300.9 825.0 L302.4 823.5 L303.9 822.2 L305.5 820.9 L307.0 819.6 L308.6 818.4 L310.1 817.2 L311.6 816.1 L313.2 815.0 L314.7 814.0 L316.3 813.0 L317.8 812.0 L319.3 811.1 L320.9 810.2 L322.4 809.3 L323.9 808.4 L325.5 807.6 L327.0 806.7 L328.6 805.9 L330.1 805.0 L331.6 804.2 L333.2 803.3 L334.7 802.4 L336.3 801.5 L337.8 800.6 L339.3 799.7 L340.9 798.7 L342.4 797.7 L343.9 796.7 L345.5 795.6 L347.0 794.5 L348.6 793.3 L350.1 792.1 L351.6 790.9 L353.2 789.7 L354.7 788.4 L356.3 787.0 L357.8 785.7 L359.3 784.3 L360.9 782.9 L362.4 781.4 L363.9 780.0 L365.5 778.5 L367.0 777.1 L368.6 775.7 L370.1 774.2 L371.6 772.9 L373.2 771.5 L374.7 770.2 L376.3 769.0 L377.8 767.9 L379.3 766.9 L380.9 766.0 L382.4 765.3 L383.9 764.4 L385.5 763.5 L387.0 762.4 L388.6 761.4 L390.1 760.3 L391.6 759.1 L393.2 757.9 L394.7 756.7 L396.3 755.4 L397.8 754.1 L399.3 752.9 L400.9 751.6 L402.4 750.3 L403.9 749.0 L405.5 747.7 L407.0 746.4 L408.6 745.1 L410.1 743.8 L411.6 742.6 L413.2 741.3 L414.7 740.1 L416.3 738.8 L417.8 737.6 L419.3 736.5 L420.9 735.3 L422.4 734.2 L423.9 733.0 L425.5 731.9 L427.0 730.8 L428.6 729.7 L430.1 728.7 L431.6 727.6 L433.2 726.6 L434.7 725.6 L436.3 724.6 L437.8 723.6 L439.3 722.6 L440.9 721.6 L442.4 720.7 L443.9 719.7 L445.5 718.7 L447.0 717.8 L448.6 716.8 L450.1 715.9 L451.6 714.9 L453.2 713.9 L454.7 713.0 L456.3 712.0 L457.8 711.0 L459.3 710.1 L460.9 709.1 L462.4 708.1 L463.9 707.1 L465.5 706.1 L467.0 705.1 L468.6 704.1 L470.1 703.0 L471.6 702.0 L473.2 701.0 L474.7 700.0 L476.3 698.9 L477.8 697.9 L479.3 696.9 L480.9 695.9 L482.4 694.9 L483.9 693.9 L485.5 692.9 L487.0 692.0 L488.6 691.1 L490.1 690.2 L491.6 689.3 L493.2 688.5 L494.7 687.8 L496.3 687.1 L497.8 686.4 L499.3 685.5 L500.9 684.5 L502.4 683.4 L503.9 682.3 L505.5 681.1 L507.0 679.8 L508.6 678.4 L510.1 677.0 L511.6 675.6 L513.2 674.1 L514.7 672.7 L516.3 671.2 L517.8 669.6 L519.3 668.1 L520.9 666.6 L522.4 665.1 L523.9 663.6 L525.5 662.1 L527.0 660.7 L528.6 659.2 L530.1 657.8 L531.6 656.4 L533.2 655.0 L534.7 653.6 L536.3 652.3 L537.8 651.0 L539.3 649.8 L540.9 648.6 L542.4 647.4 L543.9 646.2 L545.5 645.1 L547.0 644.0 L548.6 643.0 L550.1 642.0 L551.6 641.0 L553.2 640.1 L554.7 639.2 L556.3 638.3 L557.8 637.4 L559.3 636.6 L560.9 635.8 L562.4 635.1 L563.9 634.3 L565.5 633.6 L567.0 632.9 L568.6 632.3 L570.1 631.6 L571.6 631.0 L573.2 630.4 L574.7 629.8 L576.3 629.3 L577.8 628.8 L579.3 628.2 L580.9 627.7 L582.4 627.3 L583.9 626.8 L585.5 626.4 L587.0 626.0 L588.6 625.6 L590.1 625.2 L591.6 624.9 L593.2 624.5 L594.7 624.2 L596.3 624.0 L597.8 623.7 L599.3 623.5 L600.9 623.4 L602.4 623.3 L603.9 623.2 L605.5 623.2 L607.0 623.2 L608.6 623.3 L610.1 623.5" fill="none" stroke="#486fbc" stroke-width="2.0" stroke-linejoin="round"/>
<g fill="#486fbc"><path d="M150.1 995.4L153.7 999.0L150.1 1002.6L146.5 999.0Z"/><path d="M153.1 990.6L156.7 994.2L153.1 997.8L149.5 994.2Z"/><path d="M156.7 984.9L160.3 988.5L156.7 992.1L153.1 988.5Z"/><path d="M161.5 977.6L165.1 981.2L161.5 984.8L157.9 981.2Z"/><path d="M167.9 968.2L171.5 971.8L167.9 975.4L164.3 971.8Z"/><path d="M175.9 956.9L179.5 960.5L175.9 964.1L172.3 960.5Z"/><path d="M185.5 944.2L189.1 947.8L185.5 951.4L181.9 947.8Z"/><path d="M196.2 930.8L199.8 934.4L196.2 938.0L192.6 934.4Z"/><path d="M207.6 917.6L211.2 921.2L207.6 924.8L204.0 921.2Z"/><path d="M219.0 905.3L222.6 908.9L219.0 912.5L215.4 908.9Z"/><path d="M229.7 894.4L233.3 898.0L229.7 901.6L226.1 898.0Z"/><path d="M239.3 885.2L242.9 888.8L239.3 892.4L235.7 888.8Z"/><path d="M247.3 877.6L250.9 881.2L247.3 884.8L243.7 881.2Z"/><path d="M253.7 871.7L257.3 875.3L253.7 878.9L250.1 875.3Z"/><path d="M258.5 867.1L262.1 870.7L258.5 874.3L254.9 870.7Z"/><path d="M262.1 863.7L265.7 867.3L262.1 870.9L258.5 867.3Z"/><path d="M265.1 860.8L268.7 864.4L265.1 868.0L261.5 864.4Z"/><path d="M268.1 858.4L271.7 862.0L268.1 865.6L264.5 862.0Z"/><path d="M271.7 854.9L275.3 858.5L271.7 862.1L268.1 858.5Z"/><path d="M276.5 849.5L280.1 853.1L276.5 856.7L272.9 853.1Z"/><path d="M282.9 841.7L286.5 845.3L282.9 848.9L279.3 845.3Z"/><path d="M290.9 831.9L294.5 835.5L290.9 839.1L287.3 835.5Z"/><path d="M300.5 821.8L304.1 825.4L300.5 829.0L296.9 825.4Z"/><path d="M311.2 812.8L314.8 816.4L311.2 820.0L307.6 816.4Z"/><path d="M322.6 805.6L326.2 809.2L322.6 812.8L319.0 809.2Z"/><path d="M334.0 799.2L337.6 802.8L334.0 806.4L330.4 802.8Z"/><path d="M344.7 792.5L348.3 796.1L344.7 799.7L341.1 796.1Z"/><path d="M354.3 785.1L357.9 788.7L354.3 792.3L350.7 788.7Z"/><path d="M362.3 777.9L365.9 781.5L362.3 785.1L358.7 781.5Z"/><path d="M368.7 771.9L372.3 775.5L368.7 779.1L365.1 775.5Z"/><path d="M373.5 767.6L377.1 771.2L373.5 774.8L369.9 771.2Z"/><path d="M377.1 764.8L380.7 768.4L377.1 772.0L373.5 768.4Z"/><path d="M380.1 762.8L383.7 766.4L380.1 770.0L376.5 766.4Z"/><path d="M383.1 761.3L386.7 764.9L383.1 768.5L379.5 764.9Z"/><path d="M386.7 759.1L390.3 762.7L386.7 766.3L383.1 762.7Z"/><path d="M391.5 755.6L395.1 759.2L391.5 762.8L387.9 759.2Z"/><path d="M397.9 750.5L401.5 754.1L397.9 757.7L394.3 754.1Z"/><path d="M405.9 743.7L409.5 747.3L405.9 750.9L402.3 747.3Z"/><path d="M415.5 735.9L419.1 739.5L415.5 743.1L411.9 739.5Z"/><path d="M426.2 727.8L429.8 731.4L426.2 735.0L422.6 731.4Z"/><path d="M437.6 720.1L441.2 723.7L437.6 727.3L434.0 723.7Z"/><path d="M449.0 712.9L452.6 716.5L449.0 720.1L445.4 716.5Z"/><path d="M459.7 706.2L463.3 709.8L459.7 713.4L456.1 709.8Z"/><path d="M469.3 700.0L472.9 703.6L469.3 707.2L465.7 703.6Z"/><path d="M477.3 694.6L480.9 698.2L477.3 701.8L473.7 698.2Z"/><path d="M483.7 690.5L487.3 694.1L483.7 697.7L480.1 694.1Z"/><path d="M488.5 687.5L492.1 691.1L488.5 694.7L484.9 691.1Z"/><path d="M492.1 685.5L495.7 689.1L492.1 692.7L488.5 689.1Z"/><path d="M495.1 684.0L498.7 687.6L495.1 691.2L491.5 687.6Z"/><path d="M498.1 682.6L501.7 686.2L498.1 689.8L494.5 686.2Z"/><path d="M501.7 680.3L505.3 683.9L501.7 687.5L498.1 683.9Z"/><path d="M506.5 676.6L510.1 680.2L506.5 683.8L502.9 680.2Z"/><path d="M512.9 670.8L516.5 674.4L512.9 678.0L509.3 674.4Z"/><path d="M520.9 663.0L524.5 666.6L520.9 670.2L517.3 666.6Z"/><path d="M530.5 653.8L534.1 657.4L530.5 661.0L526.9 657.4Z"/><path d="M541.2 644.7L544.8 648.3L541.2 651.9L537.6 648.3Z"/><path d="M552.6 636.8L556.2 640.4L552.6 644.0L549.0 640.4Z"/><path d="M564.0 630.7L567.6 634.3L564.0 637.9L560.4 634.3Z"/><path d="M574.7 626.2L578.3 629.8L574.7 633.4L571.1 629.8Z"/><path d="M584.3 623.1L587.9 626.7L584.3 630.3L580.7 626.7Z"/><path d="M592.3 621.1L595.9 624.7L592.3 628.3L588.7 624.7Z"/><path d="M598.7 620.0L602.3 623.6L598.7 627.2L595.1 623.6Z"/><path d="M603.5 619.6L607.1 623.2L603.5 626.8L599.9 623.2Z"/><path d="M607.1 619.6L610.7 623.2L607.1 626.8L603.5 623.2Z"/><path d="M610.1 619.9L613.7 623.5L610.1 627.1L606.5 623.5Z"/></g>
<path d="M150.5 998.5 L152.0 995.5 L153.6 992.6 L155.1 989.8 L156.6 987.1 L158.2 984.5 L159.7 982.1 L161.3 979.6 L162.8 977.2 L164.3 974.9 L165.9 972.6 L167.4 970.4 L168.9 968.1 L170.5 965.9 L172.0 963.7 L173.6 961.6 L175.1 959.4 L176.6 957.2 L178.2 955.1 L179.7 953.0 L181.2 950.8 L182.8 948.7 L184.3 946.6 L185.9 944.5 L187.4 942.4 L188.9 940.3 L190.5 938.2 L192.0 936.2 L193.5 934.2 L195.1 932.2 L196.6 930.2 L198.2 928.3 L199.7 926.3 L201.2 924.5 L202.8 922.6 L204.3 920.8 L205.8 919.0 L207.4 917.3 L208.9 915.6 L210.4 913.9 L212.0 912.3 L213.5 910.7 L215.1 909.1 L216.6 907.6 L218.1 906.1 L219.7 904.7 L221.2 903.2 L222.7 901.8 L224.3 900.3 L225.8 898.9 L227.4 897.4 L228.9 895.9 L230.4 894.4 L232.0 892.8 L233.5 891.2 L235.0 889.5 L236.6 887.7 L238.1 885.7 L239.7 883.6 L241.2 881.4 L242.7 879.5 L244.3 878.2 L245.8 876.9 L247.3 875.6 L248.9 874.3 L250.4 873.0 L252.0 871.7 L253.5 870.4 L255.0 869.1 L256.6 867.8 L258.1 866.5 L259.6 865.3 L261.2 864.0 L262.7 862.7 L264.2 861.5 L265.8 860.2 L267.3 859.0 L268.9 857.7 L270.4 856.5 L271.9 855.3 L273.5 854.0 L275.0 852.8 L276.5 851.6 L278.1 850.4 L279.6 849.2 L281.2 848.0 L282.7 846.8 L284.2 845.6 L285.8 844.4 L287.3 843.2 L288.8 842.1 L290.4 840.9 L291.9 839.8 L293.5 838.6 L295.0 837.5 L296.5 836.3 L298.1 835.2 L299.6 834.0 L301.1 832.9 L302.7 831.8 L304.2 830.7 L305.7 829.6 L307.3 828.5 L308.8 827.4 L310.4 826.3 L311.9 825.2 L313.4 824.1 L315.0 823.0 L316.5 821.9 L318.0 820.8 L319.6 819.7 L321.1 818.6 L322.7 817.6 L324.2 816.5 L325.7 815.4 L327.3 814.4 L328.8 813.3 L330.3 812.2 L331.9 811.2 L333.4 810.1 L335.0 809.1 L336.5 808.0 L338.0 806.9 L339.6 805.9 L341.1 804.8 L342.6 803.8 L344.2 802.7 L345.7 801.7 L347.3 800.6 L348.8 799.6 L350.3 798.5 L351.9 797.5 L353.4 796.4 L354.9 795.4 L356.5 794.3 L358.0 793.3 L359.5 792.2 L361.1 791.2 L362.6 790.2 L364.2 789.1 L365.7 788.1 L367.2 787.0 L368.8 786.0 L370.3 784.9 L371.8 783.9 L373.4 782.9 L374.9 781.8 L376.5 780.8 L378.0 779.7 L379.5 778.7 L381.1 777.7 L382.6 776.7 L384.1 775.6 L385.7 774.6 L387.2 773.6 L388.8 772.6 L390.3 771.6 L391.8 770.6 L393.4 769.6 L394.9 768.6 L396.4 767.6 L398.0 766.7 L399.5 765.7 L401.1 764.7 L402.6 763.8 L404.1 762.8 L405.7 761.9 L407.2 761.0 L408.7 760.1 L410.3 759.2 L411.8 758.3 L413.3 757.5 L414.9 756.6 L416.4 755.8 L418.0 755.0 L419.5 754.2 L421.0 753.4 L422.6 752.6 L424.1 751.9 L425.6 751.2 L427.2 750.3 L428.7 749.3 L430.3 748.2 L431.8 747.1 L433.3 746.0 L434.9 744.8 L436.4 743.6 L437.9 742.4 L439.5 741.2 L441.0 740.0 L442.6 738.7 L444.1 737.4 L445.6 736.2 L447.2 734.9 L448.7 733.6 L450.2 732.4 L451.8 731.1 L453.3 729.9 L454.9 728.7 L456.4 727.5 L457.9 726.3 L459.5 725.1 L461.0 723.9 L462.5 722.8 L464.1 721.7 L465.6 720.6 L467.1 719.6 L468.7 718.6 L470.2 717.6 L471.8 716.6 L473.3 715.7 L474.8 714.8 L476.4 713.9 L477.9 713.1 L479.4 712.3 L481.0 711.5 L482.5 710.7 L484.1 710.0 L485.6 709.3 L487.1 708.6 L488.7 707.9 L490.2 707.3 L491.7 706.7 L493.3 706.0 L494.8 705.4 L496.4 704.8 L497.9 704.2 L499.4 703.6 L501.0 703.0 L502.5 702.3 L504.0 701.7 L505.6 701.0 L507.1 700.3 L508.6 699.6 L510.2 698.8 L511.7 698.0 L513.3 697.1 L514.8 696.2 L516.3 695.2 L517.9 694.2 L519.4 692.6 L520.9 690.9 L522.5 689.1 L524.0 687.4 L525.6 685.7 L527.1 684.0 L528.6 682.4 L530.2 680.7 L531.7 679.0 L533.2 677.4 L534.8 675.8 L536.3 674.2 L537.9 672.6 L539.4 671.0 L540.9 669.5 L542.5 668.0 L544.0 666.6 L545.5 665.1 L547.1 663.8 L548.6 662.4 L550.2 661.1 L551.7 659.8 L553.2 658.6 L554.8 657.4 L556.3 656.2 L557.8 655.1 L559.4 654.0 L560.9 653.0 L562.4 652.0 L564.0 651.1 L565.5 650.2 L567.1 649.3 L568.6 648.5 L570.1 647.7 L571.7 647.0 L573.2 646.3 L574.7 645.6 L576.3 645.0 L577.8 644.4 L579.4 643.9 L580.9 643.4 L582.4 642.9 L584.0 642.5 L585.5 642.1 L587.0 641.7 L588.6 641.3 L590.1 641.0 L591.7 640.7 L593.2 640.4 L594.7 640.2 L596.3 639.9 L597.8 639.7 L599.3 639.5 L600.9 639.3 L602.4 639.1 L604.0 638.9 L605.5 638.7 L607.0 638.6 L608.6 638.4 L610.1 638.2" fill="none" stroke="#141414" stroke-width="3.0" stroke-linejoin="round"/>
<g stroke="#141414" stroke-width="1.6" fill="none"><path d="M147.9 997.1L152.3 1001.5M152.3 997.1L147.9 1001.5M150.1 996.7V1002.0"/><path d="M150.5 992.1L154.9 996.5M154.9 992.1L150.5 996.5M152.7 991.6V996.9"/><path d="M153.6 986.3L158.0 990.7M158.0 986.3L153.6 990.7M155.8 985.9V991.2"/><path d="M157.9 979.2L162.3 983.6M162.3 979.2L157.9 983.6M160.1 978.7V984.0"/><path d="M163.7 970.4L168.1 974.8M168.1 970.4L163.7 974.8M165.9 970.0V975.2"/><path d="M171.0 959.9L175.4 964.3M175.4 959.9L171.0 964.3M173.2 959.5V964.8"/><path d="M179.5 947.9L183.9 952.3M183.9 947.9L179.5 952.3M181.7 947.5V952.8"/><path d="M189.0 935.1L193.4 939.5M193.4 935.1L189.0 939.5M191.2 934.6V939.9"/><path d="M198.8 922.5L203.2 926.9M203.2 922.5L198.8 926.9M201.0 922.1V927.4"/><path d="M208.3 911.7L212.7 916.1M212.7 911.7L208.3 916.1M210.5 911.3V916.5"/><path d="M216.8 903.1L221.2 907.5M221.2 903.1L216.8 907.5M219.0 902.6V907.9"/><path d="M224.1 896.2L228.5 900.6M228.5 896.2L224.1 900.6M226.3 895.8V901.0"/><path d="M229.9 890.5L234.3 894.9M234.3 890.5L229.9 894.9M232.1 890.1V895.4"/><path d="M234.2 885.7L238.6 890.1M238.6 885.7L234.2 890.1M236.4 885.3V890.6"/><path d="M237.3 881.6L241.7 886.0M241.7 881.6L237.3 886.0M239.5 881.2V886.4"/><path d="M239.9 877.8L244.3 882.2M244.3 877.8L239.9 882.2M242.1 877.4V882.6"/><path d="M242.5 875.6L246.9 880.0M246.9 875.6L242.5 880.0M244.7 875.2V880.5"/><path d="M245.6 872.9L250.0 877.3M250.0 872.9L245.6 877.3M247.8 872.5V877.8"/><path d="M249.9 869.3L254.3 873.7M254.3 869.3L249.9 873.7M252.1 868.9V874.2"/><path d="M255.7 864.5L260.1 868.9M260.1 864.5L255.7 868.9M257.9 864.1V869.3"/><path d="M263.0 858.5L267.4 862.9M267.4 858.5L263.0 862.9M265.2 858.1V863.4"/><path d="M271.5 851.6L275.9 856.0M275.9 851.6L271.5 856.0M273.7 851.2V856.5"/><path d="M281.0 844.2L285.4 848.6M285.4 844.2L281.0 848.6M283.2 843.7V849.0"/><path d="M290.8 836.7L295.2 841.1M295.2 836.7L290.8 841.1M293.0 836.3V841.6"/><path d="M300.3 829.7L304.7 834.1M304.7 829.7L300.3 834.1M302.5 829.3V834.6"/><path d="M308.8 823.6L313.2 828.0M313.2 823.6L308.8 828.0M311.0 823.1V828.4"/><path d="M316.1 818.4L320.5 822.8M320.5 818.4L316.1 822.8M318.3 818.0V823.3"/><path d="M321.9 814.4L326.3 818.8M326.3 814.4L321.9 818.8M324.1 814.0V819.2"/><path d="M326.2 811.4L330.6 815.8M330.6 811.4L326.2 815.8M328.4 811.0V816.2"/><path d="M329.3 809.2L333.7 813.6M333.7 809.2L329.3 813.6M331.5 808.8V814.1"/><path d="M331.9 807.4L336.3 811.8M336.3 807.4L331.9 811.8M334.1 807.0V812.3"/><path d="M334.5 805.7L338.9 810.1M338.9 805.7L334.5 810.1M336.7 805.2V810.5"/><path d="M337.6 803.5L342.0 807.9M342.0 803.5L337.6 807.9M339.8 803.1V808.3"/><path d="M341.9 800.6L346.3 805.0M346.3 800.6L341.9 805.0M344.1 800.1V805.4"/><path d="M347.7 796.6L352.1 801.0M352.1 796.6L347.7 801.0M349.9 796.2V801.5"/><path d="M355.0 791.7L359.4 796.1M359.4 791.7L355.0 796.1M357.2 791.2V796.5"/><path d="M363.5 785.8L367.9 790.2M367.9 785.8L363.5 790.2M365.7 785.4V790.7"/><path d="M373.0 779.4L377.4 783.8M377.4 779.4L373.0 783.8M375.2 779.0V784.3"/><path d="M382.8 772.9L387.2 777.3M387.2 772.9L382.8 777.3M385.0 772.4V777.7"/><path d="M392.3 766.7L396.7 771.1M396.7 766.7L392.3 771.1M394.5 766.2V771.5"/><path d="M400.8 761.3L405.2 765.7M405.2 761.3L400.8 765.7M403.0 760.9V766.1"/><path d="M408.1 757.0L412.5 761.4M412.5 757.0L408.1 761.4M410.3 756.5V761.8"/><path d="M413.9 753.8L418.3 758.2M418.3 753.8L413.9 758.2M416.1 753.3V758.6"/><path d="M418.2 751.5L422.6 755.9M422.6 751.5L418.2 755.9M420.4 751.1V756.4"/><path d="M421.3 750.0L425.7 754.4M425.7 750.0L421.3 754.4M423.5 749.5V754.8"/><path d="M423.9 748.8L428.3 753.2M428.3 748.8L423.9 753.2M426.1 748.4V753.6"/><path d="M426.5 747.1L430.9 751.5M430.9 747.1L426.5 751.5M428.7 746.7V752.0"/><path d="M429.6 744.9L434.0 749.3M434.0 744.9L429.6 749.3M431.8 744.5V749.7"/><path d="M433.9 741.7L438.3 746.1M438.3 741.7L433.9 746.1M436.1 741.2V746.5"/><path d="M439.7 737.0L444.1 741.4M444.1 737.0L439.7 741.4M441.9 736.6V741.9"/><path d="M447.0 731.1L451.4 735.5M451.4 731.1L447.0 735.5M449.2 730.6V735.9"/><path d="M455.5 724.2L459.9 728.6M459.9 724.2L455.5 728.6M457.7 723.8V729.1"/><path d="M465.0 717.4L469.4 721.8M469.4 717.4L465.0 721.8M467.2 716.9V722.2"/><path d="M474.8 711.4L479.2 715.8M479.2 711.4L474.8 715.8M477.0 711.0V716.2"/><path d="M484.3 706.7L488.7 711.1M488.7 706.7L484.3 711.1M486.5 706.3V711.6"/><path d="M492.8 703.1L497.2 707.5M497.2 703.1L492.8 707.5M495.0 702.7V708.0"/><path d="M500.1 700.2L504.5 704.6M504.5 700.2L500.1 704.6M502.3 699.8V705.1"/><path d="M505.9 697.7L510.3 702.1M510.3 697.7L505.9 702.1M508.1 697.2V702.5"/><path d="M510.2 695.5L514.6 699.9M514.6 695.5L510.2 699.9M512.4 695.0V700.3"/><path d="M513.3 693.6L517.7 698.0M517.7 693.6L513.3 698.0M515.5 693.1V698.4"/><path d="M515.9 691.8L520.3 696.2M520.3 691.8L515.9 696.2M518.1 691.4V696.6"/><path d="M518.5 689.0L522.9 693.4M522.9 689.0L518.5 693.4M520.7 688.5V693.8"/><path d="M521.6 685.4L526.0 689.8M526.0 685.4L521.6 689.8M523.8 685.0V690.3"/><path d="M525.9 680.7L530.3 685.1M530.3 680.7L525.9 685.1M528.1 680.2V685.5"/><path d="M531.7 674.5L536.1 678.9M536.1 674.5L531.7 678.9M533.9 674.0V679.3"/><path d="M539.0 667.1L543.4 671.5M543.4 667.1L539.0 671.5M541.2 666.7V671.9"/><path d="M547.5 659.2L551.9 663.6M551.9 659.2L547.5 663.6M549.7 658.8V664.1"/><path d="M557.0 652.0L561.4 656.4M561.4 652.0L557.0 656.4M559.2 651.5V656.8"/><path d="M566.8 646.1L571.2 650.5M571.2 646.1L566.8 650.5M569.0 645.7V650.9"/><path d="M576.3 642.0L580.7 646.4M580.7 642.0L576.3 646.4M578.5 641.6V646.8"/><path d="M584.8 639.5L589.2 643.9M589.2 639.5L584.8 643.9M587.0 639.0V644.3"/><path d="M592.1 638.0L596.5 642.4M596.5 638.0L592.1 642.4M594.3 637.6V642.9"/><path d="M597.9 637.2L602.3 641.6M602.3 637.2L597.9 641.6M600.1 636.8V642.0"/><path d="M602.2 636.7L606.6 641.1M606.6 636.7L602.2 641.1M604.4 636.2V641.5"/><path d="M605.3 636.3L609.7 640.7M609.7 636.3L605.3 640.7M607.5 635.9V641.1"/><path d="M607.9 636.0L612.3 640.4M612.3 636.0L607.9 640.4M610.1 635.6V640.8"/></g>
<rect x="128.0" y="563.0" width="504.7" height="456.7" fill="none" stroke="#282828" stroke-width="3.2"/>
<text x="362.1" y="585.3" text-anchor="middle" class="pl" letter-spacing="0.6">(c)</text>
<text transform="translate(51,792) rotate(-90)" text-anchor="middle" class="ax" letter-spacing="0">Electrolyte potential (mV)</text>
<text x="379.4" y="1088.7" text-anchor="middle" class="ax">Distance from the separator</text>
<line x1="793.5" y1="1021.1" x2="793.5" y2="1029.1" stroke="#555" stroke-width="2.1"/>
<text x="793.5" y="1056.6" text-anchor="middle" class="tk">0.0</text>
<line x1="885.6" y1="1021.1" x2="885.6" y2="1029.1" stroke="#555" stroke-width="2.1"/>
<text x="885.6" y="1056.6" text-anchor="middle" class="tk">0.2</text>
<line x1="977.7" y1="1021.1" x2="977.7" y2="1029.1" stroke="#555" stroke-width="2.1"/>
<text x="977.7" y="1056.6" text-anchor="middle" class="tk">0.4</text>
<line x1="1069.8" y1="1021.1" x2="1069.8" y2="1029.1" stroke="#555" stroke-width="2.1"/>
<text x="1069.8" y="1056.6" text-anchor="middle" class="tk">0.6</text>
<line x1="1161.9" y1="1021.1" x2="1161.9" y2="1029.1" stroke="#555" stroke-width="2.1"/>
<text x="1161.9" y="1056.6" text-anchor="middle" class="tk">0.8</text>
<line x1="1254.0" y1="1021.1" x2="1254.0" y2="1029.1" stroke="#555" stroke-width="2.1"/>
<text x="1254.0" y="1056.6" text-anchor="middle" class="tk">1.0</text>
<line x1="770.5" y1="632.0" x2="762.5" y2="632.0" stroke="#555" stroke-width="2.1"/>
<text x="751.5" y="641.0" text-anchor="end" class="tk">10.00</text>
<line x1="770.5" y1="704.1" x2="762.5" y2="704.1" stroke="#555" stroke-width="2.1"/>
<text x="751.5" y="713.1" text-anchor="end" class="tk">9.00</text>
<line x1="770.5" y1="776.3" x2="762.5" y2="776.3" stroke="#555" stroke-width="2.1"/>
<text x="751.5" y="785.3" text-anchor="end" class="tk">8.00</text>
<line x1="770.5" y1="848.4" x2="762.5" y2="848.4" stroke="#555" stroke-width="2.1"/>
<text x="751.5" y="857.4" text-anchor="end" class="tk">7.00</text>
<line x1="770.5" y1="920.6" x2="762.5" y2="920.6" stroke="#555" stroke-width="2.1"/>
<text x="751.5" y="929.6" text-anchor="end" class="tk">6.00</text>
<line x1="770.5" y1="992.7" x2="762.5" y2="992.7" stroke="#555" stroke-width="2.1"/>
<text x="751.5" y="1001.7" text-anchor="end" class="tk">5.00</text>
<path d="M808.9 583.6 L810.3 583.6 L811.8 583.7 L813.2 583.8 L814.7 583.9 L816.1 584.0 L817.5 584.2 L819.0 584.4 L820.4 584.6 L821.8 584.8 L823.3 585.0 L824.7 585.3 L826.2 585.8 L827.6 586.3 L829.0 587.0 L830.5 587.7 L831.9 588.6 L833.3 589.5 L834.8 590.4 L836.2 591.4 L837.7 592.4 L839.1 593.4 L840.5 594.5 L842.0 595.6 L843.4 596.9 L844.9 598.3 L846.3 599.7 L847.7 601.2 L849.2 602.7 L850.6 604.3 L852.0 605.8 L853.5 607.4 L854.9 609.0 L856.4 610.6 L857.8 612.3 L859.2 614.0 L860.7 615.8 L862.1 617.6 L863.5 619.4 L865.0 621.4 L866.4 623.3 L867.9 625.3 L869.3 627.4 L870.7 629.5 L872.2 631.7 L873.6 634.0 L875.1 636.4 L876.5 638.8 L877.9 641.2 L879.4 643.7 L880.8 646.2 L882.2 648.7 L883.7 651.1 L885.1 653.6 L886.6 656.1 L888.0 658.7 L889.4 661.2 L890.9 663.8 L892.3 666.4 L893.7 669.0 L895.2 671.7 L896.6 674.4 L898.1 677.2 L899.5 679.9 L900.9 682.8 L902.4 685.7 L903.8 688.6 L905.3 691.6 L906.7 694.5 L908.1 697.6 L909.6 700.6 L911.0 703.7 L912.4 706.8 L913.9 709.9 L915.3 713.0 L916.8 716.3 L918.2 719.5 L919.6 722.8 L921.1 726.1 L922.5 729.4 L924.0 732.6 L925.4 735.9 L926.8 739.1 L928.3 742.3 L929.7 745.4 L931.1 748.4 L932.6 751.5 L934.0 754.5 L935.5 757.6 L936.9 760.6 L938.3 763.6 L939.8 766.7 L941.2 769.8 L942.6 773.0 L944.1 776.2 L945.5 779.4 L947.0 782.7 L948.4 786.0 L949.8 789.3 L951.3 792.6 L952.7 795.9 L954.2 799.1 L955.6 802.3 L957.0 805.5 L958.5 808.6 L959.9 811.6 L961.3 814.7 L962.8 817.7 L964.2 820.7 L965.7 823.6 L967.1 826.6 L968.5 829.5 L970.0 832.5 L971.4 835.4 L972.8 838.3 L974.3 841.3 L975.7 844.2 L977.2 847.2 L978.6 850.1 L980.0 853.0 L981.5 855.9 L982.9 858.7 L984.4 861.5 L985.8 864.3 L987.2 867.1 L988.7 869.8 L990.1 872.6 L991.5 875.3 L993.0 877.9 L994.4 880.6 L995.9 883.2 L997.3 885.8 L998.7 888.3 L1000.2 890.8 L1001.6 893.3 L1003.0 895.7 L1004.5 898.1 L1005.9 900.4 L1007.4 902.7 L1008.8 905.0 L1010.2 907.2 L1011.7 909.4 L1013.1 911.6 L1014.6 913.8 L1016.0 915.9 L1017.4 918.0 L1018.9 920.1 L1020.3 922.2 L1021.7 924.2 L1023.2 926.2 L1024.6 928.2 L1026.1 930.2 L1027.5 932.1 L1028.9 934.0 L1030.4 935.8 L1031.8 937.7 L1033.2 939.5 L1034.7 941.2 L1036.1 942.9 L1037.6 944.6 L1039.0 946.3 L1040.4 948.0 L1041.9 949.6 L1043.3 951.2 L1044.8 952.8 L1046.2 954.3 L1047.6 955.8 L1049.1 957.4 L1050.5 958.9 L1051.9 960.4 L1053.4 961.9 L1054.8 963.3 L1056.3 964.7 L1057.7 966.1 L1059.1 967.4 L1060.6 968.7 L1062.0 969.9 L1063.4 971.1 L1064.9 972.3 L1066.3 973.4 L1067.8 974.5 L1069.2 975.5 L1070.6 976.6 L1072.1 977.6 L1073.5 978.6 L1075.0 979.5 L1076.4 980.5 L1077.8 981.4 L1079.3 982.3 L1080.7 983.2 L1082.1 984.1 L1083.6 984.9 L1085.0 985.7 L1086.5 986.5 L1087.9 987.3 L1089.3 988.0 L1090.8 988.7 L1092.2 989.4 L1093.6 990.1 L1095.1 990.8 L1096.5 991.4 L1098.0 992.0 L1099.4 992.6 L1100.8 993.2 L1102.3 993.7 L1103.7 994.2 L1105.2 994.6 L1106.6 995.0 L1108.0 995.4 L1109.5 995.8 L1110.9 996.1 L1112.3 996.4 L1113.8 996.7 L1115.2 997.0 L1116.7 997.2 L1118.1 997.5 L1119.5 997.6 L1121.0 997.8 L1122.4 998.0 L1123.8 998.1 L1125.3 998.3 L1126.7 998.4 L1128.2 998.6 L1129.6 998.7 L1131.0 998.8 L1132.5 998.8 L1133.9 998.9 L1135.4 998.9 L1136.8 998.9 L1138.2 998.9 L1139.7 998.9 L1141.1 998.9 L1142.5 998.8 L1144.0 998.8 L1145.4 998.8 L1146.9 998.8 L1148.3 998.7 L1149.7 998.7 L1151.2 998.6 L1152.6 998.5 L1154.1 998.4 L1155.5 998.2 L1156.9 997.9 L1158.4 997.7 L1159.8 997.4 L1161.2 997.2 L1162.7 996.9 L1164.1 996.7 L1165.6 996.5 L1167.0 996.3 L1168.4 996.1 L1169.9 995.9 L1171.3 995.6 L1172.7 995.4 L1174.2 995.2 L1175.6 994.9 L1177.1 994.7 L1178.5 994.5 L1179.9 994.2 L1181.4 994.0 L1182.8 993.7 L1184.3 993.4 L1185.7 993.1 L1187.1 992.8 L1188.6 992.6 L1190.0 992.3 L1191.4 992.0 L1192.9 991.7 L1194.3 991.5 L1195.8 991.2 L1197.2 991.0 L1198.6 990.8 L1200.1 990.6 L1201.5 990.3 L1202.9 990.1 L1204.4 989.9 L1205.8 989.7 L1207.3 989.5 L1208.7 989.3 L1210.1 989.1 L1211.6 988.9 L1213.0 988.7 L1214.5 988.5 L1215.9 988.3 L1217.3 988.1 L1218.8 987.9 L1220.2 987.7 L1221.6 987.6 L1223.1 987.4 L1224.5 987.2 L1226.0 987.0 L1227.4 986.9 L1228.8 986.7 L1230.3 986.5 L1231.7 986.4 L1233.1 986.2 L1234.6 986.0 L1236.0 985.9 L1237.5 985.7 L1238.9 985.6" fill="none" stroke="#c9444f" stroke-width="1.9" stroke-linejoin="round"/>
<g fill="#c9444f"><circle cx="808.4" cy="583.6" r="2.8"/><circle cx="823.2" cy="585.0" r="2.8"/><circle cx="838.1" cy="592.7" r="2.8"/><circle cx="852.9" cy="606.8" r="2.8"/><circle cx="867.8" cy="625.2" r="2.8"/><circle cx="882.6" cy="649.3" r="2.8"/><circle cx="897.5" cy="676.0" r="2.8"/><circle cx="912.3" cy="706.5" r="2.8"/><circle cx="927.2" cy="739.9" r="2.8"/><circle cx="942.0" cy="771.6" r="2.8"/><circle cx="956.9" cy="805.2" r="2.8"/><circle cx="971.8" cy="836.1" r="2.8"/><circle cx="986.6" cy="865.9" r="2.8"/><circle cx="1001.5" cy="893.1" r="2.8"/><circle cx="1016.3" cy="916.4" r="2.8"/><circle cx="1031.2" cy="936.9" r="2.8"/><circle cx="1046.0" cy="954.1" r="2.8"/><circle cx="1060.9" cy="969.0" r="2.8"/><circle cx="1075.7" cy="980.1" r="2.8"/><circle cx="1090.6" cy="988.6" r="2.8"/><circle cx="1105.5" cy="994.7" r="2.8"/><circle cx="1120.3" cy="997.7" r="2.8"/><circle cx="1135.2" cy="998.9" r="2.8"/><circle cx="1150.0" cy="998.7" r="2.8"/><circle cx="1164.9" cy="996.6" r="2.8"/><circle cx="1179.7" cy="994.3" r="2.8"/><circle cx="1194.6" cy="991.4" r="2.8"/><circle cx="1209.4" cy="989.2" r="2.8"/><circle cx="1224.3" cy="987.2" r="2.8"/><circle cx="1239.1" cy="985.6" r="2.8"/></g>
<path d="M793.5 589.5 L795.0 592.0 L796.6 594.5 L798.1 596.9 L799.7 599.4 L801.2 601.9 L802.7 604.3 L804.3 606.7 L805.8 609.1 L807.4 611.6 L808.9 613.9 L810.4 616.3 L812.0 618.7 L813.5 621.1 L815.1 623.4 L816.6 625.8 L818.1 628.1 L819.7 630.4 L821.2 632.7 L822.8 635.0 L824.3 637.3 L825.8 639.6 L827.4 641.9 L828.9 644.1 L830.5 646.4 L832.0 648.6 L833.5 650.8 L835.1 653.0 L836.6 655.2 L838.2 657.4 L839.7 659.5 L841.2 661.7 L842.8 663.8 L844.3 666.0 L845.9 668.1 L847.4 670.2 L848.9 672.3 L850.5 674.3 L852.0 676.4 L853.6 678.5 L855.1 680.5 L856.6 682.5 L858.2 684.5 L859.7 686.5 L861.3 688.5 L862.8 690.5 L864.3 692.4 L865.9 694.4 L867.4 696.3 L869.0 698.2 L870.5 700.1 L872.0 702.0 L873.6 703.9 L875.1 705.8 L876.7 707.6 L878.2 709.4 L879.7 711.3 L881.3 713.1 L882.8 714.9 L884.4 716.6 L885.9 718.4 L887.4 720.2 L889.0 721.9 L890.5 723.6 L892.1 725.4 L893.6 727.1 L895.1 728.7 L896.7 730.4 L898.2 732.1 L899.8 733.7 L901.3 735.4 L902.8 737.0 L904.4 738.6 L905.9 740.2 L907.5 741.8 L909.0 743.3 L910.6 744.9 L912.1 746.4 L913.6 747.9 L915.2 749.5 L916.7 751.0 L918.3 752.5 L919.8 753.9 L921.3 755.4 L922.9 756.8 L924.4 758.3 L926.0 759.7 L927.5 761.1 L929.0 762.5 L930.6 763.9 L932.1 765.3 L933.7 766.7 L935.2 768.0 L936.7 769.4 L938.3 770.7 L939.8 772.0 L941.4 773.3 L942.9 774.6 L944.4 775.9 L946.0 777.2 L947.5 778.4 L949.1 779.7 L950.6 780.9 L952.1 782.1 L953.7 783.3 L955.2 784.5 L956.8 785.7 L958.3 786.9 L959.8 788.1 L961.4 789.3 L962.9 790.4 L964.5 791.6 L966.0 792.7 L967.5 793.8 L969.1 794.9 L970.6 796.0 L972.2 797.1 L973.7 798.2 L975.2 799.3 L976.8 800.4 L978.3 801.4 L979.9 802.5 L981.4 803.5 L982.9 804.6 L984.5 805.6 L986.0 806.6 L987.6 807.6 L989.1 808.7 L990.6 809.7 L992.2 810.6 L993.7 811.6 L995.3 812.6 L996.8 813.6 L998.3 814.5 L999.9 815.5 L1001.4 816.5 L1003.0 817.4 L1004.5 818.4 L1006.0 819.3 L1007.6 820.2 L1009.1 821.2 L1010.7 822.1 L1012.2 823.0 L1013.7 823.9 L1015.3 824.8 L1016.8 825.7 L1018.4 826.6 L1019.9 827.5 L1021.4 828.4 L1023.0 829.3 L1024.5 830.6 L1026.1 832.2 L1027.6 833.8 L1029.1 835.4 L1030.7 836.9 L1032.2 838.5 L1033.8 840.0 L1035.3 841.5 L1036.8 843.0 L1038.4 844.5 L1039.9 845.9 L1041.5 847.4 L1043.0 848.8 L1044.5 850.2 L1046.1 851.6 L1047.6 853.0 L1049.2 854.3 L1050.7 855.7 L1052.2 857.0 L1053.8 858.3 L1055.3 859.6 L1056.9 860.9 L1058.4 862.2 L1059.9 863.4 L1061.5 864.6 L1063.0 865.9 L1064.6 867.1 L1066.1 868.3 L1067.6 869.4 L1069.2 870.6 L1070.7 871.7 L1072.3 872.9 L1073.8 874.0 L1075.3 875.1 L1076.9 876.1 L1078.4 877.2 L1080.0 878.3 L1081.5 879.3 L1083.0 880.3 L1084.6 881.3 L1086.1 882.3 L1087.7 883.3 L1089.2 884.2 L1090.7 885.1 L1092.3 886.1 L1093.8 887.0 L1095.4 887.9 L1096.9 888.7 L1098.4 889.6 L1100.0 890.4 L1101.5 891.3 L1103.1 892.1 L1104.6 892.9 L1106.1 893.6 L1107.7 894.4 L1109.2 895.1 L1110.8 895.9 L1112.3 896.6 L1113.8 897.3 L1115.4 897.9 L1116.9 898.6 L1118.5 899.2 L1120.0 899.9 L1121.5 900.5 L1123.1 901.1 L1124.6 901.7 L1126.2 902.2 L1127.7 902.8 L1129.2 903.3 L1130.8 903.8 L1132.3 904.3 L1133.9 904.8 L1135.4 905.2 L1136.9 905.7 L1138.5 906.1 L1140.0 906.5 L1141.6 906.9 L1143.1 907.3 L1144.7 907.6 L1146.2 908.0 L1147.7 908.3 L1149.3 908.6 L1150.8 908.9 L1152.4 909.2 L1153.9 909.4 L1155.4 909.7 L1157.0 909.9 L1158.5 910.1 L1160.1 910.3 L1161.6 910.5 L1163.1 910.6 L1164.7 910.7 L1166.2 910.9 L1167.8 911.0 L1169.3 911.1 L1170.8 911.1 L1172.4 911.2 L1173.9 911.2 L1175.5 911.2 L1177.0 911.2 L1178.5 911.2 L1180.1 911.2 L1181.6 911.1 L1183.2 911.1 L1184.7 911.0 L1186.2 910.9 L1187.8 910.8 L1189.3 910.7 L1190.9 910.5 L1192.4 910.4 L1193.9 910.2 L1195.5 910.0 L1197.0 909.8 L1198.6 909.6 L1200.1 909.4 L1201.6 909.1 L1203.2 908.9 L1204.7 908.6 L1206.3 908.3 L1207.8 908.0 L1209.3 907.7 L1210.9 907.3 L1212.4 907.0 L1214.0 906.6 L1215.5 906.3 L1217.0 905.9 L1218.6 905.5 L1220.1 905.1 L1221.7 904.7 L1223.2 904.2 L1224.7 903.8 L1226.3 903.4 L1227.8 902.9 L1229.4 902.4 L1230.9 901.9 L1232.4 901.5 L1234.0 901.0 L1235.5 900.4 L1237.1 899.9 L1238.6 899.4 L1240.1 898.9 L1241.7 898.3 L1243.2 897.8 L1244.8 897.2 L1246.3 896.7 L1247.8 896.1 L1249.4 895.5 L1250.9 895.0 L1252.5 894.4 L1254.0 893.8" fill="none" stroke="#8470c2" stroke-width="1.8" stroke-linejoin="round"/>
<g fill="#8470c2"><circle cx="793.5" cy="589.5" r="3.5"/><circle cx="799.7" cy="599.4" r="3.5"/><circle cx="806.5" cy="610.2" r="3.5"/><circle cx="814.5" cy="622.6" r="3.5"/><circle cx="824.2" cy="637.2" r="3.5"/><circle cx="835.8" cy="654.1" r="3.5"/><circle cx="849.4" cy="672.9" r="3.5"/><circle cx="864.8" cy="693.1" r="3.5"/><circle cx="881.7" cy="713.6" r="3.5"/><circle cx="899.5" cy="733.5" r="3.5"/><circle cx="917.7" cy="751.9" r="3.5"/><circle cx="935.5" cy="768.3" r="3.5"/><circle cx="952.4" cy="782.3" r="3.5"/><circle cx="967.8" cy="794.0" r="3.5"/><circle cx="981.4" cy="803.6" r="3.5"/><circle cx="993.0" cy="811.2" r="3.5"/><circle cx="1002.7" cy="817.3" r="3.5"/><circle cx="1010.8" cy="822.1" r="3.5"/><circle cx="1017.6" cy="826.2" r="3.5"/><circle cx="1023.8" cy="829.8" r="3.5"/><circle cx="1029.9" cy="836.2" r="3.5"/><circle cx="1036.7" cy="842.9" r="3.5"/><circle cx="1044.8" cy="850.4" r="3.5"/><circle cx="1054.5" cy="858.9" r="3.5"/><circle cx="1066.1" cy="868.2" r="3.5"/><circle cx="1079.7" cy="878.1" r="3.5"/><circle cx="1095.1" cy="887.7" r="3.5"/><circle cx="1112.0" cy="896.4" r="3.5"/><circle cx="1129.8" cy="903.5" r="3.5"/><circle cx="1148.0" cy="908.4" r="3.5"/><circle cx="1165.8" cy="910.8" r="3.5"/><circle cx="1182.7" cy="911.1" r="3.5"/><circle cx="1198.1" cy="909.7" r="3.5"/><circle cx="1211.7" cy="907.2" r="3.5"/><circle cx="1223.3" cy="904.2" r="3.5"/><circle cx="1233.0" cy="901.3" r="3.5"/><circle cx="1241.0" cy="898.6" r="3.5"/><circle cx="1247.8" cy="896.1" r="3.5"/><circle cx="1254.0" cy="893.8" r="3.5"/></g>
<path d="M793.5 591.0 L795.0 593.3 L796.6 595.6 L798.1 597.9 L799.7 600.3 L801.2 602.8 L802.7 605.2 L804.3 607.7 L805.8 610.2 L807.4 612.7 L808.9 615.2 L810.4 617.8 L812.0 620.3 L813.5 622.9 L815.1 625.4 L816.6 628.0 L818.1 630.6 L819.7 633.1 L821.2 635.7 L822.8 638.2 L824.3 640.8 L825.8 643.3 L827.4 645.8 L828.9 648.3 L830.5 650.8 L832.0 653.3 L833.5 655.7 L835.1 658.2 L836.6 660.6 L838.2 662.9 L839.7 665.3 L841.2 667.6 L842.8 669.9 L844.3 672.2 L845.9 674.5 L847.4 676.7 L848.9 678.9 L850.5 681.1 L852.0 683.2 L853.6 685.3 L855.1 687.4 L856.6 689.4 L858.2 691.4 L859.7 693.4 L861.3 695.3 L862.8 697.2 L864.3 699.1 L865.9 701.0 L867.4 702.8 L869.0 704.6 L870.5 706.3 L872.0 708.1 L873.6 709.8 L875.1 711.4 L876.7 713.1 L878.2 714.7 L879.7 716.3 L881.3 717.9 L882.8 719.4 L884.4 720.9 L885.9 722.4 L887.4 723.9 L889.0 725.4 L890.5 726.8 L892.1 728.3 L893.6 729.7 L895.1 731.1 L896.7 732.5 L898.2 733.9 L899.8 735.3 L901.3 736.7 L902.8 738.1 L904.4 739.5 L905.9 740.9 L907.5 742.3 L909.0 743.7 L910.6 745.2 L912.1 746.6 L913.6 748.1 L915.2 749.6 L916.7 751.1 L918.3 752.6 L919.8 754.2 L921.3 755.8 L922.9 757.4 L924.4 759.1 L926.0 760.8 L927.5 762.6 L929.0 764.4 L930.6 766.3 L932.1 768.2 L933.7 770.2 L935.2 772.3 L936.7 774.4 L938.3 776.6 L939.8 778.9 L941.4 781.3 L942.9 783.8 L944.4 786.3 L946.0 788.9 L947.5 791.0 L949.1 791.9 L950.6 792.7 L952.1 793.7 L953.7 794.6 L955.2 795.6 L956.8 796.6 L958.3 797.6 L959.8 798.6 L961.4 799.7 L962.9 800.7 L964.5 801.8 L966.0 802.9 L967.5 803.9 L969.1 805.0 L970.6 806.1 L972.2 807.2 L973.7 808.3 L975.2 809.4 L976.8 810.4 L978.3 811.5 L979.9 812.5 L981.4 813.6 L982.9 814.6 L984.5 815.6 L986.0 816.6 L987.6 817.6 L989.1 818.5 L990.6 819.5 L992.2 820.4 L993.7 821.3 L995.3 822.2 L996.8 823.1 L998.3 824.0 L999.9 824.8 L1001.4 825.6 L1003.0 826.4 L1004.5 827.2 L1006.0 827.9 L1007.6 828.7 L1009.1 829.4 L1010.7 830.1 L1012.2 830.7 L1013.7 831.4 L1015.3 832.0 L1016.8 832.7 L1018.4 833.3 L1019.9 833.9 L1021.4 834.4 L1023.0 835.0 L1024.5 835.5 L1026.1 836.0 L1027.6 836.5 L1029.1 837.0 L1030.7 837.5 L1032.2 838.0 L1033.8 838.4 L1035.3 838.9 L1036.8 839.3 L1038.4 839.8 L1039.9 840.2 L1041.5 840.6 L1043.0 841.0 L1044.5 841.4 L1046.1 841.8 L1047.6 842.2 L1049.2 842.6 L1050.7 843.0 L1052.2 843.3 L1053.8 843.7 L1055.3 844.1 L1056.9 844.5 L1058.4 844.8 L1059.9 845.2 L1061.5 845.6 L1063.0 846.0 L1064.6 846.4 L1066.1 846.8 L1067.6 847.2 L1069.2 847.6 L1070.7 848.0 L1072.3 848.4 L1073.8 848.8 L1075.3 849.2 L1076.9 849.6 L1078.4 850.0 L1080.0 850.4 L1081.5 850.9 L1083.0 851.3 L1084.6 851.8 L1086.1 852.2 L1087.7 852.7 L1089.2 853.1 L1090.7 853.6 L1092.3 854.0 L1093.8 854.5 L1095.4 854.9 L1096.9 855.4 L1098.4 855.9 L1100.0 856.3 L1101.5 857.1 L1103.1 858.1 L1104.6 859.2 L1106.1 860.3 L1107.7 861.4 L1109.2 862.5 L1110.8 863.7 L1112.3 864.8 L1113.8 866.0 L1115.4 867.2 L1116.9 868.4 L1118.5 869.6 L1120.0 870.9 L1121.5 872.1 L1123.1 873.3 L1124.6 874.5 L1126.2 875.8 L1127.7 877.0 L1129.2 878.2 L1130.8 879.4 L1132.3 880.6 L1133.9 881.7 L1135.4 882.9 L1136.9 884.0 L1138.5 885.2 L1140.0 886.3 L1141.6 887.4 L1143.1 888.4 L1144.7 889.5 L1146.2 890.5 L1147.7 891.5 L1149.3 892.5 L1150.8 893.5 L1152.4 894.4 L1153.9 895.3 L1155.4 896.2 L1157.0 897.0 L1158.5 897.8 L1160.1 898.6 L1161.6 899.4 L1163.1 900.1 L1164.7 900.8 L1166.2 901.5 L1167.8 902.1 L1169.3 902.8 L1170.8 903.3 L1172.4 903.9 L1173.9 904.4 L1175.5 904.9 L1177.0 905.4 L1178.5 905.8 L1180.1 906.2 L1181.6 906.6 L1183.2 907.0 L1184.7 907.3 L1186.2 907.6 L1187.8 907.8 L1189.3 908.1 L1190.9 908.3 L1192.4 908.5 L1193.9 908.6 L1195.5 908.8 L1197.0 908.9 L1198.6 909.0 L1200.1 909.1 L1201.6 909.1 L1203.2 909.1 L1204.7 909.1 L1206.3 909.1 L1207.8 909.1 L1209.3 909.0 L1210.9 909.0 L1212.4 908.9 L1214.0 908.8 L1215.5 908.7 L1217.0 908.5 L1218.6 908.4 L1220.1 908.2 L1221.7 908.1 L1223.2 907.9 L1224.7 907.7 L1226.3 907.5 L1227.8 907.3 L1229.4 907.1 L1230.9 906.9 L1232.4 906.6 L1234.0 906.4 L1235.5 906.2 L1237.1 905.9 L1238.6 905.7 L1240.1 905.4 L1241.7 905.2 L1243.2 905.0 L1244.8 904.7 L1246.3 904.5 L1247.8 904.2 L1249.4 904.0 L1250.9 903.8 L1252.5 903.5 L1254.0 903.3" fill="none" stroke="#6bbfd8" stroke-width="2.4" stroke-linejoin="round"/>
<g fill="#6bbfd8"><path d="M793.5 587.0L797.5 594.2L789.5 594.2Z"/><path d="M798.1 593.9L802.1 601.1L794.1 601.1Z"/><path d="M803.3 602.2L807.3 609.4L799.3 609.4Z"/><path d="M809.7 612.5L813.7 619.7L805.7 619.7Z"/><path d="M817.5 625.4L821.5 632.6L813.5 632.6Z"/><path d="M826.9 641.0L830.9 648.2L822.9 648.2Z"/><path d="M837.9 658.6L841.9 665.8L833.9 665.8Z"/><path d="M850.3 676.8L854.3 684.0L846.3 684.0Z"/><path d="M863.5 694.1L867.5 701.3L859.5 701.3Z"/><path d="M877.0 709.4L881.0 716.6L873.0 716.6Z"/><path d="M890.2 722.5L894.2 729.7L886.2 729.7Z"/><path d="M902.6 733.9L906.6 741.1L898.6 741.1Z"/><path d="M913.6 744.1L917.6 751.3L909.6 751.3Z"/><path d="M923.0 753.6L927.0 760.8L919.0 760.8Z"/><path d="M930.8 762.7L934.8 769.9L926.8 769.9Z"/><path d="M937.2 771.1L941.2 778.3L933.2 778.3Z"/><path d="M942.4 778.9L946.4 786.1L938.4 786.1Z"/><path d="M947.0 786.8L951.0 794.0L943.0 794.0Z"/><path d="M951.6 789.3L955.6 796.5L947.6 796.5Z"/><path d="M956.8 792.6L960.8 799.8L952.8 799.8Z"/><path d="M963.2 796.9L967.2 804.1L959.2 804.1Z"/><path d="M971.0 802.4L975.0 809.6L967.0 809.6Z"/><path d="M980.4 808.9L984.4 816.1L976.4 816.1Z"/><path d="M991.4 816.0L995.4 823.2L987.4 823.2Z"/><path d="M1003.8 822.8L1007.8 830.0L999.8 830.0Z"/><path d="M1017.0 828.7L1021.0 835.9L1013.0 835.9Z"/><path d="M1030.5 833.5L1034.5 840.7L1026.5 840.7Z"/><path d="M1043.7 837.2L1047.7 844.4L1039.7 844.4Z"/><path d="M1056.1 840.3L1060.1 847.5L1052.1 847.5Z"/><path d="M1067.1 843.0L1071.1 850.2L1063.1 850.2Z"/><path d="M1076.5 845.5L1080.5 852.7L1072.5 852.7Z"/><path d="M1084.3 847.7L1088.3 854.9L1080.3 854.9Z"/><path d="M1090.7 849.5L1094.7 856.7L1086.7 856.7Z"/><path d="M1095.9 851.1L1099.9 858.3L1091.9 858.3Z"/><path d="M1100.5 852.5L1104.5 859.7L1096.5 859.7Z"/><path d="M1105.1 855.5L1109.1 862.7L1101.1 862.7Z"/><path d="M1110.3 859.3L1114.3 866.5L1106.3 866.5Z"/><path d="M1116.7 864.2L1120.7 871.4L1112.7 871.4Z"/><path d="M1124.5 870.4L1128.5 877.6L1120.5 877.6Z"/><path d="M1133.9 877.8L1137.9 885.0L1129.9 885.0Z"/><path d="M1144.9 885.7L1148.9 892.9L1140.9 892.9Z"/><path d="M1157.3 893.2L1161.3 900.4L1153.3 900.4Z"/><path d="M1170.5 899.2L1174.5 906.4L1166.5 906.4Z"/><path d="M1184.0 903.1L1188.0 910.3L1180.0 910.3Z"/><path d="M1197.2 904.9L1201.2 912.1L1193.2 912.1Z"/><path d="M1209.6 905.0L1213.6 912.2L1205.6 912.2Z"/><path d="M1220.6 904.2L1224.6 911.4L1216.6 911.4Z"/><path d="M1230.0 903.0L1234.0 910.2L1226.0 910.2Z"/><path d="M1237.8 901.8L1241.8 909.0L1233.8 909.0Z"/><path d="M1244.2 900.8L1248.2 908.0L1240.2 908.0Z"/><path d="M1249.4 900.0L1253.4 907.2L1245.4 907.2Z"/><path d="M1254.0 899.3L1258.0 906.5L1250.0 906.5Z"/></g>
<path d="M793.5 597.0 L795.0 599.5 L796.6 602.1 L798.1 604.8 L799.7 607.5 L801.2 610.2 L802.7 612.9 L804.3 615.6 L805.8 618.4 L807.4 621.2 L808.9 624.0 L810.4 626.8 L812.0 629.6 L813.5 632.4 L815.1 635.1 L816.6 637.9 L818.1 640.7 L819.7 643.4 L821.2 646.2 L822.8 648.9 L824.3 651.6 L825.8 654.3 L827.4 656.9 L828.9 659.6 L830.5 662.2 L832.0 664.8 L833.5 667.3 L835.1 669.8 L836.6 672.3 L838.2 674.8 L839.7 677.3 L841.2 679.7 L842.8 682.1 L844.3 684.5 L845.9 686.8 L847.4 689.1 L848.9 691.4 L850.5 693.7 L852.0 695.9 L853.6 698.1 L855.1 700.3 L856.6 702.5 L858.2 704.6 L859.7 706.8 L861.3 708.9 L862.8 711.0 L864.3 713.0 L865.9 715.1 L867.4 717.1 L869.0 719.2 L870.5 721.2 L872.0 723.2 L873.6 725.2 L875.1 727.1 L876.7 729.1 L878.2 731.1 L879.7 733.0 L881.3 735.0 L882.8 736.9 L884.4 738.8 L885.9 740.8 L887.4 742.7 L889.0 744.6 L890.5 746.5 L892.1 748.4 L893.6 750.3 L895.1 752.2 L896.7 754.1 L898.2 755.9 L899.8 757.8 L901.3 759.7 L902.8 761.5 L904.4 763.4 L905.9 765.2 L907.5 767.0 L909.0 768.9 L910.6 770.8 L912.1 772.7 L913.6 774.5 L915.2 776.2 L916.7 777.9 L918.3 779.5 L919.8 781.0 L921.3 782.5 L922.9 784.0 L924.4 785.4 L926.0 786.7 L927.5 788.1 L929.0 789.4 L930.6 790.6 L932.1 791.9 L933.7 793.1 L935.2 794.3 L936.7 795.5 L938.3 796.6 L939.8 797.7 L941.4 798.8 L942.9 799.9 L944.4 801.0 L946.0 802.1 L947.5 803.1 L949.1 804.2 L950.6 805.2 L952.1 806.2 L953.7 807.2 L955.2 808.2 L956.8 809.1 L958.3 810.1 L959.8 811.0 L961.4 812.0 L962.9 812.9 L964.5 813.8 L966.0 814.7 L967.5 815.5 L969.1 816.4 L970.6 817.3 L972.2 818.1 L973.7 818.9 L975.2 819.7 L976.8 820.5 L978.3 821.3 L979.9 822.1 L981.4 822.8 L982.9 823.6 L984.5 824.3 L986.0 825.0 L987.6 825.7 L989.1 826.4 L990.6 827.1 L992.2 827.8 L993.7 828.5 L995.3 829.1 L996.8 829.8 L998.3 830.4 L999.9 831.1 L1001.4 831.7 L1003.0 832.4 L1004.5 833.1 L1006.0 833.7 L1007.6 834.4 L1009.1 835.1 L1010.7 835.8 L1012.2 836.5 L1013.7 837.3 L1015.3 838.1 L1016.8 838.9 L1018.4 839.8 L1019.9 840.7 L1021.4 841.6 L1023.0 842.6 L1024.5 843.7 L1026.1 844.8 L1027.6 845.8 L1029.1 846.9 L1030.7 847.9 L1032.2 848.9 L1033.8 849.9 L1035.3 850.9 L1036.8 851.9 L1038.4 852.8 L1039.9 853.8 L1041.5 854.7 L1043.0 855.7 L1044.5 856.6 L1046.1 857.6 L1047.6 858.5 L1049.2 859.4 L1050.7 860.3 L1052.2 861.2 L1053.8 862.1 L1055.3 863.0 L1056.9 863.9 L1058.4 864.8 L1059.9 865.7 L1061.5 866.6 L1063.0 867.5 L1064.6 868.4 L1066.1 869.3 L1067.6 870.1 L1069.2 871.0 L1070.7 871.8 L1072.3 872.7 L1073.8 873.5 L1075.3 874.4 L1076.9 875.2 L1078.4 876.0 L1080.0 876.9 L1081.5 877.7 L1083.0 878.5 L1084.6 879.3 L1086.1 880.0 L1087.7 880.8 L1089.2 881.6 L1090.7 882.3 L1092.3 883.1 L1093.8 883.8 L1095.4 884.5 L1096.9 885.2 L1098.4 885.9 L1100.0 886.6 L1101.5 887.2 L1103.1 887.9 L1104.6 888.5 L1106.1 889.1 L1107.7 889.7 L1109.2 890.3 L1110.8 890.9 L1112.3 891.5 L1113.8 892.0 L1115.4 892.6 L1116.9 893.1 L1118.5 893.6 L1120.0 894.1 L1121.5 894.5 L1123.1 895.0 L1124.6 895.4 L1126.2 895.9 L1127.7 896.3 L1129.2 896.7 L1130.8 897.1 L1132.3 897.5 L1133.9 897.9 L1135.4 898.3 L1136.9 898.6 L1138.5 899.0 L1140.0 900.0 L1141.6 901.2 L1143.1 902.6 L1144.7 904.0 L1146.2 905.5 L1147.7 907.0 L1149.3 908.6 L1150.8 910.2 L1152.4 911.9 L1153.9 913.5 L1155.4 915.2 L1157.0 916.9 L1158.5 918.6 L1160.1 920.3 L1161.6 922.0 L1163.1 923.7 L1164.7 925.3 L1166.2 926.9 L1167.8 928.6 L1169.3 930.1 L1170.8 931.7 L1172.4 933.2 L1173.9 934.7 L1175.5 936.1 L1177.0 937.5 L1178.5 938.9 L1180.1 940.2 L1181.6 941.4 L1183.2 942.6 L1184.7 943.8 L1186.2 944.9 L1187.8 946.0 L1189.3 947.0 L1190.9 948.0 L1192.4 948.9 L1193.9 949.8 L1195.5 950.7 L1197.0 951.4 L1198.6 952.2 L1200.1 952.9 L1201.6 953.5 L1203.2 954.1 L1204.7 954.7 L1206.3 955.2 L1207.8 955.7 L1209.3 956.1 L1210.9 956.5 L1212.4 956.9 L1214.0 957.2 L1215.5 957.5 L1217.0 957.8 L1218.6 958.0 L1220.1 958.2 L1221.7 958.4 L1223.2 958.5 L1224.7 958.6 L1226.3 958.7 L1227.8 958.7 L1229.4 958.8 L1230.9 958.8 L1232.4 958.7 L1234.0 958.7 L1235.5 958.6 L1237.1 958.5 L1238.6 958.4 L1240.1 958.2 L1241.7 958.0 L1243.2 957.8 L1244.8 957.6 L1246.3 957.3 L1247.8 957.0 L1249.4 956.6 L1250.9 956.3 L1252.5 955.9 L1254.0 955.4" fill="none" stroke="#486fbc" stroke-width="2.0" stroke-linejoin="round"/>
<g fill="#486fbc"><path d="M793.5 593.4L797.1 597.0L793.5 600.6L789.9 597.0Z"/><path d="M796.5 598.4L800.1 602.0L796.5 605.6L792.9 602.0Z"/><path d="M800.1 604.7L803.7 608.3L800.1 611.9L796.5 608.3Z"/><path d="M804.9 613.2L808.5 616.8L804.9 620.4L801.3 616.8Z"/><path d="M811.3 624.7L814.9 628.3L811.3 631.9L807.7 628.3Z"/><path d="M819.3 639.2L822.9 642.8L819.3 646.4L815.7 642.8Z"/><path d="M828.9 655.9L832.5 659.5L828.9 663.1L825.3 659.5Z"/><path d="M839.7 673.6L843.3 677.2L839.7 680.8L836.1 677.2Z"/><path d="M851.1 690.9L854.7 694.5L851.1 698.1L847.5 694.5Z"/><path d="M862.5 706.9L866.1 710.5L862.5 714.1L858.9 710.5Z"/><path d="M873.2 721.1L876.8 724.7L873.2 728.3L869.6 724.7Z"/><path d="M882.8 733.3L886.4 736.9L882.8 740.5L879.2 736.9Z"/><path d="M890.8 743.3L894.4 746.9L890.8 750.5L887.2 746.9Z"/><path d="M897.2 751.1L900.8 754.7L897.2 758.3L893.6 754.7Z"/><path d="M902.0 756.9L905.6 760.5L902.0 764.1L898.4 760.5Z"/><path d="M905.6 761.3L909.2 764.9L905.6 768.5L902.0 764.9Z"/><path d="M908.6 764.8L912.2 768.4L908.6 772.0L905.0 768.4Z"/><path d="M911.6 768.5L915.2 772.1L911.6 775.7L908.0 772.1Z"/><path d="M915.2 772.7L918.8 776.3L915.2 779.9L911.6 776.3Z"/><path d="M920.1 777.7L923.7 781.3L920.1 784.9L916.5 781.3Z"/><path d="M926.4 783.5L930.0 787.1L926.4 790.7L922.8 787.1Z"/><path d="M934.4 790.1L938.0 793.7L934.4 797.3L930.8 793.7Z"/><path d="M944.0 797.1L947.6 800.7L944.0 804.3L940.4 800.7Z"/><path d="M954.8 804.3L958.4 807.9L954.8 811.5L951.2 807.9Z"/><path d="M966.2 811.2L969.8 814.8L966.2 818.4L962.6 814.8Z"/><path d="M977.6 817.3L981.2 820.9L977.6 824.5L974.0 820.9Z"/><path d="M988.4 822.5L992.0 826.1L988.4 829.7L984.8 826.1Z"/><path d="M997.9 826.7L1001.5 830.3L997.9 833.9L994.3 830.3Z"/><path d="M1006.0 830.1L1009.6 833.7L1006.0 837.3L1002.4 833.7Z"/><path d="M1012.3 833.0L1015.9 836.6L1012.3 840.2L1008.7 836.6Z"/><path d="M1017.1 835.5L1020.7 839.1L1017.1 842.7L1013.5 839.1Z"/><path d="M1020.8 837.6L1024.4 841.2L1020.8 844.8L1017.2 841.2Z"/><path d="M1023.8 839.6L1027.3 843.2L1023.8 846.8L1020.1 843.2Z"/><path d="M1026.7 841.6L1030.3 845.2L1026.7 848.8L1023.1 845.2Z"/><path d="M1030.4 844.1L1034.0 847.7L1030.4 851.3L1026.8 847.7Z"/><path d="M1035.2 847.2L1038.8 850.8L1035.2 854.4L1031.6 850.8Z"/><path d="M1041.5 851.2L1045.1 854.8L1041.5 858.4L1037.9 854.8Z"/><path d="M1049.6 856.1L1053.2 859.7L1049.6 863.3L1046.0 859.7Z"/><path d="M1059.1 861.7L1062.7 865.3L1059.1 868.9L1055.5 865.3Z"/><path d="M1069.9 867.8L1073.5 871.4L1069.9 875.0L1066.3 871.4Z"/><path d="M1081.3 874.0L1084.9 877.6L1081.3 881.2L1077.7 877.6Z"/><path d="M1092.7 879.7L1096.3 883.3L1092.7 886.9L1089.1 883.3Z"/><path d="M1103.5 884.5L1107.1 888.1L1103.5 891.7L1099.9 888.1Z"/><path d="M1113.1 888.1L1116.7 891.7L1113.1 895.3L1109.5 891.7Z"/><path d="M1121.1 890.8L1124.7 894.4L1121.1 898.0L1117.5 894.4Z"/><path d="M1127.4 892.6L1131.0 896.2L1127.4 899.8L1123.8 896.2Z"/><path d="M1132.3 893.9L1135.9 897.5L1132.3 901.1L1128.7 897.5Z"/><path d="M1135.9 894.8L1139.5 898.4L1135.9 902.0L1132.3 898.4Z"/><path d="M1138.9 895.5L1142.5 899.1L1138.9 902.7L1135.3 899.1Z"/><path d="M1141.9 897.9L1145.5 901.5L1141.9 905.1L1138.3 901.5Z"/><path d="M1145.5 901.2L1149.1 904.8L1145.5 908.4L1141.9 904.8Z"/><path d="M1150.3 906.1L1153.9 909.7L1150.3 913.3L1146.7 909.7Z"/><path d="M1156.7 913.0L1160.3 916.6L1156.7 920.2L1153.1 916.6Z"/><path d="M1164.7 921.7L1168.3 925.3L1164.7 928.9L1161.1 925.3Z"/><path d="M1174.3 931.4L1177.9 935.0L1174.3 938.6L1170.7 935.0Z"/><path d="M1185.0 940.5L1188.6 944.1L1185.0 947.7L1181.4 944.1Z"/><path d="M1196.4 947.6L1200.0 951.2L1196.4 954.8L1192.8 951.2Z"/><path d="M1207.8 952.1L1211.4 955.7L1207.8 959.3L1204.2 955.7Z"/><path d="M1218.6 954.4L1222.2 958.0L1218.6 961.6L1215.0 958.0Z"/><path d="M1228.2 955.1L1231.8 958.7L1228.2 962.3L1224.6 958.7Z"/><path d="M1236.2 954.9L1239.8 958.5L1236.2 962.1L1232.6 958.5Z"/><path d="M1242.6 954.3L1246.2 957.9L1242.6 961.5L1239.0 957.9Z"/><path d="M1247.4 953.5L1251.0 957.1L1247.4 960.7L1243.8 957.1Z"/><path d="M1251.0 952.6L1254.6 956.2L1251.0 959.8L1247.4 956.2Z"/><path d="M1254.0 951.8L1257.6 955.4L1254.0 959.0L1250.4 955.4Z"/></g>
<path d="M793.5 593.0 L795.0 595.5 L796.6 597.9 L798.1 600.4 L799.7 602.9 L801.2 605.4 L802.7 608.0 L804.3 610.5 L805.8 613.0 L807.4 615.6 L808.9 618.1 L810.4 620.7 L812.0 623.2 L813.5 625.7 L815.1 628.2 L816.6 630.8 L818.1 633.3 L819.7 635.8 L821.2 638.3 L822.8 640.7 L824.3 643.2 L825.8 645.7 L827.4 648.1 L828.9 650.6 L830.5 653.0 L832.0 655.4 L833.5 657.8 L835.1 660.2 L836.6 662.5 L838.2 664.9 L839.7 667.2 L841.2 669.6 L842.8 671.9 L844.3 674.2 L845.9 676.5 L847.4 678.7 L848.9 681.0 L850.5 683.3 L852.0 685.5 L853.6 687.7 L855.1 690.0 L856.6 692.2 L858.2 694.4 L859.7 696.6 L861.3 698.7 L862.8 700.9 L864.3 703.0 L865.9 705.2 L867.4 707.3 L869.0 709.4 L870.5 711.5 L872.0 713.6 L873.6 715.7 L875.1 717.8 L876.7 719.8 L878.2 721.9 L879.7 723.9 L881.3 725.9 L882.8 727.9 L884.4 729.8 L885.9 731.8 L887.4 734.1 L889.0 736.4 L890.5 738.5 L892.1 740.6 L893.6 742.6 L895.1 744.5 L896.7 746.3 L898.2 748.1 L899.8 749.8 L901.3 751.4 L902.8 753.0 L904.4 754.6 L905.9 756.1 L907.5 757.5 L909.0 758.9 L910.6 760.3 L912.1 761.6 L913.6 762.9 L915.2 764.1 L916.7 765.3 L918.3 766.5 L919.8 767.6 L921.3 768.7 L922.9 769.8 L924.4 770.9 L926.0 771.9 L927.5 773.0 L929.0 774.0 L930.6 775.0 L932.1 775.9 L933.7 776.9 L935.2 777.8 L936.7 778.7 L938.3 779.7 L939.8 780.6 L941.4 781.5 L942.9 782.3 L944.4 783.2 L946.0 784.1 L947.5 784.9 L949.1 785.8 L950.6 786.6 L952.1 787.5 L953.7 788.3 L955.2 789.2 L956.8 790.0 L958.3 790.8 L959.8 791.6 L961.4 792.5 L962.9 793.3 L964.5 794.1 L966.0 794.9 L967.5 795.7 L969.1 796.5 L970.6 797.3 L972.2 798.1 L973.7 798.9 L975.2 799.7 L976.8 800.5 L978.3 801.3 L979.9 802.1 L981.4 802.8 L982.9 803.6 L984.5 804.4 L986.0 805.1 L987.6 805.9 L989.1 806.7 L990.6 807.4 L992.2 808.2 L993.7 808.9 L995.3 809.6 L996.8 810.4 L998.3 811.1 L999.9 811.8 L1001.4 812.5 L1003.0 813.2 L1004.5 813.9 L1006.0 814.6 L1007.6 815.2 L1009.1 815.9 L1010.7 816.5 L1012.2 817.2 L1013.7 817.8 L1015.3 818.4 L1016.8 819.0 L1018.4 819.6 L1019.9 820.2 L1021.4 820.8 L1023.0 821.4 L1024.5 821.9 L1026.1 822.5 L1027.6 823.0 L1029.1 823.5 L1030.7 824.0 L1032.2 824.5 L1033.8 825.0 L1035.3 825.5 L1036.8 826.0 L1038.4 826.4 L1039.9 826.9 L1041.5 827.3 L1043.0 827.7 L1044.5 828.1 L1046.1 828.5 L1047.6 828.9 L1049.2 829.3 L1050.7 829.7 L1052.2 830.0 L1053.8 830.4 L1055.3 830.8 L1056.9 831.1 L1058.4 831.5 L1059.9 831.8 L1061.5 832.1 L1063.0 832.5 L1064.6 832.8 L1066.1 833.2 L1067.6 833.5 L1069.2 833.9 L1070.7 834.8 L1072.3 836.0 L1073.8 837.1 L1075.3 838.1 L1076.9 839.1 L1078.4 839.9 L1080.0 840.7 L1081.5 841.4 L1083.0 842.2 L1084.6 842.8 L1086.1 843.5 L1087.7 844.2 L1089.2 844.8 L1090.7 845.5 L1092.3 846.2 L1093.8 846.9 L1095.4 847.6 L1096.9 848.3 L1098.4 849.0 L1100.0 849.7 L1101.5 850.5 L1103.1 851.2 L1104.6 852.0 L1106.1 852.8 L1107.7 853.5 L1109.2 854.3 L1110.8 855.1 L1112.3 855.9 L1113.8 856.6 L1115.4 857.4 L1116.9 858.1 L1118.5 858.8 L1120.0 859.5 L1121.5 860.2 L1123.1 860.8 L1124.6 861.4 L1126.2 861.9 L1127.7 862.5 L1129.2 862.9 L1130.8 863.4 L1132.3 863.8 L1133.9 864.2 L1135.4 864.5 L1136.9 864.8 L1138.5 865.1 L1140.0 865.3 L1141.6 865.5 L1143.1 865.7 L1144.7 865.9 L1146.2 866.1 L1147.7 866.3 L1149.3 866.6 L1150.8 866.8 L1152.4 867.2 L1153.9 867.6 L1155.4 868.0 L1157.0 868.6 L1158.5 869.3 L1160.1 870.2 L1161.6 871.3 L1163.1 872.8 L1164.7 874.5 L1166.2 876.2 L1167.8 877.8 L1169.3 879.5 L1170.8 881.1 L1172.4 882.7 L1173.9 884.3 L1175.5 885.9 L1177.0 887.4 L1178.5 888.9 L1180.1 890.4 L1181.6 891.9 L1183.2 893.3 L1184.7 894.8 L1186.2 896.1 L1187.8 897.5 L1189.3 898.8 L1190.9 900.1 L1192.4 901.4 L1193.9 902.6 L1195.5 903.8 L1197.0 905.0 L1198.6 906.1 L1200.1 907.2 L1201.6 908.2 L1203.2 909.2 L1204.7 910.1 L1206.3 911.0 L1207.8 911.9 L1209.3 912.7 L1210.9 913.4 L1212.4 914.1 L1214.0 914.8 L1215.5 915.4 L1217.0 915.9 L1218.6 916.4 L1220.1 916.9 L1221.7 917.3 L1223.2 917.6 L1224.7 917.9 L1226.3 918.2 L1227.8 918.4 L1229.4 918.5 L1230.9 918.6 L1232.4 918.7 L1234.0 918.7 L1235.5 918.7 L1237.1 918.6 L1238.6 918.5 L1240.1 918.3 L1241.7 918.1 L1243.2 917.9 L1244.8 917.7 L1246.3 917.4 L1247.8 917.1 L1249.4 916.8 L1250.9 916.5 L1252.5 916.1 L1254.0 915.8" fill="none" stroke="#141414" stroke-width="3.0" stroke-linejoin="round"/>
<g stroke="#141414" stroke-width="1.6" fill="none"><path d="M791.3 590.8L795.7 595.2M795.7 590.8L791.3 595.2M793.5 590.4V595.6"/><path d="M793.9 594.9L798.3 599.3M798.3 594.9L793.9 599.3M796.1 594.5V599.7"/><path d="M797.0 600.0L801.4 604.4M801.4 600.0L797.0 604.4M799.2 599.6V604.9"/><path d="M801.4 607.1L805.8 611.5M805.8 607.1L801.4 611.5M803.6 606.7V611.9"/><path d="M807.1 616.6L811.5 621.0M811.5 616.6L807.1 621.0M809.3 616.2V621.4"/><path d="M814.4 628.5L818.8 632.9M818.8 628.5L814.4 632.9M816.6 628.1V633.4"/><path d="M823.0 642.4L827.4 646.8M827.4 642.4L823.0 646.8M825.2 642.0V647.2"/><path d="M832.5 657.3L836.9 661.7M836.9 657.3L832.5 661.7M834.7 656.9V662.1"/><path d="M842.2 672.2L846.6 676.6M846.6 672.2L842.2 676.6M844.4 671.7V677.0"/><path d="M851.7 686.1L856.1 690.5M856.1 686.1L851.7 690.5M853.9 685.6V690.9"/><path d="M860.3 698.3L864.7 702.7M864.7 698.3L860.3 702.7M862.5 697.8V703.1"/><path d="M867.6 708.4L872.0 712.8M872.0 708.4L867.6 712.8M869.8 707.9V713.2"/><path d="M873.3 716.1L877.7 720.5M877.7 716.1L873.3 720.5M875.5 715.7V721.0"/><path d="M877.7 721.8L882.1 726.2M882.1 721.8L877.7 726.2M879.9 721.4V726.7"/><path d="M880.8 725.9L885.2 730.3M885.2 725.9L880.8 730.3M883.0 725.5V730.8"/><path d="M883.4 729.2L887.8 733.6M887.8 729.2L883.4 733.6M885.6 728.7V734.0"/><path d="M886.0 733.0L890.4 737.4M890.4 733.0L886.0 737.4M888.2 732.6V737.8"/><path d="M889.1 737.4L893.5 741.8M893.5 737.4L889.1 741.8M891.3 737.0V742.3"/><path d="M893.5 742.9L897.9 747.3M897.9 742.9L893.5 747.3M895.7 742.4V747.7"/><path d="M899.2 749.4L903.6 753.8M903.6 749.4L899.2 753.8M901.4 748.9V754.2"/><path d="M906.5 756.4L910.9 760.8M910.9 756.4L906.5 760.8M908.7 756.0V761.3"/><path d="M915.1 763.5L919.5 767.9M919.5 763.5L915.1 767.9M917.3 763.1V768.4"/><path d="M924.6 770.3L929.0 774.7M929.0 770.3L924.6 774.7M926.8 769.8V775.1"/><path d="M934.3 776.4L938.7 780.8M938.7 776.4L934.3 780.8M936.5 776.0V781.3"/><path d="M943.8 781.9L948.2 786.3M948.2 781.9L943.8 786.3M946.0 781.5V786.8"/><path d="M952.4 786.6L956.8 791.0M956.8 786.6L952.4 791.0M954.6 786.2V791.5"/><path d="M959.7 790.5L964.1 794.9M964.1 790.5L959.7 794.9M961.9 790.1V795.4"/><path d="M965.4 793.6L969.8 798.0M969.8 793.6L965.4 798.0M967.6 793.1V798.4"/><path d="M969.8 795.8L974.2 800.2M974.2 795.8L969.8 800.2M972.0 795.4V800.7"/><path d="M972.9 797.5L977.3 801.9M977.3 797.5L972.9 801.9M975.1 797.0V802.3"/><path d="M975.5 798.8L979.9 803.2M979.9 798.8L975.5 803.2M977.7 798.3V803.6"/><path d="M978.1 800.1L982.5 804.5M982.5 800.1L978.1 804.5M980.3 799.6V804.9"/><path d="M981.2 801.7L985.6 806.1M985.6 801.7L981.2 806.1M983.4 801.2V806.5"/><path d="M985.6 803.8L990.0 808.2M990.0 803.8L985.6 808.2M987.8 803.4V808.6"/><path d="M991.3 806.6L995.7 811.0M995.7 806.6L991.3 811.0M993.5 806.2V811.4"/><path d="M998.6 810.0L1003.0 814.4M1003.0 810.0L998.6 814.4M1000.8 809.6V814.8"/><path d="M1007.2 813.8L1011.6 818.2M1011.6 813.8L1007.2 818.2M1009.4 813.3V818.6"/><path d="M1016.7 817.6L1021.1 822.0M1021.1 817.6L1016.7 822.0M1018.9 817.2V822.5"/><path d="M1026.4 821.2L1030.8 825.6M1030.8 821.2L1026.4 825.6M1028.6 820.7V826.0"/><path d="M1035.9 824.1L1040.3 828.5M1040.3 824.1L1035.9 828.5M1038.1 823.7V829.0"/><path d="M1044.5 826.5L1048.9 830.9M1048.9 826.5L1044.5 830.9M1046.7 826.0V831.3"/><path d="M1051.8 828.3L1056.2 832.7M1056.2 828.3L1051.8 832.7M1054.0 827.8V833.1"/><path d="M1057.5 829.6L1061.9 834.0M1061.9 829.6L1057.5 834.0M1059.7 829.1V834.4"/><path d="M1061.9 830.5L1066.3 834.9M1066.3 830.5L1061.9 834.9M1064.1 830.1V835.4"/><path d="M1065.0 831.2L1069.4 835.6M1069.4 831.2L1065.0 835.6M1067.2 830.8V836.1"/><path d="M1067.6 831.8L1072.0 836.2M1072.0 831.8L1067.6 836.2M1069.8 831.4V836.6"/><path d="M1070.2 833.9L1074.6 838.3M1074.6 833.9L1070.2 838.3M1072.4 833.5V838.8"/><path d="M1073.3 836.1L1077.7 840.5M1077.7 836.1L1073.3 840.5M1075.5 835.6V840.9"/><path d="M1077.7 838.4L1082.1 842.8M1082.1 838.4L1077.7 842.8M1079.9 838.0V843.3"/><path d="M1083.4 841.1L1087.8 845.5M1087.8 841.1L1083.4 845.5M1085.6 840.6V845.9"/><path d="M1090.7 844.2L1095.1 848.6M1095.1 844.2L1090.7 848.6M1092.9 843.8V849.1"/><path d="M1099.3 848.2L1103.7 852.6M1103.7 848.2L1099.3 852.6M1101.5 847.8V853.1"/><path d="M1108.8 853.0L1113.2 857.4M1113.2 853.0L1108.8 857.4M1111.0 852.6V857.8"/><path d="M1118.5 857.6L1122.9 862.0M1122.9 857.6L1118.5 862.0M1120.7 857.2V862.5"/><path d="M1128.0 861.0L1132.4 865.4M1132.4 861.0L1128.0 865.4M1130.2 860.6V865.9"/><path d="M1136.6 862.9L1141.0 867.3M1141.0 862.9L1136.6 867.3M1138.8 862.5V867.7"/><path d="M1143.9 863.9L1148.3 868.3M1148.3 863.9L1143.9 868.3M1146.1 863.5V868.7"/><path d="M1149.6 864.8L1154.0 869.2M1154.0 864.8L1149.6 869.2M1151.8 864.4V869.7"/><path d="M1154.0 866.1L1158.4 870.5M1158.4 866.1L1154.0 870.5M1156.2 865.7V870.9"/><path d="M1157.1 867.6L1161.5 872.0M1161.5 867.6L1157.1 872.0M1159.3 867.1V872.4"/><path d="M1159.7 869.3L1164.1 873.7M1164.1 869.3L1159.7 873.7M1161.9 868.8V874.1"/><path d="M1162.3 872.1L1166.7 876.5M1166.7 872.1L1162.3 876.5M1164.5 871.7V876.9"/><path d="M1165.4 875.5L1169.8 879.9M1169.8 875.5L1165.4 879.9M1167.6 875.1V880.4"/><path d="M1169.8 880.1L1174.2 884.5M1174.2 880.1L1169.8 884.5M1172.0 879.6V884.9"/><path d="M1175.5 885.9L1179.9 890.3M1179.9 885.9L1175.5 890.3M1177.7 885.5V890.7"/><path d="M1182.8 892.8L1187.2 897.2M1187.2 892.8L1182.8 897.2M1185.0 892.4V897.7"/><path d="M1191.4 900.1L1195.8 904.5M1195.8 900.1L1191.4 904.5M1193.6 899.7V905.0"/><path d="M1200.9 906.9L1205.3 911.3M1205.3 906.9L1200.9 911.3M1203.1 906.5V911.7"/><path d="M1210.6 912.1L1215.0 916.5M1215.0 912.1L1210.6 916.5M1212.8 911.7V917.0"/><path d="M1220.1 915.3L1224.5 919.7M1224.5 915.3L1220.1 919.7M1222.3 914.8V920.1"/><path d="M1228.7 916.4L1233.1 920.8M1233.1 916.4L1228.7 920.8M1230.9 916.0V921.3"/><path d="M1236.0 916.3L1240.4 920.7M1240.4 916.3L1236.0 920.7M1238.2 915.9V921.2"/><path d="M1241.7 915.6L1246.1 920.0M1246.1 915.6L1241.7 920.0M1243.9 915.2V920.4"/><path d="M1246.1 914.8L1250.5 919.2M1250.5 914.8L1246.1 919.2M1248.3 914.4V919.7"/><path d="M1249.2 914.2L1253.6 918.6M1253.6 914.2L1249.2 918.6M1251.4 913.7V919.0"/><path d="M1251.8 913.6L1256.2 918.0M1256.2 913.6L1251.8 918.0M1254.0 913.2V918.4"/></g>
<rect x="772.0" y="563.0" width="504.6" height="456.6" fill="none" stroke="#282828" stroke-width="3.2"/>
<text x="1005.1" y="585.3" text-anchor="middle" class="pl" letter-spacing="1.5">(d)</text>
<text transform="translate(682,792.5) rotate(-90)" text-anchor="middle" class="ax" letter-spacing="0">Overpotential (V)</text>
<text x="1023.3" y="1088.6" text-anchor="middle" class="ax">Distance from the separator</text>
<line x1="148" y1="315.5" x2="194.8" y2="315.5" stroke="#c9444f" stroke-width="2.3"/><g fill="#c9444f"><circle cx="171.4" cy="315.5" r="2.8"/></g><text x="213.5" y="323.5" class="lg">uniform,min R</text><line x1="148" y1="348.6" x2="194.8" y2="348.6" stroke="#8470c2" stroke-width="2.2"/><g fill="#8470c2"><circle cx="171.4" cy="348.6" r="3.5"/></g><text x="213.5" y="356.6" class="lg">2 layer, min <tspan class="eta">η</tspan><tspan class="sd" dx="1.5" dy="3.5">SD</tspan></text><line x1="148" y1="382.2" x2="194.8" y2="382.2" stroke="#6bbfd8" stroke-width="2.8"/><g fill="#6bbfd8"><path d="M171.4 378.2L175.4 385.4L167.4 385.4Z"/></g><text x="213.5" y="390.2" class="lg">3 layer, min <tspan class="eta">η</tspan><tspan class="sd" dx="1.5" dy="3.5">SD</tspan></text><line x1="148" y1="415.8" x2="194.8" y2="415.8" stroke="#486fbc" stroke-width="2.4"/><g fill="#486fbc"><path d="M171.4 412.2L175.0 415.8L171.4 419.4L167.8 415.8Z"/></g><text x="213.5" y="423.8" class="lg">4 layer, min <tspan class="eta">η</tspan><tspan class="sd" dx="1.5" dy="3.5">SD</tspan></text><line x1="148" y1="449.1" x2="194.8" y2="449.1" stroke="#141414" stroke-width="3.4"/><g stroke="#141414" stroke-width="1.6" fill="none"><path d="M169.2 446.9L173.6 451.3M173.6 446.9L169.2 451.3M171.4 446.5V451.7"/></g><text x="213.5" y="457.1" class="lg">5 layer, min <tspan class="eta">η</tspan><tspan class="sd" dx="1.5" dy="3.5">SD</tspan></text>
</g>
</svg>
</body></html>
